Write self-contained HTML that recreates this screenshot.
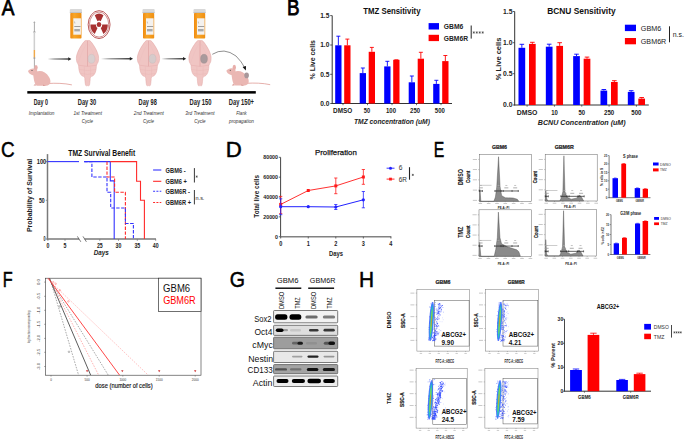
<!DOCTYPE html><html><head><meta charset="utf-8"><title>Figure</title>
<style>html,body{margin:0;padding:0;background:#fff;width:685px;height:439px;overflow:hidden}svg{display:block;font-family:"Liberation Sans",sans-serif}</style></head><body>
<svg width="685" height="439" viewBox="0 0 685 439">
<defs><linearGradient id="agrad" x1="0" x2="1" y1="0" y2="0"><stop offset="0" stop-color="#000" stop-opacity="0"/><stop offset="0.35" stop-color="#333" stop-opacity="0.6"/><stop offset="1" stop-color="#111"/></linearGradient><linearGradient id="bgrad" x1="0" x2="1" y1="0" y2="0"><stop offset="0" stop-color="#f08a10"/><stop offset="0.35" stop-color="#f7a629"/><stop offset="1" stop-color="#ef8f12"/></linearGradient><filter id="blur2" x="-50%" y="-10%" width="200%" height="120%"><feGaussianBlur stdDeviation="0.4"/></filter><filter id="blur1" x="-30%" y="-60%" width="160%" height="220%"><feGaussianBlur stdDeviation="0.55"/></filter><clipPath id="fclip"><rect x="45.5" y="278.2" width="155.5" height="97"/></clipPath></defs>
<rect width="685" height="439" fill="#fff"/>
<text x="1.80" y="15.30" font-size="22.46" textLength="12.64" lengthAdjust="spacingAndGlyphs" stroke="#000" stroke-width="0.8">A</text>
<line x1="34.40" y1="21.50" x2="34.40" y2="70.00" stroke="#555" stroke-width="0.5"/>
<rect x="33.60" y="22.00" width="1.60" height="1.00" fill="#aaa"/>
<rect x="33.30" y="31.50" width="2.20" height="1.00" fill="#999"/>
<rect x="33.70" y="32.00" width="1.40" height="18.00" fill="#cfcfcf"/>
<rect x="33.70" y="50.00" width="1.40" height="7.50" fill="#f0a848"/>
<rect x="33.50" y="57.50" width="1.80" height="1.20" fill="#999"/>
<rect x="27.30" y="91.10" width="228.50" height="2.50" fill="#000"/>
<rect x="47.70" y="58.40" width="20.90" height="1.20" fill="url(#agrad)"/>
<path d="M71.4,59.0 L68.2,57.3 L68.2,60.7 Z" fill="#222" stroke="none" stroke-width="1"/>
<rect x="101.00" y="58.20" width="29.20" height="1.20" fill="url(#agrad)"/>
<path d="M133.0,58.8 L129.8,57.1 L129.8,60.5 Z" fill="#222" stroke="none" stroke-width="1"/>
<rect x="161.40" y="58.20" width="22.00" height="1.20" fill="url(#agrad)"/>
<path d="M186.2,58.8 L183.0,57.1 L183.0,60.5 Z" fill="#222" stroke="none" stroke-width="1"/>
<path d="M212.3,54.3 Q224,47 236,56 Q242,62 244.6,67.6" fill="none" stroke="#333" stroke-width="0.55"/>
<path d="M245.8,70.6 L242.6,67.0 L246.0,66.0 Z" fill="#111" stroke="none" stroke-width="1"/>
<rect x="69.80" y="9.0" width="12.2" height="4.2" rx="1" fill="#d8d8d8"/>
<rect x="69.80" y="12.30" width="12.20" height="0.90" fill="#bbb"/>
<rect x="70.30" y="13.1" width="11.2" height="25.4" rx="0.8" fill="url(#bgrad)"/>
<rect x="73.30" y="18.30" width="7.60" height="16.40" fill="#f4f1ee"/>
<line x1="74.50" y1="21.50" x2="74.90" y2="23.50" stroke="#777" stroke-width="0.4"/>
<rect x="74.30" y="26.00" width="6.20" height="0.60" fill="#666"/>
<rect x="74.30" y="29.00" width="5.60" height="2.40" fill="#aaa"/>
<rect x="142.50" y="9.0" width="12.2" height="4.2" rx="1" fill="#d8d8d8"/>
<rect x="142.50" y="12.30" width="12.20" height="0.90" fill="#bbb"/>
<rect x="143.00" y="13.1" width="11.2" height="25.4" rx="0.8" fill="url(#bgrad)"/>
<rect x="146.00" y="18.30" width="7.60" height="16.40" fill="#f4f1ee"/>
<line x1="147.20" y1="21.50" x2="147.60" y2="23.50" stroke="#777" stroke-width="0.4"/>
<rect x="147.00" y="26.00" width="6.20" height="0.60" fill="#666"/>
<rect x="147.00" y="29.00" width="5.60" height="2.40" fill="#aaa"/>
<rect x="193.50" y="9.0" width="12.2" height="4.2" rx="1" fill="#d8d8d8"/>
<rect x="193.50" y="12.30" width="12.20" height="0.90" fill="#bbb"/>
<rect x="194.00" y="13.1" width="11.2" height="25.4" rx="0.8" fill="url(#bgrad)"/>
<rect x="197.00" y="18.30" width="7.60" height="16.40" fill="#f4f1ee"/>
<line x1="198.20" y1="21.50" x2="198.60" y2="23.50" stroke="#777" stroke-width="0.4"/>
<rect x="198.00" y="26.00" width="6.20" height="0.60" fill="#666"/>
<rect x="198.00" y="29.00" width="5.60" height="2.40" fill="#aaa"/>
<ellipse cx="99.1" cy="24.6" rx="10.95" ry="13.95" fill="none" stroke="#a83131" stroke-width="0.8"/>
<ellipse cx="99.1" cy="24.6" rx="9.6" ry="12.55" fill="none" stroke="#a83131" stroke-width="0.55"/>
<path d="M97.50,21.14 L94.74,15.16 A8.72,10.90 0 0 1 103.46,15.16 L100.70,21.14 A3.20,4.00 0 0 0 97.50,21.14 Z M102.30,24.60 L107.82,24.60 A8.72,10.90 0 0 1 103.46,34.04 L100.70,28.06 A3.20,4.00 0 0 0 102.30,24.60 Z M97.50,28.06 L94.74,34.04 A8.72,10.90 0 0 1 90.38,24.60 L95.90,24.60 A3.20,4.00 0 0 0 97.50,28.06 Z" fill="#a83131" stroke="none" stroke-width="1"/>
<ellipse cx="99.0" cy="24.5" rx="2.3" ry="2.5" fill="#a83131"/>
<path d="M87.50,40.60 C87.80,40.58 88.73,40.33 89.30,40.50 C89.87,40.67 90.27,40.92 90.90,41.60 C91.53,42.28 92.23,43.27 93.10,44.60 C93.97,45.93 95.25,47.87 96.10,49.60 C96.95,51.33 97.78,53.50 98.20,55.00 C98.62,56.50 98.62,57.43 98.60,58.60 C98.58,59.77 98.45,60.90 98.10,62.00 C97.75,63.10 96.82,64.12 96.50,65.20 C96.18,66.28 96.40,67.28 96.20,68.50 C96.00,69.72 95.78,71.32 95.30,72.50 C94.82,73.68 94.10,74.82 93.30,75.60 C92.50,76.38 91.03,76.38 90.50,77.20 C89.97,78.02 90.30,79.13 90.10,80.50 C89.90,81.87 89.73,84.55 89.30,85.40 C88.87,86.25 87.80,85.57 87.50,85.60 C87.20,85.57 86.13,86.25 85.70,85.40 C85.27,84.55 85.10,81.87 84.90,80.50 C84.70,79.13 85.03,78.02 84.50,77.20 C83.97,76.38 82.50,76.38 81.70,75.60 C80.90,74.82 80.18,73.68 79.70,72.50 C79.22,71.32 79.00,69.72 78.80,68.50 C78.60,67.28 78.82,66.28 78.50,65.20 C78.18,64.12 77.25,63.10 76.90,62.00 C76.55,60.90 76.42,59.77 76.40,58.60 C76.38,57.43 76.38,56.50 76.80,55.00 C77.22,53.50 78.05,51.33 78.90,49.60 C79.75,47.87 81.03,45.93 81.90,44.60 C82.77,43.27 83.47,42.28 84.10,41.60 C84.73,40.92 85.13,40.67 85.70,40.50 C86.27,40.33 87.20,40.58 87.50,40.60 Z" fill="#f0c5c3" stroke="#e0a4a3" stroke-width="0.5"/>
<path d="M78.50,65.2 Q87.50,67.6 96.50,65.2" fill="none" stroke="#e4abaa" stroke-width="0.45"/>
<path d="M79.30,69.5 Q87.50,71.5 95.70,69.5 M81.00,73.5 Q87.50,75.3 94.00,73.5" fill="none" stroke="#e8b5b4" stroke-width="0.4"/>
<path d="M84.30,66.5 L84.50,76.5 M90.70,66.5 L90.50,76.5" fill="none" stroke="#e8b5b4" stroke-width="0.35"/>
<path d="M88.70,44 Q93.50,52 97.00,63 M86.30,44 Q81.50,52 78.00,63" fill="none" stroke="#ecbcbb" stroke-width="0.35"/>
<line x1="87.50" y1="40.80" x2="87.50" y2="66.20" stroke="#dc9c9c" stroke-width="0.55"/>
<ellipse cx="91.50" cy="58.8" rx="3.4" ry="4.5" fill="#d9cfcf" stroke="#c9bcbd" stroke-width="0.4"/>
<path d="M148.50,40.60 C148.80,40.58 149.73,40.33 150.30,40.50 C150.87,40.67 151.27,40.92 151.90,41.60 C152.53,42.28 153.23,43.27 154.10,44.60 C154.97,45.93 156.25,47.87 157.10,49.60 C157.95,51.33 158.78,53.50 159.20,55.00 C159.62,56.50 159.62,57.43 159.60,58.60 C159.58,59.77 159.45,60.90 159.10,62.00 C158.75,63.10 157.82,64.12 157.50,65.20 C157.18,66.28 157.40,67.28 157.20,68.50 C157.00,69.72 156.78,71.32 156.30,72.50 C155.82,73.68 155.10,74.82 154.30,75.60 C153.50,76.38 152.03,76.38 151.50,77.20 C150.97,78.02 151.30,79.13 151.10,80.50 C150.90,81.87 150.73,84.55 150.30,85.40 C149.87,86.25 148.80,85.57 148.50,85.60 C148.20,85.57 147.13,86.25 146.70,85.40 C146.27,84.55 146.10,81.87 145.90,80.50 C145.70,79.13 146.03,78.02 145.50,77.20 C144.97,76.38 143.50,76.38 142.70,75.60 C141.90,74.82 141.18,73.68 140.70,72.50 C140.22,71.32 140.00,69.72 139.80,68.50 C139.60,67.28 139.82,66.28 139.50,65.20 C139.18,64.12 138.25,63.10 137.90,62.00 C137.55,60.90 137.42,59.77 137.40,58.60 C137.38,57.43 137.38,56.50 137.80,55.00 C138.22,53.50 139.05,51.33 139.90,49.60 C140.75,47.87 142.03,45.93 142.90,44.60 C143.77,43.27 144.47,42.28 145.10,41.60 C145.73,40.92 146.13,40.67 146.70,40.50 C147.27,40.33 148.20,40.58 148.50,40.60 Z" fill="#f0c5c3" stroke="#e0a4a3" stroke-width="0.5"/>
<path d="M139.50,65.2 Q148.50,67.6 157.50,65.2" fill="none" stroke="#e4abaa" stroke-width="0.45"/>
<path d="M140.30,69.5 Q148.50,71.5 156.70,69.5 M142.00,73.5 Q148.50,75.3 155.00,73.5" fill="none" stroke="#e8b5b4" stroke-width="0.4"/>
<path d="M145.30,66.5 L145.50,76.5 M151.70,66.5 L151.50,76.5" fill="none" stroke="#e8b5b4" stroke-width="0.35"/>
<path d="M149.70,44 Q154.50,52 158.00,63 M147.30,44 Q142.50,52 139.00,63" fill="none" stroke="#ecbcbb" stroke-width="0.35"/>
<line x1="148.50" y1="40.80" x2="148.50" y2="66.20" stroke="#dc9c9c" stroke-width="0.55"/>
<ellipse cx="152.50" cy="58.8" rx="3.4" ry="4.5" fill="#d6cbcb" stroke="#c4b8b9" stroke-width="0.4"/>
<path d="M200.00,40.60 C200.30,40.58 201.23,40.33 201.80,40.50 C202.37,40.67 202.77,40.92 203.40,41.60 C204.03,42.28 204.73,43.27 205.60,44.60 C206.47,45.93 207.75,47.87 208.60,49.60 C209.45,51.33 210.28,53.50 210.70,55.00 C211.12,56.50 211.12,57.43 211.10,58.60 C211.08,59.77 210.95,60.90 210.60,62.00 C210.25,63.10 209.32,64.12 209.00,65.20 C208.68,66.28 208.90,67.28 208.70,68.50 C208.50,69.72 208.28,71.32 207.80,72.50 C207.32,73.68 206.60,74.82 205.80,75.60 C205.00,76.38 203.53,76.38 203.00,77.20 C202.47,78.02 202.80,79.13 202.60,80.50 C202.40,81.87 202.23,84.55 201.80,85.40 C201.37,86.25 200.30,85.57 200.00,85.60 C199.70,85.57 198.63,86.25 198.20,85.40 C197.77,84.55 197.60,81.87 197.40,80.50 C197.20,79.13 197.53,78.02 197.00,77.20 C196.47,76.38 195.00,76.38 194.20,75.60 C193.40,74.82 192.68,73.68 192.20,72.50 C191.72,71.32 191.50,69.72 191.30,68.50 C191.10,67.28 191.32,66.28 191.00,65.20 C190.68,64.12 189.75,63.10 189.40,62.00 C189.05,60.90 188.92,59.77 188.90,58.60 C188.88,57.43 188.88,56.50 189.30,55.00 C189.72,53.50 190.55,51.33 191.40,49.60 C192.25,47.87 193.53,45.93 194.40,44.60 C195.27,43.27 195.97,42.28 196.60,41.60 C197.23,40.92 197.63,40.67 198.20,40.50 C198.77,40.33 199.70,40.58 200.00,40.60 Z" fill="#f0c5c3" stroke="#e0a4a3" stroke-width="0.5"/>
<path d="M191.00,65.2 Q200.00,67.6 209.00,65.2" fill="none" stroke="#e4abaa" stroke-width="0.45"/>
<path d="M191.80,69.5 Q200.00,71.5 208.20,69.5 M193.50,73.5 Q200.00,75.3 206.50,73.5" fill="none" stroke="#e8b5b4" stroke-width="0.4"/>
<path d="M196.80,66.5 L197.00,76.5 M203.20,66.5 L203.00,76.5" fill="none" stroke="#e8b5b4" stroke-width="0.35"/>
<path d="M201.20,44 Q206.00,52 209.50,63 M198.80,44 Q194.00,52 190.50,63" fill="none" stroke="#ecbcbb" stroke-width="0.35"/>
<line x1="200.00" y1="40.80" x2="200.00" y2="66.20" stroke="#dc9c9c" stroke-width="0.55"/>
<ellipse cx="204.00" cy="58.8" rx="3.4" ry="4.5" fill="#a99a9c" stroke="#978789" stroke-width="0.4"/>
<path d="M48.00,83.50 C56.00,83.00 64.00,83.20 71.50,84.80" fill="none" stroke="#e6b0ac" stroke-width="1.0" stroke-linecap="round"/>
<path d="M33.00,74.00 C37.00,69.50 45.00,70.00 49.00,77.00 C51.50,81.00 51.00,85.50 46.00,85.80 L37.00,85.80 C34.00,84.00 34.00,79.00 33.00,74.00 Z" fill="#eab7b3" stroke="none" stroke-width="1"/>
<path d="M28.00,71.00 C30.00,68.50 34.00,67.50 37.00,70.00 C38.00,73.00 36.00,76.00 32.00,75.00 C30.00,74.00 28.50,73.00 28.00,71.00 Z" fill="#eab7b3" stroke="none" stroke-width="1"/>
<ellipse cx="36.00" cy="67.60" rx="1.7" ry="2.6" fill="#e8aeaa"/>
<circle cx="32.00" cy="70.50" r="0.55" fill="#444"/>
<path d="M35.00,84.00 l-1.5,1.6 l3,0 Z M43.00,84.50 l0,1.5 l3,0 Z" fill="#d99c98" stroke="none" stroke-width="1"/>
<path d="M246.30,83.30 C254.30,82.80 262.30,83.00 269.80,84.60" fill="none" stroke="#e6b0ac" stroke-width="1.0" stroke-linecap="round"/>
<path d="M231.30,73.80 C235.30,69.30 243.30,69.80 247.30,76.80 C249.80,80.80 249.30,85.30 244.30,85.60 L235.30,85.60 C232.30,83.80 232.30,78.80 231.30,73.80 Z" fill="#eab7b3" stroke="none" stroke-width="1"/>
<path d="M226.30,70.80 C228.30,68.30 232.30,67.30 235.30,69.80 C236.30,72.80 234.30,75.80 230.30,74.80 C228.30,73.80 226.80,72.80 226.30,70.80 Z" fill="#eab7b3" stroke="none" stroke-width="1"/>
<ellipse cx="234.30" cy="67.40" rx="1.7" ry="2.6" fill="#e8aeaa"/>
<circle cx="230.30" cy="70.30" r="0.55" fill="#444"/>
<path d="M233.30,83.80 l-1.5,1.6 l3,0 Z M241.30,84.30 l0,1.5 l3,0 Z" fill="#d99c98" stroke="none" stroke-width="1"/>
<ellipse cx="246.60" cy="75.40" rx="2.3" ry="2.8" fill="#a8979a"/>
<text x="33.70" y="105.20" font-size="8.6" font-weight="bold" textLength="14.30" lengthAdjust="spacingAndGlyphs" fill="#222">Day 0</text>
<text x="77.80" y="105.20" font-size="8.6" font-weight="bold" textLength="18.40" lengthAdjust="spacingAndGlyphs" fill="#222">Day 30</text>
<text x="138.60" y="105.20" font-size="8.6" font-weight="bold" textLength="18.20" lengthAdjust="spacingAndGlyphs" fill="#222">Day 98</text>
<text x="189.60" y="105.20" font-size="8.6" font-weight="bold" textLength="21.90" lengthAdjust="spacingAndGlyphs" fill="#222">Day 150</text>
<text x="228.80" y="105.20" font-size="8.6" font-weight="bold" textLength="25.20" lengthAdjust="spacingAndGlyphs" fill="#222">Day 150+</text>
<text x="28.80" y="115.40" font-size="5.8" textLength="25.70" lengthAdjust="spacingAndGlyphs" font-style="italic" fill="#333">Implantation</text>
<text x="73.40" y="115.40" font-size="5.8" textLength="28.60" lengthAdjust="spacingAndGlyphs" font-style="italic" fill="#333">1st Treatment</text>
<text x="133.80" y="115.40" font-size="5.8" textLength="30.00" lengthAdjust="spacingAndGlyphs" font-style="italic" fill="#333">2nd Treatment</text>
<text x="185.30" y="115.40" font-size="5.8" textLength="29.30" lengthAdjust="spacingAndGlyphs" font-style="italic" fill="#333">3rd Treatment</text>
<text x="241.50" y="115.40" font-size="5.8" text-anchor="middle" textLength="10.50" lengthAdjust="spacingAndGlyphs" font-style="italic" fill="#333">Flank</text>
<text x="87.40" y="123.00" font-size="5.8" text-anchor="middle" textLength="11.20" lengthAdjust="spacingAndGlyphs" font-style="italic" fill="#333">Cycle</text>
<text x="148.50" y="123.00" font-size="5.8" text-anchor="middle" textLength="11.20" lengthAdjust="spacingAndGlyphs" font-style="italic" fill="#333">Cycle</text>
<text x="199.90" y="123.00" font-size="5.8" text-anchor="middle" textLength="11.20" lengthAdjust="spacingAndGlyphs" font-style="italic" fill="#333">Cycle</text>
<text x="229.00" y="123.00" font-size="5.8" textLength="25.00" lengthAdjust="spacingAndGlyphs" font-style="italic" fill="#333">propagation</text>
<text x="286.89" y="15.30" font-size="21.88" textLength="12.59" lengthAdjust="spacingAndGlyphs" stroke="#000" stroke-width="0.8">B</text>
<line x1="332.20" y1="15.60" x2="332.20" y2="103.90" stroke="#333" stroke-width="1.0"/>
<line x1="331.70" y1="103.50" x2="452.00" y2="103.50" stroke="#333" stroke-width="1.0"/>
<line x1="330.20" y1="15.60" x2="332.20" y2="15.60" stroke="#333" stroke-width="0.8"/>
<text x="329.40" y="17.80" font-size="6.3" font-weight="bold" text-anchor="end" textLength="9.20" lengthAdjust="spacingAndGlyphs" fill="#222">1.5</text>
<line x1="330.20" y1="45.00" x2="332.20" y2="45.00" stroke="#333" stroke-width="0.8"/>
<text x="329.40" y="47.20" font-size="6.3" font-weight="bold" text-anchor="end" textLength="9.20" lengthAdjust="spacingAndGlyphs" fill="#222">1.0</text>
<line x1="330.20" y1="74.30" x2="332.20" y2="74.30" stroke="#333" stroke-width="0.8"/>
<text x="329.40" y="76.50" font-size="6.3" font-weight="bold" text-anchor="end" textLength="9.20" lengthAdjust="spacingAndGlyphs" fill="#222">0.5</text>
<line x1="330.20" y1="103.50" x2="332.20" y2="103.50" stroke="#333" stroke-width="0.8"/>
<text x="329.40" y="105.70" font-size="6.3" font-weight="bold" text-anchor="end" textLength="9.20" lengthAdjust="spacingAndGlyphs" fill="#222">0.0</text>
<text x="363.22" y="14.00" font-size="8.5" font-weight="bold" textLength="57.28" lengthAdjust="spacingAndGlyphs" fill="#111">TMZ Sensitivity</text>
<text x="315.20" y="79.44" font-size="7.6" font-weight="bold" textLength="39.38" lengthAdjust="spacingAndGlyphs" fill="#222" transform="rotate(-90 315.20 79.44)">% Live cells</text>
<rect x="335.20" y="45.30" width="6.30" height="58.20" fill="#0000ff"/>
<rect x="344.20" y="45.30" width="6.30" height="58.20" fill="#ff0000"/>
<line x1="338.35" y1="45.30" x2="338.35" y2="36.20" stroke="#0000ff" stroke-width="0.9"/>
<line x1="336.35" y1="36.20" x2="340.35" y2="36.20" stroke="#0000ff" stroke-width="0.9"/>
<line x1="347.35" y1="45.30" x2="347.35" y2="39.10" stroke="#ff0000" stroke-width="0.9"/>
<line x1="345.35" y1="39.10" x2="349.35" y2="39.10" stroke="#ff0000" stroke-width="0.9"/>
<line x1="343.00" y1="103.50" x2="343.00" y2="105.20" stroke="#333" stroke-width="0.7"/>
<text x="342.70" y="113.00" font-size="6.6" font-weight="bold" text-anchor="middle" textLength="19.20" lengthAdjust="spacingAndGlyphs" fill="#222">DMSO</text>
<rect x="359.70" y="73.10" width="6.30" height="30.40" fill="#0000ff"/>
<rect x="368.70" y="51.80" width="6.30" height="51.70" fill="#ff0000"/>
<line x1="362.85" y1="73.10" x2="362.85" y2="68.00" stroke="#0000ff" stroke-width="0.9"/>
<line x1="360.85" y1="68.00" x2="364.85" y2="68.00" stroke="#0000ff" stroke-width="0.9"/>
<line x1="371.85" y1="51.80" x2="371.85" y2="47.40" stroke="#ff0000" stroke-width="0.9"/>
<line x1="369.85" y1="47.40" x2="373.85" y2="47.40" stroke="#ff0000" stroke-width="0.9"/>
<line x1="367.50" y1="103.50" x2="367.50" y2="105.20" stroke="#333" stroke-width="0.7"/>
<text x="367.00" y="113.00" font-size="6.6" font-weight="bold" text-anchor="middle" textLength="6.40" lengthAdjust="spacingAndGlyphs" fill="#222">50</text>
<rect x="384.20" y="66.40" width="6.30" height="37.10" fill="#0000ff"/>
<rect x="393.20" y="59.80" width="6.30" height="43.70" fill="#ff0000"/>
<line x1="387.35" y1="66.40" x2="387.35" y2="61.30" stroke="#0000ff" stroke-width="0.9"/>
<line x1="385.35" y1="61.30" x2="389.35" y2="61.30" stroke="#0000ff" stroke-width="0.9"/>
<line x1="394.35" y1="59.80" x2="398.35" y2="59.80" stroke="#ff0000" stroke-width="0.9"/>
<line x1="392.00" y1="103.50" x2="392.00" y2="105.20" stroke="#333" stroke-width="0.7"/>
<text x="391.00" y="113.00" font-size="6.6" font-weight="bold" text-anchor="middle" textLength="10.00" lengthAdjust="spacingAndGlyphs" fill="#222">100</text>
<rect x="408.70" y="82.30" width="6.30" height="21.20" fill="#0000ff"/>
<rect x="417.70" y="58.70" width="6.30" height="44.80" fill="#ff0000"/>
<line x1="411.85" y1="82.30" x2="411.85" y2="76.00" stroke="#0000ff" stroke-width="0.9"/>
<line x1="409.85" y1="76.00" x2="413.85" y2="76.00" stroke="#0000ff" stroke-width="0.9"/>
<line x1="420.85" y1="58.70" x2="420.85" y2="52.30" stroke="#ff0000" stroke-width="0.9"/>
<line x1="418.85" y1="52.30" x2="422.85" y2="52.30" stroke="#ff0000" stroke-width="0.9"/>
<line x1="416.50" y1="103.50" x2="416.50" y2="105.20" stroke="#333" stroke-width="0.7"/>
<text x="415.10" y="113.00" font-size="6.6" font-weight="bold" text-anchor="middle" textLength="10.00" lengthAdjust="spacingAndGlyphs" fill="#222">250</text>
<rect x="433.20" y="83.90" width="6.30" height="19.60" fill="#0000ff"/>
<rect x="442.20" y="61.10" width="6.30" height="42.40" fill="#ff0000"/>
<line x1="436.35" y1="83.90" x2="436.35" y2="80.30" stroke="#0000ff" stroke-width="0.9"/>
<line x1="434.35" y1="80.30" x2="438.35" y2="80.30" stroke="#0000ff" stroke-width="0.9"/>
<line x1="445.35" y1="61.10" x2="445.35" y2="55.50" stroke="#ff0000" stroke-width="0.9"/>
<line x1="443.35" y1="55.50" x2="447.35" y2="55.50" stroke="#ff0000" stroke-width="0.9"/>
<line x1="441.00" y1="103.50" x2="441.00" y2="105.20" stroke="#333" stroke-width="0.7"/>
<text x="439.80" y="113.00" font-size="6.6" font-weight="bold" text-anchor="middle" textLength="10.00" lengthAdjust="spacingAndGlyphs" fill="#222">500</text>
<text x="354.00" y="124.00" font-size="7.4" font-weight="bold" textLength="75.90" lengthAdjust="spacingAndGlyphs" font-style="italic" fill="#222">TMZ concentration (uM)</text>
<rect x="428.60" y="23.10" width="10.40" height="6.40" fill="#0000ff"/>
<rect x="428.60" y="34.80" width="10.40" height="6.30" fill="#ff0000"/>
<text x="443.80" y="28.90" font-size="7.0" font-weight="bold" textLength="19.50" lengthAdjust="spacingAndGlyphs" fill="#222">GBM6</text>
<text x="443.80" y="40.90" font-size="7.0" font-weight="bold" textLength="24.20" lengthAdjust="spacingAndGlyphs" fill="#222">GBM6R</text>
<line x1="471.20" y1="25.50" x2="471.20" y2="38.60" stroke="#222" stroke-width="1.0"/>
<path d="M473.80,31.30 L473.80,33.70 M472.76,31.90 L474.84,33.10 M472.76,33.10 L474.84,31.90 " fill="none" stroke="#333" stroke-width="0.55"/>
<path d="M476.77,31.30 L476.77,33.70 M475.73,31.90 L477.81,33.10 M475.73,33.10 L477.81,31.90 " fill="none" stroke="#333" stroke-width="0.55"/>
<path d="M479.73,31.30 L479.73,33.70 M478.69,31.90 L480.77,33.10 M478.69,33.10 L480.77,31.90 " fill="none" stroke="#333" stroke-width="0.55"/>
<path d="M482.70,31.30 L482.70,33.70 M481.66,31.90 L483.74,33.10 M481.66,33.10 L483.74,31.90 " fill="none" stroke="#333" stroke-width="0.55"/>
<line x1="514.70" y1="11.50" x2="514.70" y2="105.40" stroke="#333" stroke-width="1.0"/>
<line x1="514.20" y1="105.00" x2="648.80" y2="105.00" stroke="#333" stroke-width="1.0"/>
<line x1="512.70" y1="11.50" x2="514.70" y2="11.50" stroke="#333" stroke-width="0.8"/>
<text x="512.40" y="13.70" font-size="6.3" font-weight="bold" text-anchor="end" textLength="9.40" lengthAdjust="spacingAndGlyphs" fill="#222">1.5</text>
<line x1="512.70" y1="42.70" x2="514.70" y2="42.70" stroke="#333" stroke-width="0.8"/>
<text x="512.40" y="44.90" font-size="6.3" font-weight="bold" text-anchor="end" textLength="9.40" lengthAdjust="spacingAndGlyphs" fill="#222">1.0</text>
<line x1="512.70" y1="73.70" x2="514.70" y2="73.70" stroke="#333" stroke-width="0.8"/>
<text x="512.40" y="75.90" font-size="6.3" font-weight="bold" text-anchor="end" textLength="9.40" lengthAdjust="spacingAndGlyphs" fill="#222">0.5</text>
<line x1="512.70" y1="105.00" x2="514.70" y2="105.00" stroke="#333" stroke-width="0.8"/>
<text x="512.40" y="107.20" font-size="6.3" font-weight="bold" text-anchor="end" textLength="9.40" lengthAdjust="spacingAndGlyphs" fill="#222">0.0</text>
<text x="547.16" y="14.00" font-size="8.5" font-weight="bold" textLength="68.43" lengthAdjust="spacingAndGlyphs" fill="#111">BCNU Sensitivity</text>
<text x="501.00" y="80.15" font-size="7.8" font-weight="bold" textLength="42.51" lengthAdjust="spacingAndGlyphs" fill="#222" transform="rotate(-90 501.00 80.15)">% Live cells</text>
<rect x="518.50" y="47.80" width="6.70" height="57.20" fill="#0000ff"/>
<rect x="529.00" y="43.90" width="6.70" height="61.10" fill="#ff0000"/>
<line x1="521.85" y1="47.80" x2="521.85" y2="44.30" stroke="#0000ff" stroke-width="0.9"/>
<line x1="519.55" y1="44.30" x2="524.15" y2="44.30" stroke="#0000ff" stroke-width="0.9"/>
<line x1="532.35" y1="43.90" x2="532.35" y2="42.30" stroke="#ff0000" stroke-width="0.9"/>
<line x1="530.05" y1="42.30" x2="534.65" y2="42.30" stroke="#ff0000" stroke-width="0.9"/>
<line x1="527.10" y1="105.00" x2="527.10" y2="106.70" stroke="#333" stroke-width="0.7"/>
<text x="527.10" y="114.60" font-size="6.8" font-weight="bold" text-anchor="middle" textLength="20.70" lengthAdjust="spacingAndGlyphs" fill="#222">DMSO</text>
<rect x="545.83" y="46.70" width="6.70" height="58.30" fill="#0000ff"/>
<rect x="556.33" y="45.90" width="6.70" height="59.10" fill="#ff0000"/>
<line x1="549.18" y1="46.70" x2="549.18" y2="44.20" stroke="#0000ff" stroke-width="0.9"/>
<line x1="546.88" y1="44.20" x2="551.48" y2="44.20" stroke="#0000ff" stroke-width="0.9"/>
<line x1="559.68" y1="45.90" x2="559.68" y2="42.70" stroke="#ff0000" stroke-width="0.9"/>
<line x1="557.38" y1="42.70" x2="561.98" y2="42.70" stroke="#ff0000" stroke-width="0.9"/>
<line x1="554.43" y1="105.00" x2="554.43" y2="106.70" stroke="#333" stroke-width="0.7"/>
<text x="554.43" y="114.60" font-size="6.8" font-weight="bold" text-anchor="middle" textLength="6.60" lengthAdjust="spacingAndGlyphs" fill="#222">10</text>
<rect x="573.16" y="56.10" width="6.70" height="48.90" fill="#0000ff"/>
<rect x="583.66" y="58.70" width="6.70" height="46.30" fill="#ff0000"/>
<line x1="576.51" y1="56.10" x2="576.51" y2="54.20" stroke="#0000ff" stroke-width="0.9"/>
<line x1="574.21" y1="54.20" x2="578.81" y2="54.20" stroke="#0000ff" stroke-width="0.9"/>
<line x1="587.01" y1="58.70" x2="587.01" y2="57.10" stroke="#ff0000" stroke-width="0.9"/>
<line x1="584.71" y1="57.10" x2="589.31" y2="57.10" stroke="#ff0000" stroke-width="0.9"/>
<line x1="581.76" y1="105.00" x2="581.76" y2="106.70" stroke="#333" stroke-width="0.7"/>
<text x="581.76" y="114.60" font-size="6.8" font-weight="bold" text-anchor="middle" textLength="6.60" lengthAdjust="spacingAndGlyphs" fill="#222">50</text>
<rect x="600.49" y="90.60" width="6.70" height="14.40" fill="#0000ff"/>
<rect x="610.99" y="82.00" width="6.70" height="23.00" fill="#ff0000"/>
<line x1="603.84" y1="90.60" x2="603.84" y2="89.50" stroke="#0000ff" stroke-width="0.9"/>
<line x1="601.54" y1="89.50" x2="606.14" y2="89.50" stroke="#0000ff" stroke-width="0.9"/>
<line x1="614.34" y1="82.00" x2="614.34" y2="80.70" stroke="#ff0000" stroke-width="0.9"/>
<line x1="612.04" y1="80.70" x2="616.64" y2="80.70" stroke="#ff0000" stroke-width="0.9"/>
<line x1="609.09" y1="105.00" x2="609.09" y2="106.70" stroke="#333" stroke-width="0.7"/>
<text x="609.09" y="114.60" font-size="6.8" font-weight="bold" text-anchor="middle" textLength="10.20" lengthAdjust="spacingAndGlyphs" fill="#222">250</text>
<rect x="627.82" y="91.90" width="6.70" height="13.10" fill="#0000ff"/>
<rect x="638.32" y="98.60" width="6.70" height="6.40" fill="#ff0000"/>
<line x1="631.17" y1="91.90" x2="631.17" y2="90.70" stroke="#0000ff" stroke-width="0.9"/>
<line x1="628.87" y1="90.70" x2="633.47" y2="90.70" stroke="#0000ff" stroke-width="0.9"/>
<line x1="641.67" y1="98.60" x2="641.67" y2="97.50" stroke="#ff0000" stroke-width="0.9"/>
<line x1="639.37" y1="97.50" x2="643.97" y2="97.50" stroke="#ff0000" stroke-width="0.9"/>
<line x1="636.42" y1="105.00" x2="636.42" y2="106.70" stroke="#333" stroke-width="0.7"/>
<text x="636.42" y="114.60" font-size="6.8" font-weight="bold" text-anchor="middle" textLength="10.20" lengthAdjust="spacingAndGlyphs" fill="#222">500</text>
<text x="537.80" y="124.80" font-size="7.4" font-weight="bold" textLength="87.90" lengthAdjust="spacingAndGlyphs" font-style="italic" fill="#222">BCNU Concentration (uM)</text>
<rect x="624.90" y="24.70" width="11.10" height="6.40" fill="#0000ff"/>
<rect x="624.90" y="38.00" width="11.10" height="6.30" fill="#ff0000"/>
<text x="640.80" y="31.00" font-size="7.2" textLength="20.40" lengthAdjust="spacingAndGlyphs" fill="#222">GBM6</text>
<text x="640.80" y="43.70" font-size="7.2" textLength="25.50" lengthAdjust="spacingAndGlyphs" fill="#222">GBM6R</text>
<line x1="669.50" y1="26.30" x2="669.50" y2="42.30" stroke="#222" stroke-width="1.0"/>
<text x="672.70" y="37.20" font-size="7.0" textLength="11.20" lengthAdjust="spacingAndGlyphs" fill="#222">n.s.</text>
<text x="0.91" y="157.05" font-size="21.54" textLength="13.65" lengthAdjust="spacingAndGlyphs" stroke="#000" stroke-width="0.5">C</text>
<text x="68.33" y="155.50" font-size="8.7" font-weight="bold" textLength="66.91" lengthAdjust="spacingAndGlyphs" fill="#111">TMZ Survival Benefit</text>
<line x1="47.50" y1="154.10" x2="47.50" y2="239.70" stroke="#7a7a7a" stroke-width="1.5"/>
<line x1="46.80" y1="239.00" x2="79.00" y2="239.00" stroke="#7a7a7a" stroke-width="1.5"/>
<line x1="84.60" y1="239.00" x2="156.00" y2="239.00" stroke="#7a7a7a" stroke-width="1.5"/>
<line x1="77.40" y1="236.40" x2="80.80" y2="241.80" stroke="#444" stroke-width="0.7"/>
<line x1="83.00" y1="236.40" x2="86.40" y2="241.80" stroke="#444" stroke-width="0.7"/>
<line x1="45.80" y1="161.60" x2="47.50" y2="161.60" stroke="#7a7a7a" stroke-width="0.8"/>
<text x="36.70" y="163.80" font-size="6.4" font-weight="bold" textLength="9.60" lengthAdjust="spacingAndGlyphs" fill="#222">100</text>
<line x1="45.80" y1="200.30" x2="47.50" y2="200.30" stroke="#7a7a7a" stroke-width="0.8"/>
<text x="39.00" y="202.50" font-size="6.4" font-weight="bold" textLength="5.70" lengthAdjust="spacingAndGlyphs" fill="#222">50</text>
<line x1="45.80" y1="239.00" x2="47.50" y2="239.00" stroke="#7a7a7a" stroke-width="0.8"/>
<text x="43.40" y="241.20" font-size="6.4" font-weight="bold" textLength="2.10" lengthAdjust="spacingAndGlyphs" fill="#222">0</text>
<line x1="47.90" y1="239.00" x2="47.90" y2="240.80" stroke="#7a7a7a" stroke-width="0.8"/>
<text x="47.90" y="248.00" font-size="6.4" font-weight="bold" text-anchor="middle" textLength="2.90" lengthAdjust="spacingAndGlyphs" fill="#222">0</text>
<line x1="65.00" y1="239.00" x2="65.00" y2="240.80" stroke="#7a7a7a" stroke-width="0.8"/>
<text x="65.00" y="248.00" font-size="6.4" font-weight="bold" text-anchor="middle" textLength="2.90" lengthAdjust="spacingAndGlyphs" fill="#222">5</text>
<line x1="99.80" y1="239.00" x2="99.80" y2="240.80" stroke="#7a7a7a" stroke-width="0.8"/>
<text x="99.80" y="248.00" font-size="6.4" font-weight="bold" text-anchor="middle" textLength="5.80" lengthAdjust="spacingAndGlyphs" fill="#222">25</text>
<line x1="118.50" y1="239.00" x2="118.50" y2="240.80" stroke="#7a7a7a" stroke-width="0.8"/>
<text x="118.50" y="248.00" font-size="6.4" font-weight="bold" text-anchor="middle" textLength="5.80" lengthAdjust="spacingAndGlyphs" fill="#222">30</text>
<line x1="137.30" y1="239.00" x2="137.30" y2="240.80" stroke="#7a7a7a" stroke-width="0.8"/>
<text x="137.30" y="248.00" font-size="6.4" font-weight="bold" text-anchor="middle" textLength="5.80" lengthAdjust="spacingAndGlyphs" fill="#222">35</text>
<line x1="155.70" y1="239.00" x2="155.70" y2="240.80" stroke="#7a7a7a" stroke-width="0.8"/>
<text x="155.70" y="248.00" font-size="6.4" font-weight="bold" text-anchor="middle" textLength="5.80" lengthAdjust="spacingAndGlyphs" fill="#222">40</text>
<text x="101.30" y="254.60" font-size="7.2" font-weight="bold" text-anchor="middle" textLength="15.00" lengthAdjust="spacingAndGlyphs" font-style="italic" fill="#222">Days</text>
<text x="32.20" y="232.05" font-size="7.0" font-weight="bold" textLength="73.33" lengthAdjust="spacingAndGlyphs" fill="#222" transform="rotate(-90 32.20 232.05)">Probability of Survival</text>
<path d="M47.5,161.6 H79" fill="none" stroke="#3333ff" stroke-width="1.1"/>
<path d="M84.2,161.6 H110.3 V180.9 H114.2 V239" fill="none" stroke="#3333ff" stroke-width="1.1"/>
<path d="M110.3,161.6 H136.6 V181.2 H140.5 V200.2 H144.4 V239" fill="none" stroke="#ff2b2b" stroke-width="1.1"/>
<path d="M107,161.6 V177 H114.6 V192.3 H125.4 V239" fill="none" stroke="#ff2b2b" stroke-width="1.1" stroke-dasharray="3.4,1.5"/>
<path d="M84.2,161.6 H91.9 V177 H107 V192.3 H110.7 V208 H125.4 V223.5 H133.4 V239" fill="none" stroke="#3333ff" stroke-width="1.1" stroke-dasharray="3.4,1.5"/>
<line x1="153.10" y1="170.00" x2="161.30" y2="170.00" stroke="#3333ff" stroke-width="1.1"/>
<text x="165.60" y="172.60" font-size="7.2" font-weight="bold" textLength="20.00" lengthAdjust="spacingAndGlyphs" fill="#222">GBM6 -</text>
<line x1="153.10" y1="181.30" x2="161.30" y2="181.30" stroke="#ff2b2b" stroke-width="1.1"/>
<text x="165.60" y="183.90" font-size="7.2" font-weight="bold" textLength="21.30" lengthAdjust="spacingAndGlyphs" fill="#222">GBM6 +</text>
<line x1="153.10" y1="191.30" x2="161.30" y2="191.30" stroke="#3333ff" stroke-width="1.1" stroke-dasharray="2,1.3"/>
<text x="165.60" y="193.90" font-size="7.2" font-weight="bold" textLength="24.40" lengthAdjust="spacingAndGlyphs" fill="#222">GBM6R -</text>
<line x1="153.10" y1="202.50" x2="161.30" y2="202.50" stroke="#ff2b2b" stroke-width="1.1" stroke-dasharray="2,1.3"/>
<text x="165.60" y="205.10" font-size="7.2" font-weight="bold" textLength="25.40" lengthAdjust="spacingAndGlyphs" fill="#222">GBM6R +</text>
<line x1="194.40" y1="168.10" x2="194.40" y2="182.50" stroke="#222" stroke-width="0.9"/>
<line x1="194.40" y1="190.00" x2="194.40" y2="204.40" stroke="#222" stroke-width="0.9"/>
<path d="M196.70,175.50 L196.70,177.70 M195.75,176.05 L197.65,177.15 M195.75,177.15 L197.65,176.05 " fill="none" stroke="#333" stroke-width="0.55"/>
<text x="195.60" y="199.50" font-size="6.2" textLength="8.80" lengthAdjust="spacingAndGlyphs" fill="#222">n.s.</text>
<text x="225.78" y="156.65" font-size="21.16" textLength="16.02" lengthAdjust="spacingAndGlyphs" stroke="#000" stroke-width="0.5">D</text>
<text x="314.97" y="155.20" font-size="8.1" textLength="41.81" lengthAdjust="spacingAndGlyphs" fill="#111" stroke="#111" stroke-width="0.25">Proliferation</text>
<line x1="280.60" y1="157.30" x2="280.60" y2="237.10" stroke="#444" stroke-width="1.0"/>
<line x1="280.10" y1="236.70" x2="391.30" y2="236.70" stroke="#828282" stroke-width="1.5"/>
<line x1="278.80" y1="236.70" x2="280.60" y2="236.70" stroke="#444" stroke-width="0.8"/>
<text x="278.00" y="238.80" font-size="6.2" font-weight="bold" text-anchor="end" textLength="2.95" lengthAdjust="spacingAndGlyphs" fill="#222">0</text>
<line x1="278.80" y1="216.85" x2="280.60" y2="216.85" stroke="#444" stroke-width="0.8"/>
<text x="278.00" y="218.95" font-size="6.2" font-weight="bold" text-anchor="end" textLength="14.75" lengthAdjust="spacingAndGlyphs" fill="#222">20000</text>
<line x1="278.80" y1="197.00" x2="280.60" y2="197.00" stroke="#444" stroke-width="0.8"/>
<text x="278.00" y="199.10" font-size="6.2" font-weight="bold" text-anchor="end" textLength="14.75" lengthAdjust="spacingAndGlyphs" fill="#222">40000</text>
<line x1="278.80" y1="177.15" x2="280.60" y2="177.15" stroke="#444" stroke-width="0.8"/>
<text x="278.00" y="179.25" font-size="6.2" font-weight="bold" text-anchor="end" textLength="14.75" lengthAdjust="spacingAndGlyphs" fill="#222">60000</text>
<line x1="278.80" y1="157.30" x2="280.60" y2="157.30" stroke="#444" stroke-width="0.8"/>
<text x="278.00" y="159.40" font-size="6.2" font-weight="bold" text-anchor="end" textLength="14.75" lengthAdjust="spacingAndGlyphs" fill="#222">80000</text>
<line x1="280.70" y1="236.70" x2="280.70" y2="238.50" stroke="#444" stroke-width="0.8"/>
<text x="280.70" y="245.60" font-size="6.4" font-weight="bold" text-anchor="middle" textLength="3.10" lengthAdjust="spacingAndGlyphs" fill="#222">0</text>
<line x1="308.25" y1="236.70" x2="308.25" y2="238.50" stroke="#444" stroke-width="0.8"/>
<text x="308.25" y="245.60" font-size="6.4" font-weight="bold" text-anchor="middle" textLength="3.10" lengthAdjust="spacingAndGlyphs" fill="#222">1</text>
<line x1="335.80" y1="236.70" x2="335.80" y2="238.50" stroke="#444" stroke-width="0.8"/>
<text x="335.80" y="245.60" font-size="6.4" font-weight="bold" text-anchor="middle" textLength="3.10" lengthAdjust="spacingAndGlyphs" fill="#222">2</text>
<line x1="363.35" y1="236.70" x2="363.35" y2="238.50" stroke="#444" stroke-width="0.8"/>
<text x="363.35" y="245.60" font-size="6.4" font-weight="bold" text-anchor="middle" textLength="3.10" lengthAdjust="spacingAndGlyphs" fill="#222">3</text>
<line x1="390.90" y1="236.70" x2="390.90" y2="238.50" stroke="#444" stroke-width="0.8"/>
<text x="390.90" y="245.60" font-size="6.4" font-weight="bold" text-anchor="middle" textLength="3.10" lengthAdjust="spacingAndGlyphs" fill="#222">4</text>
<text x="336.00" y="255.60" font-size="7.2" font-weight="bold" text-anchor="middle" textLength="14.00" lengthAdjust="spacingAndGlyphs" fill="#222">Days</text>
<text x="259.00" y="217.76" font-size="7.2" font-weight="bold" textLength="42.70" lengthAdjust="spacingAndGlyphs" fill="#222" transform="rotate(-90 259.00 217.76)">Total live cells</text>
<path d="M280.70,204.40 L308.25,190.50 L335.80,185.90 L363.35,177.00" fill="none" stroke="#ff1a1a" stroke-width="0.9"/>
<path d="M280.70,206.70 L308.25,206.70 L335.80,207.00 L363.35,199.80" fill="none" stroke="#2222ff" stroke-width="1.0"/>
<line x1="280.70" y1="196.40" x2="280.70" y2="213.60" stroke="#ff1a1a" stroke-width="0.8"/>
<line x1="279.10" y1="196.40" x2="282.30" y2="196.40" stroke="#ff1a1a" stroke-width="0.8"/>
<line x1="279.10" y1="213.60" x2="282.30" y2="213.60" stroke="#ff1a1a" stroke-width="0.8"/>
<rect x="279.20" y="202.90" width="3.00" height="3.00" fill="#ff1a1a"/>
<rect x="306.75" y="189.00" width="3.00" height="3.00" fill="#ff1a1a"/>
<line x1="335.80" y1="178.00" x2="335.80" y2="193.70" stroke="#ff1a1a" stroke-width="0.8"/>
<line x1="334.20" y1="178.00" x2="337.40" y2="178.00" stroke="#ff1a1a" stroke-width="0.8"/>
<line x1="334.20" y1="193.70" x2="337.40" y2="193.70" stroke="#ff1a1a" stroke-width="0.8"/>
<rect x="334.30" y="184.40" width="3.00" height="3.00" fill="#ff1a1a"/>
<line x1="363.35" y1="169.50" x2="363.35" y2="184.30" stroke="#ff1a1a" stroke-width="0.8"/>
<line x1="361.75" y1="169.50" x2="364.95" y2="169.50" stroke="#ff1a1a" stroke-width="0.8"/>
<line x1="361.75" y1="184.30" x2="364.95" y2="184.30" stroke="#ff1a1a" stroke-width="0.8"/>
<rect x="361.85" y="175.50" width="3.00" height="3.00" fill="#ff1a1a"/>
<line x1="280.70" y1="198.80" x2="280.70" y2="214.70" stroke="#2222ff" stroke-width="0.8"/>
<line x1="279.10" y1="198.80" x2="282.30" y2="198.80" stroke="#2222ff" stroke-width="0.8"/>
<line x1="279.10" y1="214.70" x2="282.30" y2="214.70" stroke="#2222ff" stroke-width="0.8"/>
<circle cx="280.70" cy="206.70" r="1.6" fill="#2222ff"/>
<circle cx="308.25" cy="206.70" r="1.6" fill="#2222ff"/>
<line x1="335.80" y1="204.50" x2="335.80" y2="209.50" stroke="#2222ff" stroke-width="0.8"/>
<line x1="334.20" y1="204.50" x2="337.40" y2="204.50" stroke="#2222ff" stroke-width="0.8"/>
<line x1="334.20" y1="209.50" x2="337.40" y2="209.50" stroke="#2222ff" stroke-width="0.8"/>
<circle cx="335.80" cy="207.00" r="1.6" fill="#2222ff"/>
<line x1="363.35" y1="191.50" x2="363.35" y2="207.80" stroke="#2222ff" stroke-width="0.8"/>
<line x1="361.75" y1="191.50" x2="364.95" y2="191.50" stroke="#2222ff" stroke-width="0.8"/>
<line x1="361.75" y1="207.80" x2="364.95" y2="207.80" stroke="#2222ff" stroke-width="0.8"/>
<circle cx="363.35" cy="199.80" r="1.6" fill="#2222ff"/>
<line x1="386.60" y1="168.20" x2="394.50" y2="168.20" stroke="#2222ff" stroke-width="0.9"/>
<circle cx="390.5" cy="168.2" r="1.5" fill="#2222ff"/>
<line x1="386.60" y1="179.10" x2="394.50" y2="179.10" stroke="#ff1a1a" stroke-width="0.9"/>
<rect x="389.10" y="177.70" width="2.80" height="2.80" fill="#ff1a1a"/>
<text x="398.67" y="169.90" font-size="6.7" textLength="3.71" lengthAdjust="spacingAndGlyphs" fill="#333">6</text>
<text x="398.68" y="181.60" font-size="6.7" textLength="8.20" lengthAdjust="spacingAndGlyphs" fill="#333">6R</text>
<line x1="409.50" y1="167.20" x2="409.50" y2="179.70" stroke="#222" stroke-width="1.1"/>
<path d="M412.80,173.80 L412.80,176.00 M411.85,174.35 L413.75,175.45 M411.85,175.45 L413.75,174.35 " fill="none" stroke="#333" stroke-width="0.55"/>
<text x="433.79" y="156.75" font-size="21.59" textLength="10.53" lengthAdjust="spacingAndGlyphs" stroke="#000" stroke-width="0.5">E</text>
<text x="499.40" y="148.90" font-size="5.4" font-weight="bold" text-anchor="middle" textLength="15.00" lengthAdjust="spacingAndGlyphs" fill="#222" stroke="#222" stroke-width="0.22">GBM6</text>
<text x="564.20" y="149.20" font-size="5.4" font-weight="bold" text-anchor="middle" textLength="19.10" lengthAdjust="spacingAndGlyphs" fill="#222" stroke="#222" stroke-width="0.22">GBM6R</text>
<text x="463.20" y="185.05" font-size="6.6" font-weight="bold" textLength="16.06" lengthAdjust="spacingAndGlyphs" fill="#111" transform="rotate(-90 463.20 185.05)">DMSO</text>
<text x="463.20" y="237.85" font-size="6.6" font-weight="bold" textLength="11.09" lengthAdjust="spacingAndGlyphs" fill="#111" transform="rotate(-90 463.20 237.85)">TMZ</text>
<text x="470.20" y="182.87" font-size="4.8" font-weight="bold" textLength="12.10" lengthAdjust="spacingAndGlyphs" fill="#222" transform="rotate(-90 470.20 182.87)" stroke="#222" stroke-width="0.22">Count</text>
<text x="537.40" y="183.17" font-size="4.8" font-weight="bold" textLength="12.20" lengthAdjust="spacingAndGlyphs" fill="#222" transform="rotate(-90 537.40 183.17)" stroke="#222" stroke-width="0.22">Count</text>
<text x="470.30" y="237.97" font-size="4.8" font-weight="bold" textLength="12.51" lengthAdjust="spacingAndGlyphs" fill="#222" transform="rotate(-90 470.30 237.97)" stroke="#222" stroke-width="0.22">Count</text>
<text x="537.60" y="237.96" font-size="4.8" font-weight="bold" textLength="11.80" lengthAdjust="spacingAndGlyphs" fill="#222" transform="rotate(-90 537.60 237.96)" stroke="#222" stroke-width="0.22">Count</text>
<rect x="479.30" y="154.40" width="52.00" height="46.90" fill="#fff" stroke="#666" stroke-width="0.5"/>
<line x1="478.10" y1="200.30" x2="479.30" y2="200.30" stroke="#777" stroke-width="0.4"/>
<rect x="472.80" y="199.90" width="4.20" height="0.80" fill="#bbb"/>
<line x1="478.10" y1="190.08" x2="479.30" y2="190.08" stroke="#777" stroke-width="0.4"/>
<rect x="472.80" y="189.68" width="4.20" height="0.80" fill="#bbb"/>
<line x1="478.10" y1="179.85" x2="479.30" y2="179.85" stroke="#777" stroke-width="0.4"/>
<rect x="472.80" y="179.45" width="4.20" height="0.80" fill="#bbb"/>
<line x1="478.10" y1="169.62" x2="479.30" y2="169.62" stroke="#777" stroke-width="0.4"/>
<rect x="472.80" y="169.22" width="4.20" height="0.80" fill="#bbb"/>
<line x1="478.10" y1="159.40" x2="479.30" y2="159.40" stroke="#777" stroke-width="0.4"/>
<rect x="472.80" y="159.00" width="4.20" height="0.80" fill="#bbb"/>
<line x1="480.30" y1="201.30" x2="480.30" y2="202.30" stroke="#777" stroke-width="0.4"/>
<rect x="478.50" y="203.10" width="3.60" height="0.80" fill="#bbb"/>
<line x1="488.63" y1="201.30" x2="488.63" y2="202.30" stroke="#777" stroke-width="0.4"/>
<rect x="486.83" y="203.10" width="3.60" height="0.80" fill="#bbb"/>
<line x1="496.97" y1="201.30" x2="496.97" y2="202.30" stroke="#777" stroke-width="0.4"/>
<rect x="495.17" y="203.10" width="3.60" height="0.80" fill="#bbb"/>
<line x1="505.30" y1="201.30" x2="505.30" y2="202.30" stroke="#777" stroke-width="0.4"/>
<rect x="503.50" y="203.10" width="3.60" height="0.80" fill="#bbb"/>
<line x1="513.63" y1="201.30" x2="513.63" y2="202.30" stroke="#777" stroke-width="0.4"/>
<rect x="511.83" y="203.10" width="3.60" height="0.80" fill="#bbb"/>
<line x1="521.97" y1="201.30" x2="521.97" y2="202.30" stroke="#777" stroke-width="0.4"/>
<rect x="520.17" y="203.10" width="3.60" height="0.80" fill="#bbb"/>
<line x1="530.30" y1="201.30" x2="530.30" y2="202.30" stroke="#777" stroke-width="0.4"/>
<rect x="528.50" y="203.10" width="3.60" height="0.80" fill="#bbb"/>
<path d="M479.56,201.30 L479.92,189.58 L480.86,201.30 L493.86,201.30 L495.42,197.08 L496.72,187.23 L498.54,156.75 L500.10,187.23 L501.66,195.67 L505.30,197.78 L513.10,198.02 L517.26,199.19 L518.82,201.30 Z" fill="#8a8a8a" stroke="#444" stroke-width="0.4"/>
<line x1="479.30" y1="190.98" x2="482.42" y2="190.98" stroke="#222" stroke-width="0.7"/>
<line x1="494.90" y1="190.98" x2="518.30" y2="190.98" stroke="#222" stroke-width="0.7"/>
<line x1="479.30" y1="189.98" x2="479.30" y2="191.98" stroke="#222" stroke-width="0.6"/>
<line x1="482.42" y1="189.98" x2="482.42" y2="191.98" stroke="#222" stroke-width="0.6"/>
<line x1="494.90" y1="189.98" x2="494.90" y2="191.98" stroke="#222" stroke-width="0.6"/>
<line x1="501.14" y1="189.98" x2="501.14" y2="191.98" stroke="#222" stroke-width="0.6"/>
<line x1="503.22" y1="189.98" x2="503.22" y2="191.98" stroke="#222" stroke-width="0.6"/>
<line x1="512.06" y1="189.98" x2="512.06" y2="191.98" stroke="#222" stroke-width="0.6"/>
<line x1="518.30" y1="189.98" x2="518.30" y2="191.98" stroke="#222" stroke-width="0.6"/>
<rect x="478.86" y="187.48" width="4.00" height="0.80" fill="#999"/>
<rect x="479.86" y="184.98" width="2.00" height="0.70" fill="#aaa"/>
<rect x="496.54" y="187.48" width="4.00" height="0.80" fill="#999"/>
<rect x="497.54" y="184.98" width="2.00" height="0.70" fill="#aaa"/>
<rect x="504.34" y="187.48" width="4.00" height="0.80" fill="#999"/>
<rect x="505.34" y="184.98" width="2.00" height="0.70" fill="#aaa"/>
<rect x="513.18" y="187.48" width="4.00" height="0.80" fill="#999"/>
<rect x="514.18" y="184.98" width="2.00" height="0.70" fill="#aaa"/>
<rect x="479.56" y="184.88" width="12.00" height="0.60" fill="#aaa"/>
<rect x="545.20" y="154.40" width="52.00" height="46.60" fill="#fff" stroke="#666" stroke-width="0.5"/>
<line x1="544.00" y1="200.00" x2="545.20" y2="200.00" stroke="#777" stroke-width="0.4"/>
<rect x="538.70" y="199.60" width="4.20" height="0.80" fill="#bbb"/>
<line x1="544.00" y1="189.85" x2="545.20" y2="189.85" stroke="#777" stroke-width="0.4"/>
<rect x="538.70" y="189.45" width="4.20" height="0.80" fill="#bbb"/>
<line x1="544.00" y1="179.70" x2="545.20" y2="179.70" stroke="#777" stroke-width="0.4"/>
<rect x="538.70" y="179.30" width="4.20" height="0.80" fill="#bbb"/>
<line x1="544.00" y1="169.55" x2="545.20" y2="169.55" stroke="#777" stroke-width="0.4"/>
<rect x="538.70" y="169.15" width="4.20" height="0.80" fill="#bbb"/>
<line x1="544.00" y1="159.40" x2="545.20" y2="159.40" stroke="#777" stroke-width="0.4"/>
<rect x="538.70" y="159.00" width="4.20" height="0.80" fill="#bbb"/>
<line x1="546.20" y1="201.00" x2="546.20" y2="202.00" stroke="#777" stroke-width="0.4"/>
<rect x="544.40" y="202.80" width="3.60" height="0.80" fill="#bbb"/>
<line x1="554.53" y1="201.00" x2="554.53" y2="202.00" stroke="#777" stroke-width="0.4"/>
<rect x="552.73" y="202.80" width="3.60" height="0.80" fill="#bbb"/>
<line x1="562.87" y1="201.00" x2="562.87" y2="202.00" stroke="#777" stroke-width="0.4"/>
<rect x="561.07" y="202.80" width="3.60" height="0.80" fill="#bbb"/>
<line x1="571.20" y1="201.00" x2="571.20" y2="202.00" stroke="#777" stroke-width="0.4"/>
<rect x="569.40" y="202.80" width="3.60" height="0.80" fill="#bbb"/>
<line x1="579.53" y1="201.00" x2="579.53" y2="202.00" stroke="#777" stroke-width="0.4"/>
<rect x="577.73" y="202.80" width="3.60" height="0.80" fill="#bbb"/>
<line x1="587.87" y1="201.00" x2="587.87" y2="202.00" stroke="#777" stroke-width="0.4"/>
<rect x="586.07" y="202.80" width="3.60" height="0.80" fill="#bbb"/>
<line x1="596.20" y1="201.00" x2="596.20" y2="202.00" stroke="#777" stroke-width="0.4"/>
<rect x="594.40" y="202.80" width="3.60" height="0.80" fill="#bbb"/>
<path d="M545.46,201.00 L545.82,190.75 L546.76,198.67 L547.80,201.00 L559.76,201.00 L561.32,197.74 L562.88,191.68 L563.92,155.80 L564.96,191.68 L567.04,197.27 L571.20,199.14 L576.40,198.20 L579.52,194.94 L581.60,197.27 L583.68,201.00 Z" fill="#8a8a8a" stroke="#444" stroke-width="0.4"/>
<line x1="545.20" y1="196.34" x2="548.32" y2="196.34" stroke="#222" stroke-width="0.7"/>
<line x1="560.80" y1="196.34" x2="584.20" y2="196.34" stroke="#222" stroke-width="0.7"/>
<line x1="545.20" y1="195.34" x2="545.20" y2="197.34" stroke="#222" stroke-width="0.6"/>
<line x1="548.32" y1="195.34" x2="548.32" y2="197.34" stroke="#222" stroke-width="0.6"/>
<line x1="560.80" y1="195.34" x2="560.80" y2="197.34" stroke="#222" stroke-width="0.6"/>
<line x1="567.04" y1="195.34" x2="567.04" y2="197.34" stroke="#222" stroke-width="0.6"/>
<line x1="569.12" y1="195.34" x2="569.12" y2="197.34" stroke="#222" stroke-width="0.6"/>
<line x1="577.96" y1="195.34" x2="577.96" y2="197.34" stroke="#222" stroke-width="0.6"/>
<line x1="584.20" y1="195.34" x2="584.20" y2="197.34" stroke="#222" stroke-width="0.6"/>
<rect x="544.76" y="192.84" width="4.00" height="0.80" fill="#999"/>
<rect x="545.76" y="190.34" width="2.00" height="0.70" fill="#aaa"/>
<rect x="562.44" y="192.84" width="4.00" height="0.80" fill="#999"/>
<rect x="563.44" y="190.34" width="2.00" height="0.70" fill="#aaa"/>
<rect x="570.24" y="192.84" width="4.00" height="0.80" fill="#999"/>
<rect x="571.24" y="190.34" width="2.00" height="0.70" fill="#aaa"/>
<rect x="579.08" y="192.84" width="4.00" height="0.80" fill="#999"/>
<rect x="580.08" y="190.34" width="2.00" height="0.70" fill="#aaa"/>
<rect x="545.46" y="190.24" width="12.00" height="0.60" fill="#aaa"/>
<rect x="479.00" y="209.80" width="52.40" height="46.50" fill="#fff" stroke="#666" stroke-width="0.5"/>
<line x1="477.80" y1="255.30" x2="479.00" y2="255.30" stroke="#777" stroke-width="0.4"/>
<rect x="472.50" y="254.90" width="4.20" height="0.80" fill="#bbb"/>
<line x1="477.80" y1="245.18" x2="479.00" y2="245.18" stroke="#777" stroke-width="0.4"/>
<rect x="472.50" y="244.78" width="4.20" height="0.80" fill="#bbb"/>
<line x1="477.80" y1="235.05" x2="479.00" y2="235.05" stroke="#777" stroke-width="0.4"/>
<rect x="472.50" y="234.65" width="4.20" height="0.80" fill="#bbb"/>
<line x1="477.80" y1="224.93" x2="479.00" y2="224.93" stroke="#777" stroke-width="0.4"/>
<rect x="472.50" y="224.53" width="4.20" height="0.80" fill="#bbb"/>
<line x1="477.80" y1="214.80" x2="479.00" y2="214.80" stroke="#777" stroke-width="0.4"/>
<rect x="472.50" y="214.40" width="4.20" height="0.80" fill="#bbb"/>
<line x1="480.00" y1="256.30" x2="480.00" y2="257.30" stroke="#777" stroke-width="0.4"/>
<rect x="478.20" y="258.10" width="3.60" height="0.80" fill="#bbb"/>
<line x1="488.40" y1="256.30" x2="488.40" y2="257.30" stroke="#777" stroke-width="0.4"/>
<rect x="486.60" y="258.10" width="3.60" height="0.80" fill="#bbb"/>
<line x1="496.80" y1="256.30" x2="496.80" y2="257.30" stroke="#777" stroke-width="0.4"/>
<rect x="495.00" y="258.10" width="3.60" height="0.80" fill="#bbb"/>
<line x1="505.20" y1="256.30" x2="505.20" y2="257.30" stroke="#777" stroke-width="0.4"/>
<rect x="503.40" y="258.10" width="3.60" height="0.80" fill="#bbb"/>
<line x1="513.60" y1="256.30" x2="513.60" y2="257.30" stroke="#777" stroke-width="0.4"/>
<rect x="511.80" y="258.10" width="3.60" height="0.80" fill="#bbb"/>
<line x1="522.00" y1="256.30" x2="522.00" y2="257.30" stroke="#777" stroke-width="0.4"/>
<rect x="520.20" y="258.10" width="3.60" height="0.80" fill="#bbb"/>
<line x1="530.40" y1="256.30" x2="530.40" y2="257.30" stroke="#777" stroke-width="0.4"/>
<rect x="528.60" y="258.10" width="3.60" height="0.80" fill="#bbb"/>
<path d="M479.26,256.30 L479.63,242.35 L480.83,256.30 L494.20,256.30 L495.77,249.33 L497.34,237.70 L498.39,212.12 L499.96,237.70 L501.53,243.75 L507.82,247.00 L516.73,249.79 L518.82,251.65 L520.40,256.30 Z" fill="#8a8a8a" stroke="#444" stroke-width="0.4"/>
<line x1="479.00" y1="246.07" x2="482.14" y2="246.07" stroke="#222" stroke-width="0.7"/>
<line x1="494.72" y1="246.07" x2="518.30" y2="246.07" stroke="#222" stroke-width="0.7"/>
<line x1="479.00" y1="245.07" x2="479.00" y2="247.07" stroke="#222" stroke-width="0.6"/>
<line x1="482.14" y1="245.07" x2="482.14" y2="247.07" stroke="#222" stroke-width="0.6"/>
<line x1="494.72" y1="245.07" x2="494.72" y2="247.07" stroke="#222" stroke-width="0.6"/>
<line x1="501.01" y1="245.07" x2="501.01" y2="247.07" stroke="#222" stroke-width="0.6"/>
<line x1="503.10" y1="245.07" x2="503.10" y2="247.07" stroke="#222" stroke-width="0.6"/>
<line x1="512.01" y1="245.07" x2="512.01" y2="247.07" stroke="#222" stroke-width="0.6"/>
<line x1="518.30" y1="245.07" x2="518.30" y2="247.07" stroke="#222" stroke-width="0.6"/>
<rect x="478.57" y="242.57" width="4.00" height="0.80" fill="#999"/>
<rect x="479.57" y="240.07" width="2.00" height="0.70" fill="#aaa"/>
<rect x="496.39" y="242.57" width="4.00" height="0.80" fill="#999"/>
<rect x="497.39" y="240.07" width="2.00" height="0.70" fill="#aaa"/>
<rect x="504.25" y="242.57" width="4.00" height="0.80" fill="#999"/>
<rect x="505.25" y="240.07" width="2.00" height="0.70" fill="#aaa"/>
<rect x="513.16" y="242.57" width="4.00" height="0.80" fill="#999"/>
<rect x="514.16" y="240.07" width="2.00" height="0.70" fill="#aaa"/>
<rect x="479.26" y="239.97" width="12.00" height="0.60" fill="#aaa"/>
<rect x="545.10" y="209.30" width="51.30" height="46.70" fill="#fff" stroke="#666" stroke-width="0.5"/>
<line x1="543.90" y1="255.00" x2="545.10" y2="255.00" stroke="#777" stroke-width="0.4"/>
<rect x="538.60" y="254.60" width="4.20" height="0.80" fill="#bbb"/>
<line x1="543.90" y1="244.82" x2="545.10" y2="244.82" stroke="#777" stroke-width="0.4"/>
<rect x="538.60" y="244.42" width="4.20" height="0.80" fill="#bbb"/>
<line x1="543.90" y1="234.65" x2="545.10" y2="234.65" stroke="#777" stroke-width="0.4"/>
<rect x="538.60" y="234.25" width="4.20" height="0.80" fill="#bbb"/>
<line x1="543.90" y1="224.48" x2="545.10" y2="224.48" stroke="#777" stroke-width="0.4"/>
<rect x="538.60" y="224.08" width="4.20" height="0.80" fill="#bbb"/>
<line x1="543.90" y1="214.30" x2="545.10" y2="214.30" stroke="#777" stroke-width="0.4"/>
<rect x="538.60" y="213.90" width="4.20" height="0.80" fill="#bbb"/>
<line x1="546.10" y1="256.00" x2="546.10" y2="257.00" stroke="#777" stroke-width="0.4"/>
<rect x="544.30" y="257.80" width="3.60" height="0.80" fill="#bbb"/>
<line x1="554.32" y1="256.00" x2="554.32" y2="257.00" stroke="#777" stroke-width="0.4"/>
<rect x="552.52" y="257.80" width="3.60" height="0.80" fill="#bbb"/>
<line x1="562.53" y1="256.00" x2="562.53" y2="257.00" stroke="#777" stroke-width="0.4"/>
<rect x="560.73" y="257.80" width="3.60" height="0.80" fill="#bbb"/>
<line x1="570.75" y1="256.00" x2="570.75" y2="257.00" stroke="#777" stroke-width="0.4"/>
<rect x="568.95" y="257.80" width="3.60" height="0.80" fill="#bbb"/>
<line x1="578.97" y1="256.00" x2="578.97" y2="257.00" stroke="#777" stroke-width="0.4"/>
<rect x="577.17" y="257.80" width="3.60" height="0.80" fill="#bbb"/>
<line x1="587.18" y1="256.00" x2="587.18" y2="257.00" stroke="#777" stroke-width="0.4"/>
<rect x="585.38" y="257.80" width="3.60" height="0.80" fill="#bbb"/>
<line x1="595.40" y1="256.00" x2="595.40" y2="257.00" stroke="#777" stroke-width="0.4"/>
<rect x="593.60" y="257.80" width="3.60" height="0.80" fill="#bbb"/>
<path d="M545.36,256.00 L545.72,239.66 L546.64,253.66 L547.66,256.00 L559.46,256.00 L561.00,252.73 L562.54,246.66 L563.57,210.70 L564.59,246.66 L566.65,252.26 L570.75,254.13 L575.88,253.20 L578.96,249.93 L581.01,252.26 L583.06,256.00 Z" fill="#8a8a8a" stroke="#444" stroke-width="0.4"/>
<line x1="545.10" y1="251.33" x2="548.18" y2="251.33" stroke="#222" stroke-width="0.7"/>
<line x1="560.49" y1="251.33" x2="583.58" y2="251.33" stroke="#222" stroke-width="0.7"/>
<line x1="545.10" y1="250.33" x2="545.10" y2="252.33" stroke="#222" stroke-width="0.6"/>
<line x1="548.18" y1="250.33" x2="548.18" y2="252.33" stroke="#222" stroke-width="0.6"/>
<line x1="560.49" y1="250.33" x2="560.49" y2="252.33" stroke="#222" stroke-width="0.6"/>
<line x1="566.65" y1="250.33" x2="566.65" y2="252.33" stroke="#222" stroke-width="0.6"/>
<line x1="568.70" y1="250.33" x2="568.70" y2="252.33" stroke="#222" stroke-width="0.6"/>
<line x1="577.42" y1="250.33" x2="577.42" y2="252.33" stroke="#222" stroke-width="0.6"/>
<line x1="583.58" y1="250.33" x2="583.58" y2="252.33" stroke="#222" stroke-width="0.6"/>
<rect x="544.64" y="247.83" width="4.00" height="0.80" fill="#999"/>
<rect x="545.64" y="245.33" width="2.00" height="0.70" fill="#aaa"/>
<rect x="562.08" y="247.83" width="4.00" height="0.80" fill="#999"/>
<rect x="563.08" y="245.33" width="2.00" height="0.70" fill="#aaa"/>
<rect x="569.78" y="247.83" width="4.00" height="0.80" fill="#999"/>
<rect x="570.78" y="245.33" width="2.00" height="0.70" fill="#aaa"/>
<rect x="578.50" y="247.83" width="4.00" height="0.80" fill="#999"/>
<rect x="579.50" y="245.33" width="2.00" height="0.70" fill="#aaa"/>
<rect x="545.36" y="245.23" width="12.00" height="0.60" fill="#aaa"/>
<text x="503.50" y="209.00" font-size="4.2" font-weight="bold" text-anchor="middle" textLength="11.50" lengthAdjust="spacingAndGlyphs" fill="#222">PE-A::PI</text>
<text x="569.80" y="208.20" font-size="4.2" font-weight="bold" text-anchor="middle" textLength="11.50" lengthAdjust="spacingAndGlyphs" fill="#222">PE-A::PI</text>
<text x="503.40" y="265.00" font-size="4.2" font-weight="bold" text-anchor="middle" textLength="11.50" lengthAdjust="spacingAndGlyphs" fill="#222">PE-A::PI</text>
<text x="571.00" y="264.80" font-size="4.2" font-weight="bold" text-anchor="middle" textLength="11.50" lengthAdjust="spacingAndGlyphs" fill="#222">PE-A::PI</text>
<line x1="609.10" y1="155.50" x2="609.10" y2="198.00" stroke="#444" stroke-width="0.7"/>
<line x1="608.80" y1="197.70" x2="650.50" y2="197.70" stroke="#444" stroke-width="0.7"/>
<line x1="607.80" y1="155.50" x2="609.10" y2="155.50" stroke="#444" stroke-width="0.5"/>
<text x="607.30" y="156.80" font-size="3.6" font-weight="bold" text-anchor="end" textLength="3.20" lengthAdjust="spacingAndGlyphs" fill="#333">25</text>
<line x1="607.80" y1="163.90" x2="609.10" y2="163.90" stroke="#444" stroke-width="0.5"/>
<text x="607.30" y="165.20" font-size="3.6" font-weight="bold" text-anchor="end" textLength="3.20" lengthAdjust="spacingAndGlyphs" fill="#333">20</text>
<line x1="607.80" y1="172.40" x2="609.10" y2="172.40" stroke="#444" stroke-width="0.5"/>
<text x="607.30" y="173.70" font-size="3.6" font-weight="bold" text-anchor="end" textLength="3.20" lengthAdjust="spacingAndGlyphs" fill="#333">15</text>
<line x1="607.80" y1="180.80" x2="609.10" y2="180.80" stroke="#444" stroke-width="0.5"/>
<text x="607.30" y="182.10" font-size="3.6" font-weight="bold" text-anchor="end" textLength="3.20" lengthAdjust="spacingAndGlyphs" fill="#333">10</text>
<line x1="607.80" y1="189.20" x2="609.10" y2="189.20" stroke="#444" stroke-width="0.5"/>
<text x="607.30" y="190.50" font-size="3.6" font-weight="bold" text-anchor="end" textLength="1.60" lengthAdjust="spacingAndGlyphs" fill="#333">5</text>
<line x1="607.80" y1="197.70" x2="609.10" y2="197.70" stroke="#444" stroke-width="0.5"/>
<text x="607.30" y="199.00" font-size="3.6" font-weight="bold" text-anchor="end" textLength="1.60" lengthAdjust="spacingAndGlyphs" fill="#333">0</text>
<rect x="612.50" y="178.20" width="5.50" height="19.50" fill="#0000ff"/>
<line x1="613.95" y1="178.00" x2="616.55" y2="178.00" stroke="#0000ff" stroke-width="0.6"/>
<rect x="621.30" y="163.70" width="4.80" height="34.00" fill="#ff0000"/>
<line x1="622.40" y1="163.50" x2="625.00" y2="163.50" stroke="#ff0000" stroke-width="0.6"/>
<rect x="634.70" y="188.10" width="5.40" height="9.60" fill="#0000ff"/>
<line x1="636.10" y1="187.90" x2="638.70" y2="187.90" stroke="#0000ff" stroke-width="0.6"/>
<rect x="642.70" y="188.80" width="5.30" height="8.90" fill="#ff0000"/>
<line x1="644.05" y1="188.60" x2="646.65" y2="188.60" stroke="#ff0000" stroke-width="0.6"/>
<text x="630.50" y="158.30" font-size="4.6" font-weight="bold" text-anchor="middle" textLength="14.80" lengthAdjust="spacingAndGlyphs" fill="#222">S phase</text>
<text x="619.40" y="202.30" font-size="3.6" font-weight="bold" text-anchor="middle" textLength="7.00" lengthAdjust="spacingAndGlyphs" fill="#333">GBM6</text>
<text x="639.70" y="202.30" font-size="3.6" font-weight="bold" text-anchor="middle" textLength="8.50" lengthAdjust="spacingAndGlyphs" fill="#333">GBM6R</text>
<text x="603.40" y="185.97" font-size="4.0" font-weight="bold" textLength="18.09" lengthAdjust="spacingAndGlyphs" fill="#222" transform="rotate(-90 603.40 185.97)">% cells in S</text>
<rect x="653.00" y="162.50" width="5.60" height="3.00" fill="#0000ff"/>
<rect x="653.00" y="168.40" width="5.60" height="3.00" fill="#ff0000"/>
<text x="660.10" y="165.50" font-size="4.0" textLength="10.70" lengthAdjust="spacingAndGlyphs" fill="#333">DMSO</text>
<text x="660.10" y="171.40" font-size="4.0" textLength="6.70" lengthAdjust="spacingAndGlyphs" fill="#333">TMZ</text>
<line x1="611.00" y1="214.60" x2="611.00" y2="254.80" stroke="#444" stroke-width="0.7"/>
<line x1="610.70" y1="254.50" x2="650.40" y2="254.50" stroke="#444" stroke-width="0.7"/>
<line x1="609.70" y1="214.60" x2="611.00" y2="214.60" stroke="#444" stroke-width="0.5"/>
<text x="609.20" y="215.90" font-size="3.6" font-weight="bold" text-anchor="end" textLength="3.20" lengthAdjust="spacingAndGlyphs" fill="#333">20</text>
<line x1="609.70" y1="224.60" x2="611.00" y2="224.60" stroke="#444" stroke-width="0.5"/>
<text x="609.20" y="225.90" font-size="3.6" font-weight="bold" text-anchor="end" textLength="3.20" lengthAdjust="spacingAndGlyphs" fill="#333">15</text>
<line x1="609.70" y1="234.50" x2="611.00" y2="234.50" stroke="#444" stroke-width="0.5"/>
<text x="609.20" y="235.80" font-size="3.6" font-weight="bold" text-anchor="end" textLength="3.20" lengthAdjust="spacingAndGlyphs" fill="#333">10</text>
<line x1="609.70" y1="244.50" x2="611.00" y2="244.50" stroke="#444" stroke-width="0.5"/>
<text x="609.20" y="245.80" font-size="3.6" font-weight="bold" text-anchor="end" textLength="1.60" lengthAdjust="spacingAndGlyphs" fill="#333">5</text>
<line x1="609.70" y1="254.50" x2="611.00" y2="254.50" stroke="#444" stroke-width="0.5"/>
<text x="609.20" y="255.80" font-size="3.6" font-weight="bold" text-anchor="end" textLength="1.60" lengthAdjust="spacingAndGlyphs" fill="#333">0</text>
<rect x="613.70" y="243.30" width="5.30" height="11.20" fill="#0000ff"/>
<line x1="615.05" y1="243.10" x2="617.65" y2="243.10" stroke="#0000ff" stroke-width="0.6"/>
<rect x="622.00" y="237.80" width="4.90" height="16.70" fill="#ff0000"/>
<line x1="623.15" y1="237.60" x2="625.75" y2="237.60" stroke="#ff0000" stroke-width="0.6"/>
<rect x="635.00" y="223.50" width="5.10" height="31.00" fill="#0000ff"/>
<line x1="636.25" y1="223.30" x2="638.85" y2="223.30" stroke="#0000ff" stroke-width="0.6"/>
<rect x="642.60" y="221.00" width="5.50" height="33.50" fill="#ff0000"/>
<line x1="644.05" y1="220.80" x2="646.65" y2="220.80" stroke="#ff0000" stroke-width="0.6"/>
<text x="630.75" y="214.80" font-size="4.6" font-weight="bold" text-anchor="middle" textLength="20.90" lengthAdjust="spacingAndGlyphs" fill="#222">G2/M phase</text>
<text x="620.30" y="259.40" font-size="3.6" font-weight="bold" text-anchor="middle" textLength="7.00" lengthAdjust="spacingAndGlyphs" fill="#333">GBM6</text>
<text x="641.50" y="259.40" font-size="3.6" font-weight="bold" text-anchor="middle" textLength="8.50" lengthAdjust="spacingAndGlyphs" fill="#333">GBM6R</text>
<text x="603.80" y="244.46" font-size="4.0" font-weight="bold" textLength="17.35" lengthAdjust="spacingAndGlyphs" fill="#222" transform="rotate(-90 603.80 244.46)">% cells in G2</text>
<rect x="654.10" y="217.00" width="4.90" height="2.80" fill="#0000ff"/>
<rect x="654.10" y="222.40" width="4.90" height="2.70" fill="#ff0000"/>
<text x="660.70" y="219.90" font-size="4.0" textLength="10.20" lengthAdjust="spacingAndGlyphs" fill="#333">DMSO</text>
<text x="660.70" y="225.20" font-size="4.0" textLength="6.80" lengthAdjust="spacingAndGlyphs" fill="#333">TMZ</text>
<text x="2.70" y="286.65" font-size="22.17" textLength="9.93" lengthAdjust="spacingAndGlyphs" stroke="#000" stroke-width="0.5">F</text>
<rect x="45.5" y="278.2" width="155.50" height="97.00" fill="none" stroke="#333" stroke-width="0.6"/>
<line x1="44.00" y1="282.10" x2="45.50" y2="282.10" stroke="#444" stroke-width="0.4"/>
<text x="40.30" y="282.10" font-size="3.6" text-anchor="middle" textLength="6.00" lengthAdjust="spacingAndGlyphs" fill="#333" transform="rotate(-90 40.30 282.10)">0.0</text>
<line x1="44.00" y1="296.30" x2="45.50" y2="296.30" stroke="#444" stroke-width="0.4"/>
<text x="40.30" y="296.30" font-size="3.6" text-anchor="middle" textLength="7.00" lengthAdjust="spacingAndGlyphs" fill="#333" transform="rotate(-90 40.30 296.30)">-0.5</text>
<line x1="44.00" y1="310.30" x2="45.50" y2="310.30" stroke="#444" stroke-width="0.4"/>
<text x="40.30" y="310.30" font-size="3.6" text-anchor="middle" textLength="7.00" lengthAdjust="spacingAndGlyphs" fill="#333" transform="rotate(-90 40.30 310.30)">-1.0</text>
<line x1="44.00" y1="324.30" x2="45.50" y2="324.30" stroke="#444" stroke-width="0.4"/>
<text x="40.30" y="324.30" font-size="3.6" text-anchor="middle" textLength="7.00" lengthAdjust="spacingAndGlyphs" fill="#333" transform="rotate(-90 40.30 324.30)">-1.5</text>
<line x1="44.00" y1="338.40" x2="45.50" y2="338.40" stroke="#444" stroke-width="0.4"/>
<text x="40.30" y="338.40" font-size="3.6" text-anchor="middle" textLength="7.00" lengthAdjust="spacingAndGlyphs" fill="#333" transform="rotate(-90 40.30 338.40)">-2.0</text>
<line x1="44.00" y1="352.30" x2="45.50" y2="352.30" stroke="#444" stroke-width="0.4"/>
<text x="40.30" y="352.30" font-size="3.6" text-anchor="middle" textLength="7.00" lengthAdjust="spacingAndGlyphs" fill="#333" transform="rotate(-90 40.30 352.30)">-2.5</text>
<line x1="44.00" y1="366.50" x2="45.50" y2="366.50" stroke="#444" stroke-width="0.4"/>
<text x="40.30" y="366.50" font-size="3.6" text-anchor="middle" textLength="7.00" lengthAdjust="spacingAndGlyphs" fill="#333" transform="rotate(-90 40.30 366.50)">-3.0</text>
<text x="30.40" y="326.80" font-size="3.8" text-anchor="middle" textLength="32.50" lengthAdjust="spacingAndGlyphs" fill="#333" transform="rotate(-90 30.40 326.80)">log fraction nonresponding</text>
<line x1="51.00" y1="375.20" x2="51.00" y2="376.70" stroke="#444" stroke-width="0.4"/>
<text x="51.00" y="381.20" font-size="3.6" text-anchor="middle" textLength="1.70" lengthAdjust="spacingAndGlyphs" fill="#333">0</text>
<line x1="87.10" y1="375.20" x2="87.10" y2="376.70" stroke="#444" stroke-width="0.4"/>
<text x="87.10" y="381.20" font-size="3.6" text-anchor="middle" textLength="5.10" lengthAdjust="spacingAndGlyphs" fill="#333">500</text>
<line x1="122.80" y1="375.20" x2="122.80" y2="376.70" stroke="#444" stroke-width="0.4"/>
<text x="122.80" y="381.20" font-size="3.6" text-anchor="middle" textLength="6.80" lengthAdjust="spacingAndGlyphs" fill="#333">1000</text>
<line x1="159.20" y1="375.20" x2="159.20" y2="376.70" stroke="#444" stroke-width="0.4"/>
<text x="159.20" y="381.20" font-size="3.6" text-anchor="middle" textLength="6.80" lengthAdjust="spacingAndGlyphs" fill="#333">1500</text>
<line x1="195.20" y1="375.20" x2="195.20" y2="376.70" stroke="#444" stroke-width="0.4"/>
<text x="195.20" y="381.20" font-size="3.6" text-anchor="middle" textLength="6.80" lengthAdjust="spacingAndGlyphs" fill="#333">2000</text>
<text x="95.37" y="388.00" font-size="6.5" textLength="57.27" lengthAdjust="spacingAndGlyphs" fill="#111" stroke="#111" stroke-width="0.15">dose (number of cells)</text>
<g clip-path="url(#fclip)">
<line x1="49.84" y1="278.20" x2="78.60" y2="375.20" stroke="#444" stroke-width="0.45" stroke-dasharray="1.6,1.2"/>
<line x1="49.34" y1="278.20" x2="90.70" y2="375.20" stroke="#333" stroke-width="0.8"/>
<line x1="49.00" y1="278.20" x2="98.70" y2="375.20" stroke="#ff5a5a" stroke-width="0.45" stroke-dasharray="1.6,1.2"/>
<line x1="48.60" y1="278.20" x2="108.30" y2="375.20" stroke="#444" stroke-width="0.45" stroke-dasharray="1.6,1.2"/>
<line x1="48.13" y1="278.20" x2="119.60" y2="375.20" stroke="#ff3333" stroke-width="0.9"/>
<line x1="46.92" y1="278.20" x2="148.30" y2="375.20" stroke="#ff7a7a" stroke-width="0.45" stroke-dasharray="1.6,1.2"/>
</g>
<circle cx="69.0" cy="351.8" r="0.8" fill="none" stroke="#555" stroke-width="0.4"/>
<circle cx="59.8" cy="306.5" r="0.8" fill="none" stroke="#555" stroke-width="0.4"/>
<circle cx="68.4" cy="301.4" r="0.8" fill="none" stroke="#f55" stroke-width="0.4"/>
<circle cx="59.8" cy="290.3" r="0.8" fill="none" stroke="#f55" stroke-width="0.4"/>
<circle cx="55.6" cy="283.8" r="0.8" fill="none" stroke="#f55" stroke-width="0.4"/>
<circle cx="53.2" cy="282.3" r="0.8" fill="none" stroke="#f55" stroke-width="0.4"/>
<path d="M85.90,370.3 L88.30,370.3 L87.10,372.2 Z" fill="#c33" stroke="none" stroke-width="1"/>
<path d="M121.10,370.3 L123.50,370.3 L122.30,372.2 Z" fill="#c33" stroke="none" stroke-width="1"/>
<path d="M158.00,370.3 L160.40,370.3 L159.20,372.2 Z" fill="#c33" stroke="none" stroke-width="1"/>
<path d="M194.00,370.3 L196.40,370.3 L195.20,372.2 Z" fill="#c33" stroke="none" stroke-width="1"/>
<rect x="158.6" y="278.2" width="42.4" height="33.3" fill="#fff" stroke="#333" stroke-width="0.7"/>
<text x="163.12" y="291.70" font-size="10.0" textLength="27.05" lengthAdjust="spacingAndGlyphs" fill="#111">GBM6</text>
<text x="163.14" y="303.50" font-size="10.0" textLength="32.53" lengthAdjust="spacingAndGlyphs" fill="#f00">GBM6R</text>
<text x="229.77" y="286.75" font-size="21.26" textLength="15.20" lengthAdjust="spacingAndGlyphs" stroke="#000" stroke-width="0.5">G</text>
<text x="276.72" y="283.00" font-size="7.0" textLength="21.78" lengthAdjust="spacingAndGlyphs" fill="#111">GBM6</text>
<text x="309.84" y="283.00" font-size="7.0" textLength="25.56" lengthAdjust="spacingAndGlyphs" fill="#111">GBM6R</text>
<line x1="275.40" y1="288.20" x2="301.30" y2="288.20" stroke="#000" stroke-width="1.4"/>
<line x1="308.20" y1="288.20" x2="334.10" y2="288.20" stroke="#000" stroke-width="1.4"/>
<text x="284.40" y="309.06" font-size="7.6" textLength="17.35" lengthAdjust="spacingAndGlyphs" fill="#111" transform="rotate(-90 284.40 309.06)">DMSO</text>
<text x="300.20" y="308.71" font-size="7.6" textLength="11.48" lengthAdjust="spacingAndGlyphs" fill="#111" transform="rotate(-90 300.20 308.71)">TMZ</text>
<text x="315.80" y="309.06" font-size="7.6" textLength="17.35" lengthAdjust="spacingAndGlyphs" fill="#111" transform="rotate(-90 315.80 309.06)">DMSO</text>
<text x="331.60" y="308.71" font-size="7.6" textLength="11.48" lengthAdjust="spacingAndGlyphs" fill="#111" transform="rotate(-90 331.60 308.71)">TMZ</text>
<rect x="273.6" y="310.50" width="64.1" height="12.30" rx="0.8" fill="#f2f2f2" stroke="#5a5a5a" stroke-width="0.8"/>
<rect x="275.10" y="314.20" width="12.30" height="5.60" rx="2.50" fill="#000" opacity="1.00" filter="url(#blur1)"/>
<rect x="289.50" y="314.30" width="11.80" height="5.40" rx="2.50" fill="#000" opacity="1.00" filter="url(#blur1)"/>
<rect x="305.40" y="315.50" width="12.30" height="3.00" rx="1.50" fill="#000" opacity="0.55" filter="url(#blur1)"/>
<rect x="322.80" y="315.50" width="12.30" height="3.00" rx="1.50" fill="#000" opacity="0.48" filter="url(#blur1)"/>
<text x="254.26" y="321.90" font-size="8.9" textLength="17.17" lengthAdjust="spacingAndGlyphs" fill="#111">Sox2</text>
<rect x="273.6" y="325.30" width="64.1" height="10.10" rx="0.8" fill="#dedede" stroke="#5a5a5a" stroke-width="0.8"/>
<rect x="275.80" y="328.40" width="7.70" height="3.60" rx="1.80" fill="#000" opacity="1.00" filter="url(#blur1)"/>
<rect x="279.50" y="329.10" width="8.50" height="2.20" rx="1.10" fill="#000" opacity="0.30" filter="url(#blur1)"/>
<rect x="290.00" y="328.95" width="11.00" height="2.50" rx="1.25" fill="#000" opacity="0.10" filter="url(#blur1)"/>
<rect x="309.00" y="328.90" width="9.50" height="2.60" rx="1.30" fill="#000" opacity="0.75" filter="url(#blur1)"/>
<rect x="323.50" y="328.80" width="11.30" height="2.80" rx="1.40" fill="#000" opacity="0.75" filter="url(#blur1)"/>
<text x="254.52" y="334.50" font-size="8.9" textLength="17.81" lengthAdjust="spacingAndGlyphs" fill="#111">Oct4</text>
<rect x="273.6" y="337.20" width="64.1" height="11.60" rx="0.8" fill="#9d9d9d" stroke="#5a5a5a" stroke-width="0.8"/>
<rect x="292.00" y="341.80" width="11.00" height="2.80" rx="1.40" fill="#000" opacity="0.35" filter="url(#blur1)"/>
<rect x="297.50" y="341.70" width="5.30" height="3.00" rx="1.50" fill="#000" opacity="0.75" filter="url(#blur1)"/>
<rect x="306.00" y="341.95" width="11.00" height="2.50" rx="1.25" fill="#000" opacity="0.08" filter="url(#blur1)"/>
<rect x="323.80" y="341.70" width="11.20" height="3.00" rx="1.50" fill="#000" opacity="0.45" filter="url(#blur1)"/>
<rect x="328.50" y="341.50" width="6.50" height="3.40" rx="1.70" fill="#000" opacity="0.80" filter="url(#blur1)"/>
<text x="252.35" y="347.90" font-size="8.9" textLength="20.45" lengthAdjust="spacingAndGlyphs" fill="#111">cMyc</text>
<rect x="273.6" y="351.30" width="64.1" height="11.20" rx="0.8" fill="#e8e8e8" stroke="#5a5a5a" stroke-width="0.8"/>
<rect x="292.00" y="355.80" width="10.50" height="1.60" rx="0.80" fill="#000" opacity="0.30" filter="url(#blur1)"/>
<rect x="307.50" y="355.40" width="11.00" height="2.40" rx="1.20" fill="#000" opacity="0.85" filter="url(#blur1)"/>
<rect x="323.50" y="355.80" width="11.00" height="1.60" rx="0.80" fill="#000" opacity="0.35" filter="url(#blur1)"/>
<text x="248.30" y="361.60" font-size="8.9" textLength="24.82" lengthAdjust="spacingAndGlyphs" fill="#111">Nestin</text>
<rect x="273.6" y="364.60" width="64.1" height="9.10" rx="0.8" fill="#a4a4a4" stroke="#5a5a5a" stroke-width="0.8"/>
<rect x="275.00" y="368.20" width="12.00" height="2.40" rx="1.20" fill="#000" opacity="0.50" filter="url(#blur1)"/>
<rect x="290.00" y="368.30" width="11.50" height="2.20" rx="1.10" fill="#000" opacity="0.30" filter="url(#blur1)"/>
<rect x="306.80" y="367.90" width="11.60" height="3.00" rx="1.50" fill="#000" opacity="0.90" filter="url(#blur1)"/>
<rect x="322.80" y="367.90" width="12.20" height="3.00" rx="1.50" fill="#000" opacity="0.85" filter="url(#blur1)"/>
<text x="247.60" y="372.80" font-size="8.9" textLength="25.15" lengthAdjust="spacingAndGlyphs" fill="#111">CD133</text>
<rect x="273.6" y="376.00" width="64.1" height="10.50" rx="0.8" fill="#ececec" stroke="#5a5a5a" stroke-width="0.8"/>
<rect x="276.50" y="379.10" width="12.00" height="3.80" rx="1.90" fill="#000" opacity="1.00" filter="url(#blur1)"/>
<rect x="291.80" y="378.90" width="13.20" height="4.20" rx="2.10" fill="#000" opacity="1.00" filter="url(#blur1)"/>
<rect x="307.40" y="378.70" width="13.60" height="4.60" rx="2.30" fill="#000" opacity="1.00" filter="url(#blur1)"/>
<rect x="323.20" y="379.00" width="11.70" height="4.00" rx="2.00" fill="#000" opacity="1.00" filter="url(#blur1)"/>
<text x="252.80" y="385.60" font-size="8.9" textLength="19.56" lengthAdjust="spacingAndGlyphs" fill="#111">Actin</text>
<text x="359.08" y="286.65" font-size="21.74" textLength="15.08" lengthAdjust="spacingAndGlyphs" stroke="#000" stroke-width="0.5">H</text>
<text x="435.39" y="283.70" font-size="5.2" font-weight="bold" textLength="14.98" lengthAdjust="spacingAndGlyphs" fill="#222" stroke="#222" stroke-width="0.22">GBM6</text>
<text x="507.81" y="283.70" font-size="5.2" font-weight="bold" textLength="16.86" lengthAdjust="spacingAndGlyphs" fill="#222" stroke="#222" stroke-width="0.22">GBM6R</text>
<text x="390.80" y="328.16" font-size="5.8" font-weight="bold" textLength="16.68" lengthAdjust="spacingAndGlyphs" fill="#111" transform="rotate(-90 390.80 328.16)">DMSO</text>
<text x="391.30" y="403.95" font-size="5.8" font-weight="bold" textLength="11.29" lengthAdjust="spacingAndGlyphs" fill="#111" transform="rotate(-90 391.30 403.95)">TMZ</text>
<text x="404.80" y="327.92" font-size="5.2" font-weight="bold" textLength="14.52" lengthAdjust="spacingAndGlyphs" fill="#222" transform="rotate(-90 404.80 327.92)" stroke="#222" stroke-width="0.22">SSC-A</text>
<text x="477.60" y="327.21" font-size="5.2" font-weight="bold" textLength="13.81" lengthAdjust="spacingAndGlyphs" fill="#222" transform="rotate(-90 477.60 327.21)" stroke="#222" stroke-width="0.22">SSC-A</text>
<text x="404.00" y="407.02" font-size="5.2" font-weight="bold" textLength="14.82" lengthAdjust="spacingAndGlyphs" fill="#222" transform="rotate(-90 404.00 407.02)" stroke="#222" stroke-width="0.22">SSC-A</text>
<text x="476.00" y="404.82" font-size="5.2" font-weight="bold" textLength="14.42" lengthAdjust="spacingAndGlyphs" fill="#222" transform="rotate(-90 476.00 404.82)" stroke="#222" stroke-width="0.22">SSC-A</text>
<rect x="416.90" y="289.50" width="52.70" height="61.60" fill="#fff" stroke="#777" stroke-width="0.5"/>
<line x1="415.70" y1="340.30" x2="416.90" y2="340.30" stroke="#777" stroke-width="0.4"/>
<rect x="410.40" y="339.90" width="4.00" height="0.80" fill="#bbb"/>
<line x1="415.70" y1="328.50" x2="416.90" y2="328.50" stroke="#777" stroke-width="0.4"/>
<rect x="410.40" y="328.10" width="4.00" height="0.80" fill="#bbb"/>
<line x1="415.70" y1="316.70" x2="416.90" y2="316.70" stroke="#777" stroke-width="0.4"/>
<rect x="410.40" y="316.30" width="4.00" height="0.80" fill="#bbb"/>
<line x1="415.70" y1="304.90" x2="416.90" y2="304.90" stroke="#777" stroke-width="0.4"/>
<rect x="410.40" y="304.50" width="4.00" height="0.80" fill="#bbb"/>
<line x1="415.70" y1="293.10" x2="416.90" y2="293.10" stroke="#777" stroke-width="0.4"/>
<rect x="410.40" y="292.70" width="4.00" height="0.80" fill="#bbb"/>
<line x1="420.90" y1="351.10" x2="420.90" y2="352.10" stroke="#777" stroke-width="0.4"/>
<rect x="419.70" y="353.30" width="2.40" height="0.70" fill="#bbb"/>
<line x1="429.84" y1="351.10" x2="429.84" y2="352.10" stroke="#777" stroke-width="0.4"/>
<rect x="428.64" y="353.30" width="2.40" height="0.70" fill="#bbb"/>
<line x1="438.78" y1="351.10" x2="438.78" y2="352.10" stroke="#777" stroke-width="0.4"/>
<rect x="437.58" y="353.30" width="2.40" height="0.70" fill="#bbb"/>
<line x1="447.72" y1="351.10" x2="447.72" y2="352.10" stroke="#777" stroke-width="0.4"/>
<rect x="446.52" y="353.30" width="2.40" height="0.70" fill="#bbb"/>
<line x1="456.66" y1="351.10" x2="456.66" y2="352.10" stroke="#777" stroke-width="0.4"/>
<rect x="455.46" y="353.30" width="2.40" height="0.70" fill="#bbb"/>
<line x1="465.60" y1="351.10" x2="465.60" y2="352.10" stroke="#777" stroke-width="0.4"/>
<rect x="464.40" y="353.30" width="2.40" height="0.70" fill="#bbb"/>
<rect x="434.70" y="300.30" width="34.40" height="45.80" fill="none" stroke="#555" stroke-width="0.5"/>
<rect x="435.47" y="338.08" width="0.80" height="0.80" fill="#3048ff" opacity="0.66"/>
<rect x="434.32" y="325.95" width="0.80" height="0.80" fill="#3048ff" opacity="0.75"/>
<rect x="437.30" y="319.40" width="0.80" height="0.80" fill="#3048ff" opacity="0.56"/>
<rect x="437.95" y="310.93" width="0.80" height="0.80" fill="#3048ff" opacity="0.74"/>
<rect x="439.37" y="314.40" width="0.80" height="0.80" fill="#3048ff" opacity="0.87"/>
<rect x="434.64" y="335.44" width="0.80" height="0.80" fill="#3048ff" opacity="0.98"/>
<rect x="439.31" y="307.74" width="0.80" height="0.80" fill="#3048ff" opacity="0.79"/>
<rect x="439.37" y="305.87" width="0.80" height="0.80" fill="#3048ff" opacity="0.72"/>
<rect x="434.28" y="335.81" width="0.80" height="0.80" fill="#3048ff" opacity="0.65"/>
<rect x="435.92" y="328.20" width="0.80" height="0.80" fill="#3048ff" opacity="0.77"/>
<rect x="434.75" y="335.31" width="0.80" height="0.80" fill="#3048ff" opacity="0.76"/>
<rect x="435.83" y="333.50" width="0.80" height="0.80" fill="#3048ff" opacity="0.56"/>
<rect x="436.78" y="310.84" width="0.80" height="0.80" fill="#3048ff" opacity="0.63"/>
<rect x="439.09" y="303.18" width="0.80" height="0.80" fill="#3048ff" opacity="0.94"/>
<rect x="433.11" y="338.42" width="0.80" height="0.80" fill="#3048ff" opacity="0.87"/>
<rect x="441.10" y="306.01" width="0.80" height="0.80" fill="#3048ff" opacity="0.74"/>
<rect x="437.94" y="311.21" width="0.80" height="0.80" fill="#3048ff" opacity="0.81"/>
<rect x="437.90" y="308.67" width="0.80" height="0.80" fill="#3048ff" opacity="0.93"/>
<rect x="435.90" y="325.56" width="0.80" height="0.80" fill="#3048ff" opacity="0.66"/>
<rect x="438.04" y="312.75" width="0.80" height="0.80" fill="#3048ff" opacity="0.74"/>
<rect x="432.43" y="337.06" width="0.80" height="0.80" fill="#3048ff" opacity="0.85"/>
<rect x="434.78" y="330.55" width="0.80" height="0.80" fill="#3048ff" opacity="0.75"/>
<rect x="436.49" y="325.43" width="0.80" height="0.80" fill="#3048ff" opacity="0.73"/>
<rect x="434.54" y="326.18" width="0.80" height="0.80" fill="#3048ff" opacity="0.56"/>
<rect x="432.81" y="340.05" width="0.80" height="0.80" fill="#3048ff" opacity="0.82"/>
<rect x="431.95" y="329.86" width="0.80" height="0.80" fill="#3048ff" opacity="0.63"/>
<rect x="438.38" y="325.68" width="0.80" height="0.80" fill="#3048ff" opacity="0.79"/>
<rect x="438.45" y="309.75" width="0.80" height="0.80" fill="#3048ff" opacity="0.65"/>
<rect x="437.87" y="325.22" width="0.80" height="0.80" fill="#3048ff" opacity="0.76"/>
<rect x="434.32" y="334.17" width="0.80" height="0.80" fill="#3048ff" opacity="0.80"/>
<rect x="441.73" y="304.97" width="0.80" height="0.80" fill="#3048ff" opacity="0.92"/>
<rect x="438.98" y="308.49" width="0.80" height="0.80" fill="#3048ff" opacity="0.88"/>
<rect x="436.65" y="312.20" width="0.80" height="0.80" fill="#3048ff" opacity="0.74"/>
<rect x="433.73" y="339.83" width="0.80" height="0.80" fill="#3048ff" opacity="0.94"/>
<rect x="437.09" y="322.90" width="0.80" height="0.80" fill="#3048ff" opacity="0.77"/>
<rect x="436.76" y="331.20" width="0.80" height="0.80" fill="#3048ff" opacity="0.71"/>
<rect x="435.12" y="324.21" width="0.80" height="0.80" fill="#3048ff" opacity="0.76"/>
<rect x="432.59" y="340.30" width="0.80" height="0.80" fill="#3048ff" opacity="0.65"/>
<rect x="432.15" y="336.94" width="0.80" height="0.80" fill="#3048ff" opacity="0.91"/>
<rect x="436.91" y="312.77" width="0.80" height="0.80" fill="#3048ff" opacity="0.92"/>
<rect x="435.81" y="334.62" width="0.80" height="0.80" fill="#3048ff" opacity="0.59"/>
<rect x="432.19" y="340.45" width="0.80" height="0.80" fill="#3048ff" opacity="0.56"/>
<rect x="437.91" y="314.71" width="0.80" height="0.80" fill="#3048ff" opacity="0.83"/>
<rect x="435.85" y="331.63" width="0.80" height="0.80" fill="#3048ff" opacity="0.58"/>
<rect x="433.53" y="337.43" width="0.80" height="0.80" fill="#3048ff" opacity="0.67"/>
<rect x="437.46" y="316.72" width="0.80" height="0.80" fill="#3048ff" opacity="0.75"/>
<rect x="434.82" y="332.41" width="0.80" height="0.80" fill="#3048ff" opacity="0.72"/>
<rect x="435.71" y="328.85" width="0.80" height="0.80" fill="#3048ff" opacity="0.63"/>
<rect x="435.36" y="338.71" width="0.80" height="0.80" fill="#3048ff" opacity="0.64"/>
<rect x="435.93" y="321.39" width="0.80" height="0.80" fill="#3048ff" opacity="0.92"/>
<rect x="434.56" y="340.40" width="0.80" height="0.80" fill="#3048ff" opacity="0.87"/>
<rect x="434.39" y="337.41" width="0.80" height="0.80" fill="#3048ff" opacity="0.87"/>
<rect x="436.47" y="318.22" width="0.80" height="0.80" fill="#3048ff" opacity="0.99"/>
<rect x="437.97" y="312.74" width="0.80" height="0.80" fill="#3048ff" opacity="0.78"/>
<rect x="433.82" y="335.61" width="0.80" height="0.80" fill="#3048ff" opacity="0.81"/>
<rect x="434.05" y="332.44" width="0.80" height="0.80" fill="#3048ff" opacity="0.83"/>
<rect x="432.91" y="339.78" width="0.80" height="0.80" fill="#3048ff" opacity="0.94"/>
<rect x="438.27" y="332.94" width="0.80" height="0.80" fill="#3048ff" opacity="0.94"/>
<rect x="437.03" y="332.81" width="0.80" height="0.80" fill="#3048ff" opacity="0.74"/>
<rect x="433.94" y="334.71" width="0.80" height="0.80" fill="#3048ff" opacity="0.55"/>
<rect x="441.18" y="308.85" width="0.80" height="0.80" fill="#3048ff" opacity="0.98"/>
<rect x="437.18" y="322.89" width="0.80" height="0.80" fill="#3048ff" opacity="0.63"/>
<rect x="440.76" y="309.39" width="0.80" height="0.80" fill="#3048ff" opacity="0.78"/>
<rect x="435.08" y="330.44" width="0.80" height="0.80" fill="#3048ff" opacity="0.71"/>
<rect x="433.87" y="336.13" width="0.80" height="0.80" fill="#3048ff" opacity="0.64"/>
<rect x="432.85" y="338.81" width="0.80" height="0.80" fill="#3048ff" opacity="0.85"/>
<rect x="433.81" y="333.29" width="0.80" height="0.80" fill="#3048ff" opacity="0.94"/>
<rect x="439.00" y="307.83" width="0.80" height="0.80" fill="#3048ff" opacity="0.56"/>
<rect x="432.69" y="336.27" width="0.80" height="0.80" fill="#3048ff" opacity="0.90"/>
<rect x="438.58" y="331.82" width="0.80" height="0.80" fill="#3048ff" opacity="0.65"/>
<rect x="438.90" y="318.39" width="0.80" height="0.80" fill="#3048ff" opacity="0.70"/>
<rect x="436.30" y="308.67" width="0.80" height="0.80" fill="#3048ff" opacity="0.86"/>
<rect x="437.00" y="326.39" width="0.80" height="0.80" fill="#3048ff" opacity="0.88"/>
<rect x="433.93" y="339.25" width="0.80" height="0.80" fill="#3048ff" opacity="0.63"/>
<rect x="439.60" y="307.27" width="0.80" height="0.80" fill="#3048ff" opacity="0.82"/>
<rect x="440.68" y="310.67" width="0.80" height="0.80" fill="#3048ff" opacity="0.72"/>
<rect x="434.53" y="331.78" width="0.80" height="0.80" fill="#3048ff" opacity="0.82"/>
<rect x="441.96" y="305.11" width="0.80" height="0.80" fill="#3048ff" opacity="0.95"/>
<rect x="433.62" y="338.06" width="0.80" height="0.80" fill="#3048ff" opacity="0.57"/>
<rect x="433.78" y="339.49" width="0.80" height="0.80" fill="#3048ff" opacity="0.94"/>
<rect x="438.71" y="313.19" width="0.80" height="0.80" fill="#3048ff" opacity="0.83"/>
<rect x="437.06" y="313.48" width="0.80" height="0.80" fill="#3048ff" opacity="0.72"/>
<rect x="436.70" y="322.87" width="0.80" height="0.80" fill="#3048ff" opacity="0.67"/>
<rect x="439.46" y="308.26" width="0.80" height="0.80" fill="#3048ff" opacity="0.80"/>
<rect x="438.19" y="306.57" width="0.80" height="0.80" fill="#3048ff" opacity="0.90"/>
<rect x="438.72" y="311.31" width="0.80" height="0.80" fill="#3048ff" opacity="0.56"/>
<rect x="437.84" y="318.57" width="0.80" height="0.80" fill="#3048ff" opacity="0.95"/>
<rect x="434.23" y="340.11" width="0.80" height="0.80" fill="#3048ff" opacity="0.66"/>
<rect x="439.14" y="303.40" width="0.80" height="0.80" fill="#3048ff" opacity="0.63"/>
<rect x="434.99" y="335.05" width="0.80" height="0.80" fill="#3048ff" opacity="0.88"/>
<rect x="435.15" y="338.85" width="0.80" height="0.80" fill="#3048ff" opacity="0.99"/>
<rect x="438.40" y="307.36" width="0.80" height="0.80" fill="#3048ff" opacity="0.68"/>
<rect x="434.15" y="334.68" width="0.80" height="0.80" fill="#3048ff" opacity="0.84"/>
<rect x="433.96" y="340.12" width="0.80" height="0.80" fill="#3048ff" opacity="0.55"/>
<rect x="439.16" y="303.69" width="0.80" height="0.80" fill="#3048ff" opacity="0.75"/>
<rect x="436.73" y="332.71" width="0.80" height="0.80" fill="#3048ff" opacity="0.58"/>
<rect x="442.49" y="307.15" width="0.80" height="0.80" fill="#3048ff" opacity="0.60"/>
<rect x="433.91" y="335.85" width="0.80" height="0.80" fill="#3048ff" opacity="0.83"/>
<rect x="437.73" y="303.82" width="0.80" height="0.80" fill="#3048ff" opacity="0.85"/>
<rect x="434.24" y="334.50" width="0.80" height="0.80" fill="#3048ff" opacity="0.79"/>
<rect x="435.03" y="332.91" width="0.80" height="0.80" fill="#3048ff" opacity="0.68"/>
<rect x="440.20" y="303.65" width="0.80" height="0.80" fill="#3048ff" opacity="0.75"/>
<rect x="435.25" y="319.38" width="0.80" height="0.80" fill="#3048ff" opacity="0.73"/>
<rect x="432.59" y="332.93" width="0.80" height="0.80" fill="#3048ff" opacity="0.70"/>
<rect x="436.65" y="332.59" width="0.80" height="0.80" fill="#3048ff" opacity="0.69"/>
<rect x="432.91" y="331.99" width="0.80" height="0.80" fill="#3048ff" opacity="0.79"/>
<rect x="435.87" y="322.52" width="0.80" height="0.80" fill="#3048ff" opacity="0.56"/>
<rect x="434.14" y="334.98" width="0.80" height="0.80" fill="#3048ff" opacity="0.58"/>
<rect x="436.95" y="323.69" width="0.80" height="0.80" fill="#3048ff" opacity="0.84"/>
<rect x="435.15" y="333.47" width="0.80" height="0.80" fill="#3048ff" opacity="0.91"/>
<rect x="436.60" y="326.04" width="0.80" height="0.80" fill="#3048ff" opacity="0.78"/>
<rect x="437.63" y="312.87" width="0.80" height="0.80" fill="#3048ff" opacity="0.58"/>
<rect x="440.44" y="305.37" width="0.80" height="0.80" fill="#3048ff" opacity="0.99"/>
<rect x="440.39" y="311.61" width="0.80" height="0.80" fill="#3048ff" opacity="0.69"/>
<rect x="431.19" y="338.75" width="0.80" height="0.80" fill="#3048ff" opacity="0.68"/>
<rect x="438.69" y="308.12" width="0.80" height="0.80" fill="#3048ff" opacity="0.61"/>
<rect x="440.20" y="307.30" width="0.80" height="0.80" fill="#3048ff" opacity="0.96"/>
<rect x="438.49" y="312.45" width="0.80" height="0.80" fill="#3048ff" opacity="0.96"/>
<rect x="438.50" y="310.69" width="0.80" height="0.80" fill="#3048ff" opacity="0.63"/>
<rect x="433.75" y="328.40" width="0.80" height="0.80" fill="#3048ff" opacity="0.62"/>
<rect x="437.12" y="316.58" width="0.80" height="0.80" fill="#3048ff" opacity="0.58"/>
<rect x="438.64" y="304.66" width="0.80" height="0.80" fill="#3048ff" opacity="0.91"/>
<rect x="434.02" y="323.77" width="0.80" height="0.80" fill="#3048ff" opacity="0.75"/>
<rect x="434.86" y="329.79" width="0.80" height="0.80" fill="#3048ff" opacity="0.70"/>
<rect x="436.62" y="334.53" width="0.80" height="0.80" fill="#3048ff" opacity="0.74"/>
<rect x="436.90" y="322.88" width="0.80" height="0.80" fill="#3048ff" opacity="0.58"/>
<rect x="435.72" y="331.26" width="0.80" height="0.80" fill="#3048ff" opacity="0.67"/>
<rect x="438.97" y="311.26" width="0.80" height="0.80" fill="#3048ff" opacity="0.73"/>
<rect x="434.83" y="329.59" width="0.80" height="0.80" fill="#3048ff" opacity="0.55"/>
<rect x="435.72" y="324.61" width="0.80" height="0.80" fill="#3048ff" opacity="0.78"/>
<rect x="435.31" y="319.52" width="0.80" height="0.80" fill="#3048ff" opacity="0.88"/>
<rect x="435.41" y="335.15" width="0.80" height="0.80" fill="#3048ff" opacity="0.77"/>
<rect x="436.23" y="326.61" width="0.80" height="0.80" fill="#3048ff" opacity="0.80"/>
<rect x="440.38" y="307.47" width="0.80" height="0.80" fill="#3048ff" opacity="0.96"/>
<rect x="434.60" y="333.98" width="0.80" height="0.80" fill="#3048ff" opacity="0.58"/>
<rect x="435.90" y="325.30" width="0.80" height="0.80" fill="#3048ff" opacity="0.94"/>
<rect x="434.57" y="337.43" width="0.80" height="0.80" fill="#3048ff" opacity="0.69"/>
<rect x="434.77" y="317.58" width="0.80" height="0.80" fill="#3048ff" opacity="0.93"/>
<rect x="434.74" y="330.67" width="0.80" height="0.80" fill="#3048ff" opacity="0.82"/>
<rect x="436.64" y="309.94" width="0.80" height="0.80" fill="#3048ff" opacity="0.95"/>
<rect x="438.75" y="304.82" width="0.80" height="0.80" fill="#3048ff" opacity="0.66"/>
<rect x="434.22" y="335.78" width="0.80" height="0.80" fill="#3048ff" opacity="0.81"/>
<rect x="439.79" y="314.61" width="0.80" height="0.80" fill="#3048ff" opacity="0.87"/>
<rect x="435.88" y="331.51" width="0.80" height="0.80" fill="#3048ff" opacity="0.78"/>
<rect x="434.28" y="337.29" width="0.80" height="0.80" fill="#3048ff" opacity="0.99"/>
<rect x="437.93" y="312.26" width="0.80" height="0.80" fill="#3048ff" opacity="0.83"/>
<rect x="437.62" y="334.23" width="0.80" height="0.80" fill="#3048ff" opacity="0.61"/>
<rect x="436.35" y="313.77" width="0.80" height="0.80" fill="#3048ff" opacity="0.93"/>
<rect x="436.79" y="319.04" width="0.80" height="0.80" fill="#3048ff" opacity="0.97"/>
<rect x="438.23" y="304.26" width="0.80" height="0.80" fill="#3048ff" opacity="0.72"/>
<rect x="437.53" y="310.06" width="0.60" height="0.60" fill="#7080ff" opacity="0.6"/>
<rect x="436.45" y="333.54" width="0.60" height="0.60" fill="#7080ff" opacity="0.6"/>
<rect x="442.29" y="334.95" width="0.60" height="0.60" fill="#7080ff" opacity="0.6"/>
<rect x="434.39" y="304.29" width="0.60" height="0.60" fill="#7080ff" opacity="0.6"/>
<rect x="437.28" y="317.50" width="0.60" height="0.60" fill="#7080ff" opacity="0.6"/>
<rect x="436.15" y="335.25" width="0.60" height="0.60" fill="#7080ff" opacity="0.6"/>
<rect x="440.70" y="330.47" width="0.60" height="0.60" fill="#7080ff" opacity="0.6"/>
<rect x="435.10" y="339.45" width="0.60" height="0.60" fill="#7080ff" opacity="0.6"/>
<rect x="433.41" y="323.45" width="0.60" height="0.60" fill="#7080ff" opacity="0.6"/>
<rect x="439.26" y="316.51" width="0.60" height="0.60" fill="#7080ff" opacity="0.6"/>
<rect x="435.27" y="308.86" width="0.60" height="0.60" fill="#7080ff" opacity="0.6"/>
<rect x="438.62" y="329.12" width="0.60" height="0.60" fill="#7080ff" opacity="0.6"/>
<rect x="439.06" y="329.55" width="0.60" height="0.60" fill="#7080ff" opacity="0.6"/>
<rect x="440.04" y="330.37" width="0.60" height="0.60" fill="#7080ff" opacity="0.6"/>
<rect x="441.29" y="310.49" width="0.60" height="0.60" fill="#7080ff" opacity="0.6"/>
<rect x="438.65" y="303.77" width="0.60" height="0.60" fill="#7080ff" opacity="0.6"/>
<rect x="441.76" y="321.54" width="0.60" height="0.60" fill="#7080ff" opacity="0.6"/>
<rect x="438.91" y="311.30" width="0.60" height="0.60" fill="#7080ff" opacity="0.6"/>
<rect x="436.04" y="325.50" width="0.60" height="0.60" fill="#7080ff" opacity="0.6"/>
<rect x="441.28" y="335.62" width="0.60" height="0.60" fill="#7080ff" opacity="0.6"/>
<rect x="440.67" y="335.25" width="0.60" height="0.60" fill="#7080ff" opacity="0.6"/>
<rect x="442.85" y="319.53" width="0.60" height="0.60" fill="#7080ff" opacity="0.6"/>
<rect x="442.94" y="311.59" width="0.60" height="0.60" fill="#7080ff" opacity="0.6"/>
<rect x="438.20" y="334.57" width="0.60" height="0.60" fill="#7080ff" opacity="0.6"/>
<rect x="436.31" y="318.53" width="0.60" height="0.60" fill="#7080ff" opacity="0.6"/>
<rect x="436.77" y="321.09" width="0.60" height="0.60" fill="#7080ff" opacity="0.6"/>
<rect x="433.21" y="320.16" width="0.60" height="0.60" fill="#7080ff" opacity="0.6"/>
<rect x="437.70" y="323.32" width="0.60" height="0.60" fill="#7080ff" opacity="0.6"/>
<rect x="437.19" y="328.38" width="0.60" height="0.60" fill="#7080ff" opacity="0.6"/>
<rect x="440.03" y="310.78" width="0.60" height="0.60" fill="#7080ff" opacity="0.6"/>
<rect x="439.68" y="321.48" width="0.60" height="0.60" fill="#7080ff" opacity="0.6"/>
<rect x="435.24" y="325.71" width="0.60" height="0.60" fill="#7080ff" opacity="0.6"/>
<rect x="435.98" y="339.46" width="0.60" height="0.60" fill="#7080ff" opacity="0.6"/>
<rect x="442.02" y="317.59" width="0.60" height="0.60" fill="#7080ff" opacity="0.6"/>
<rect x="438.31" y="309.08" width="0.60" height="0.60" fill="#7080ff" opacity="0.6"/>
<rect x="437.82" y="303.28" width="0.60" height="0.60" fill="#7080ff" opacity="0.6"/>
<rect x="437.29" y="308.89" width="0.60" height="0.60" fill="#7080ff" opacity="0.6"/>
<rect x="443.08" y="312.20" width="0.60" height="0.60" fill="#7080ff" opacity="0.6"/>
<rect x="434.90" y="328.36" width="0.60" height="0.60" fill="#7080ff" opacity="0.6"/>
<rect x="438.51" y="316.78" width="0.60" height="0.60" fill="#7080ff" opacity="0.6"/>
<g filter="url(#blur2)">
<path d="M429.53,341.07 L428.93,338.29 L428.75,335.50 L428.70,332.71 L428.72,329.93 L428.80,327.14 L428.91,324.35 L429.08,321.57 L429.28,318.78 L429.52,316.00 L429.81,313.21 L430.15,310.42 L430.57,307.64 L431.11,304.85 L432.07,302.06 L433.22,302.06 L433.83,304.85 L434.00,307.64 L434.05,310.42 L434.03,313.21 L433.96,316.00 L433.84,318.78 L433.68,321.57 L433.47,324.35 L433.23,327.14 L432.94,329.93 L432.60,332.71 L432.18,335.50 L431.64,338.29 L430.68,341.07 Z" fill="#4060ff" stroke="none" stroke-width="1" opacity="0.85"/>
<path d="M429.80,339.60 L429.42,337.05 L429.34,334.50 L429.34,331.95 L429.40,329.40 L429.49,326.85 L429.61,324.30 L429.76,321.75 L429.94,319.20 L430.15,316.65 L430.39,314.10 L430.67,311.55 L431.00,309.00 L431.42,306.45 L432.13,303.90 L432.93,303.90 L433.31,306.45 L433.39,309.00 L433.39,311.55 L433.33,314.10 L433.24,316.65 L433.12,319.20 L432.96,321.75 L432.78,324.30 L432.57,326.85 L432.33,329.40 L432.06,331.95 L431.73,334.50 L431.31,337.05 L430.60,339.60 Z" fill="#2a90f0" stroke="none" stroke-width="1" opacity="1.0"/>
<path d="M430.08,337.39 L429.87,335.18 L429.85,332.98 L429.89,330.77 L429.96,328.56 L430.05,326.35 L430.17,324.14 L430.30,321.94 L430.46,319.73 L430.63,317.52 L430.82,315.31 L431.04,313.10 L431.29,310.90 L431.60,308.69 L432.10,306.48 L432.62,306.48 L432.84,308.69 L432.86,310.90 L432.82,313.10 L432.75,315.31 L432.65,317.52 L432.54,319.73 L432.40,321.94 L432.25,324.14 L432.08,326.35 L431.88,328.56 L431.67,330.77 L431.42,332.98 L431.11,335.18 L430.61,337.39 Z" fill="#30c8b0" stroke="none" stroke-width="1" opacity="1.0"/>
<path d="M430.43,333.71 L430.33,331.98 L430.35,330.24 L430.40,328.51 L430.47,326.77 L430.55,325.04 L430.65,323.30 L430.76,321.57 L430.87,319.83 L431.00,318.10 L431.15,316.36 L431.30,314.63 L431.48,312.89 L431.69,311.16 L432.01,309.42 L432.32,309.42 L432.42,311.16 L432.40,312.89 L432.35,314.63 L432.28,316.36 L432.20,318.10 L432.10,319.83 L432.00,321.57 L431.88,323.30 L431.75,325.04 L431.61,326.77 L431.45,328.51 L431.27,330.24 L431.06,331.98 L430.74,333.71 Z" fill="#90d840" stroke="none" stroke-width="1" opacity="1.0"/>
<path d="M430.95,327.09 L430.90,326.30 L430.91,325.51 L430.93,324.72 L430.96,323.93 L431.00,323.15 L431.05,322.36 L431.10,321.57 L431.15,320.78 L431.21,319.99 L431.27,319.20 L431.34,318.41 L431.42,317.63 L431.52,316.84 L431.67,316.05 L431.81,316.05 L431.85,316.84 L431.84,317.63 L431.82,318.41 L431.79,319.20 L431.75,319.99 L431.70,320.78 L431.66,321.57 L431.60,322.36 L431.54,323.15 L431.48,323.93 L431.41,324.72 L431.33,325.51 L431.23,326.30 L431.09,327.09 Z" fill="#e08030" stroke="none" stroke-width="1" opacity="1.0"/>
</g>
<rect x="428.92" y="326.94" width="0.70" height="0.70" fill="#3d5cff" opacity="0.8"/>
<rect x="435.04" y="302.01" width="0.70" height="0.70" fill="#3d5cff" opacity="0.8"/>
<rect x="429.48" y="306.46" width="0.70" height="0.70" fill="#3d5cff" opacity="0.8"/>
<rect x="433.58" y="315.47" width="0.70" height="0.70" fill="#3d5cff" opacity="0.8"/>
<rect x="433.57" y="315.91" width="0.70" height="0.70" fill="#3d5cff" opacity="0.8"/>
<rect x="434.21" y="309.82" width="0.70" height="0.70" fill="#3d5cff" opacity="0.8"/>
<rect x="430.16" y="309.68" width="0.70" height="0.70" fill="#3d5cff" opacity="0.8"/>
<rect x="434.55" y="316.90" width="0.70" height="0.70" fill="#3d5cff" opacity="0.8"/>
<rect x="434.72" y="304.36" width="0.70" height="0.70" fill="#3d5cff" opacity="0.8"/>
<rect x="432.90" y="335.40" width="0.70" height="0.70" fill="#3d5cff" opacity="0.8"/>
<rect x="433.64" y="321.83" width="0.70" height="0.70" fill="#3d5cff" opacity="0.8"/>
<rect x="432.27" y="337.58" width="0.70" height="0.70" fill="#3d5cff" opacity="0.8"/>
<rect x="428.50" y="338.75" width="0.70" height="0.70" fill="#3d5cff" opacity="0.8"/>
<rect x="429.52" y="320.91" width="0.70" height="0.70" fill="#3d5cff" opacity="0.8"/>
<rect x="433.97" y="313.43" width="0.70" height="0.70" fill="#3d5cff" opacity="0.8"/>
<rect x="428.77" y="329.18" width="0.70" height="0.70" fill="#3d5cff" opacity="0.8"/>
<rect x="432.60" y="331.92" width="0.70" height="0.70" fill="#3d5cff" opacity="0.8"/>
<rect x="434.23" y="307.71" width="0.70" height="0.70" fill="#3d5cff" opacity="0.8"/>
<rect x="429.10" y="322.51" width="0.70" height="0.70" fill="#3d5cff" opacity="0.8"/>
<rect x="434.47" y="312.49" width="0.70" height="0.70" fill="#3d5cff" opacity="0.8"/>
<rect x="428.78" y="327.08" width="0.70" height="0.70" fill="#3d5cff" opacity="0.8"/>
<rect x="433.54" y="321.87" width="0.70" height="0.70" fill="#3d5cff" opacity="0.8"/>
<rect x="434.18" y="306.24" width="0.70" height="0.70" fill="#3d5cff" opacity="0.8"/>
<rect x="429.41" y="316.71" width="0.70" height="0.70" fill="#3d5cff" opacity="0.8"/>
<rect x="429.70" y="307.17" width="0.70" height="0.70" fill="#3d5cff" opacity="0.8"/>
<rect x="433.94" y="325.17" width="0.70" height="0.70" fill="#3d5cff" opacity="0.8"/>
<rect x="430.55" y="303.53" width="0.70" height="0.70" fill="#3d5cff" opacity="0.8"/>
<rect x="429.52" y="316.06" width="0.70" height="0.70" fill="#3d5cff" opacity="0.8"/>
<rect x="435.31" y="306.06" width="0.70" height="0.70" fill="#3d5cff" opacity="0.8"/>
<rect x="433.04" y="335.55" width="0.70" height="0.70" fill="#3d5cff" opacity="0.8"/>
<rect x="429.29" y="322.86" width="0.70" height="0.70" fill="#3d5cff" opacity="0.8"/>
<rect x="433.97" y="312.40" width="0.70" height="0.70" fill="#3d5cff" opacity="0.8"/>
<rect x="432.80" y="328.96" width="0.70" height="0.70" fill="#3d5cff" opacity="0.8"/>
<rect x="434.68" y="312.29" width="0.70" height="0.70" fill="#3d5cff" opacity="0.8"/>
<rect x="428.01" y="338.82" width="0.70" height="0.70" fill="#3d5cff" opacity="0.8"/>
<rect x="428.22" y="337.52" width="0.70" height="0.70" fill="#3d5cff" opacity="0.8"/>
<rect x="428.19" y="339.76" width="0.70" height="0.70" fill="#3d5cff" opacity="0.8"/>
<rect x="432.35" y="340.18" width="0.70" height="0.70" fill="#3d5cff" opacity="0.8"/>
<rect x="433.50" y="327.63" width="0.70" height="0.70" fill="#3d5cff" opacity="0.8"/>
<rect x="432.85" y="337.71" width="0.70" height="0.70" fill="#3d5cff" opacity="0.8"/>
<text x="441.50" y="337.30" font-size="6.8" font-weight="bold" textLength="24.40" lengthAdjust="spacingAndGlyphs" fill="#111">ABCG2+</text>
<text x="441.50" y="345.00" font-size="6.8" font-weight="bold" textLength="12.50" lengthAdjust="spacingAndGlyphs" fill="#111">9.90</text>
<rect x="485.50" y="289.50" width="52.80" height="61.60" fill="#fff" stroke="#777" stroke-width="0.5"/>
<line x1="484.30" y1="340.30" x2="485.50" y2="340.30" stroke="#777" stroke-width="0.4"/>
<rect x="479.00" y="339.90" width="4.00" height="0.80" fill="#bbb"/>
<line x1="484.30" y1="328.50" x2="485.50" y2="328.50" stroke="#777" stroke-width="0.4"/>
<rect x="479.00" y="328.10" width="4.00" height="0.80" fill="#bbb"/>
<line x1="484.30" y1="316.70" x2="485.50" y2="316.70" stroke="#777" stroke-width="0.4"/>
<rect x="479.00" y="316.30" width="4.00" height="0.80" fill="#bbb"/>
<line x1="484.30" y1="304.90" x2="485.50" y2="304.90" stroke="#777" stroke-width="0.4"/>
<rect x="479.00" y="304.50" width="4.00" height="0.80" fill="#bbb"/>
<line x1="484.30" y1="293.10" x2="485.50" y2="293.10" stroke="#777" stroke-width="0.4"/>
<rect x="479.00" y="292.70" width="4.00" height="0.80" fill="#bbb"/>
<line x1="489.50" y1="351.10" x2="489.50" y2="352.10" stroke="#777" stroke-width="0.4"/>
<rect x="488.30" y="353.30" width="2.40" height="0.70" fill="#bbb"/>
<line x1="498.46" y1="351.10" x2="498.46" y2="352.10" stroke="#777" stroke-width="0.4"/>
<rect x="497.26" y="353.30" width="2.40" height="0.70" fill="#bbb"/>
<line x1="507.42" y1="351.10" x2="507.42" y2="352.10" stroke="#777" stroke-width="0.4"/>
<rect x="506.22" y="353.30" width="2.40" height="0.70" fill="#bbb"/>
<line x1="516.38" y1="351.10" x2="516.38" y2="352.10" stroke="#777" stroke-width="0.4"/>
<rect x="515.18" y="353.30" width="2.40" height="0.70" fill="#bbb"/>
<line x1="525.34" y1="351.10" x2="525.34" y2="352.10" stroke="#777" stroke-width="0.4"/>
<rect x="524.14" y="353.30" width="2.40" height="0.70" fill="#bbb"/>
<line x1="534.30" y1="351.10" x2="534.30" y2="352.10" stroke="#777" stroke-width="0.4"/>
<rect x="533.10" y="353.30" width="2.40" height="0.70" fill="#bbb"/>
<rect x="503.00" y="300.30" width="34.80" height="45.80" fill="none" stroke="#555" stroke-width="0.5"/>
<rect x="505.24" y="305.03" width="0.80" height="0.80" fill="#3048ff" opacity="0.59"/>
<rect x="504.21" y="310.94" width="0.80" height="0.80" fill="#3048ff" opacity="0.88"/>
<rect x="503.11" y="318.60" width="0.80" height="0.80" fill="#3048ff" opacity="0.82"/>
<rect x="505.10" y="322.43" width="0.80" height="0.80" fill="#3048ff" opacity="0.62"/>
<rect x="501.33" y="328.48" width="0.80" height="0.80" fill="#3048ff" opacity="1.00"/>
<rect x="506.09" y="305.36" width="0.80" height="0.80" fill="#3048ff" opacity="0.79"/>
<rect x="502.96" y="327.94" width="0.80" height="0.80" fill="#3048ff" opacity="0.56"/>
<rect x="503.42" y="327.16" width="0.80" height="0.80" fill="#3048ff" opacity="0.69"/>
<rect x="504.05" y="330.36" width="0.80" height="0.80" fill="#3048ff" opacity="0.80"/>
<rect x="501.43" y="335.21" width="0.80" height="0.80" fill="#3048ff" opacity="0.56"/>
<rect x="503.67" y="332.31" width="0.80" height="0.80" fill="#3048ff" opacity="1.00"/>
<rect x="504.94" y="318.39" width="0.80" height="0.80" fill="#3048ff" opacity="0.63"/>
<rect x="505.19" y="308.13" width="0.80" height="0.80" fill="#3048ff" opacity="0.96"/>
<rect x="502.06" y="314.37" width="0.80" height="0.80" fill="#3048ff" opacity="0.91"/>
<rect x="506.04" y="331.30" width="0.80" height="0.80" fill="#3048ff" opacity="0.62"/>
<rect x="503.65" y="314.78" width="0.80" height="0.80" fill="#3048ff" opacity="0.87"/>
<rect x="501.57" y="327.30" width="0.80" height="0.80" fill="#3048ff" opacity="0.97"/>
<rect x="502.89" y="325.74" width="0.80" height="0.80" fill="#3048ff" opacity="0.92"/>
<rect x="504.80" y="331.30" width="0.80" height="0.80" fill="#3048ff" opacity="0.76"/>
<rect x="501.53" y="323.00" width="0.80" height="0.80" fill="#3048ff" opacity="0.96"/>
<rect x="503.02" y="316.17" width="0.80" height="0.80" fill="#3048ff" opacity="0.70"/>
<rect x="503.93" y="317.26" width="0.80" height="0.80" fill="#3048ff" opacity="0.62"/>
<rect x="504.31" y="307.42" width="0.80" height="0.80" fill="#3048ff" opacity="0.69"/>
<rect x="507.67" y="304.96" width="0.80" height="0.80" fill="#3048ff" opacity="0.87"/>
<rect x="501.31" y="325.60" width="0.80" height="0.80" fill="#3048ff" opacity="0.81"/>
<rect x="502.41" y="332.76" width="0.80" height="0.80" fill="#3048ff" opacity="0.64"/>
<rect x="504.88" y="325.29" width="0.80" height="0.80" fill="#3048ff" opacity="0.58"/>
<rect x="503.57" y="311.66" width="0.80" height="0.80" fill="#3048ff" opacity="0.88"/>
<rect x="505.41" y="307.43" width="0.80" height="0.80" fill="#3048ff" opacity="0.58"/>
<rect x="505.69" y="319.34" width="0.80" height="0.80" fill="#3048ff" opacity="0.67"/>
<rect x="502.84" y="335.51" width="0.80" height="0.80" fill="#3048ff" opacity="0.79"/>
<rect x="503.99" y="310.06" width="0.80" height="0.80" fill="#3048ff" opacity="0.66"/>
<rect x="503.36" y="335.99" width="0.80" height="0.80" fill="#3048ff" opacity="0.87"/>
<rect x="501.10" y="340.24" width="0.80" height="0.80" fill="#3048ff" opacity="0.71"/>
<rect x="502.03" y="337.09" width="0.80" height="0.80" fill="#3048ff" opacity="0.98"/>
<rect x="501.54" y="340.34" width="0.80" height="0.80" fill="#3048ff" opacity="0.88"/>
<rect x="501.93" y="340.39" width="0.80" height="0.80" fill="#3048ff" opacity="0.62"/>
<rect x="504.69" y="336.76" width="0.80" height="0.80" fill="#3048ff" opacity="0.86"/>
<rect x="506.63" y="330.16" width="0.80" height="0.80" fill="#3048ff" opacity="0.62"/>
<rect x="503.09" y="340.17" width="0.80" height="0.80" fill="#3048ff" opacity="0.70"/>
<rect x="503.53" y="320.98" width="0.80" height="0.80" fill="#3048ff" opacity="0.70"/>
<rect x="501.39" y="340.26" width="0.80" height="0.80" fill="#3048ff" opacity="0.75"/>
<rect x="503.92" y="314.23" width="0.80" height="0.80" fill="#3048ff" opacity="0.89"/>
<rect x="501.66" y="309.65" width="0.80" height="0.80" fill="#3048ff" opacity="0.87"/>
<rect x="503.38" y="326.85" width="0.80" height="0.80" fill="#3048ff" opacity="0.69"/>
<rect x="504.03" y="338.86" width="0.80" height="0.80" fill="#3048ff" opacity="0.75"/>
<rect x="505.70" y="309.05" width="0.80" height="0.80" fill="#3048ff" opacity="0.73"/>
<rect x="504.46" y="325.18" width="0.80" height="0.80" fill="#3048ff" opacity="0.61"/>
<rect x="504.74" y="304.84" width="0.80" height="0.80" fill="#3048ff" opacity="0.74"/>
<rect x="503.78" y="340.43" width="0.80" height="0.80" fill="#3048ff" opacity="0.80"/>
<rect x="502.53" y="337.93" width="0.80" height="0.80" fill="#3048ff" opacity="0.62"/>
<rect x="502.25" y="339.00" width="0.80" height="0.80" fill="#3048ff" opacity="0.84"/>
<rect x="506.22" y="325.44" width="0.80" height="0.80" fill="#3048ff" opacity="1.00"/>
<rect x="502.10" y="335.33" width="0.80" height="0.80" fill="#3048ff" opacity="0.75"/>
<rect x="500.94" y="334.76" width="0.80" height="0.80" fill="#3048ff" opacity="0.91"/>
<rect x="502.90" y="316.82" width="0.80" height="0.80" fill="#3048ff" opacity="0.67"/>
<rect x="502.81" y="328.77" width="0.80" height="0.80" fill="#3048ff" opacity="0.57"/>
<rect x="502.88" y="329.30" width="0.80" height="0.80" fill="#3048ff" opacity="0.60"/>
<rect x="503.97" y="316.17" width="0.80" height="0.80" fill="#3048ff" opacity="0.63"/>
<rect x="503.01" y="335.36" width="0.80" height="0.80" fill="#3048ff" opacity="0.65"/>
<rect x="502.15" y="324.94" width="0.80" height="0.80" fill="#3048ff" opacity="0.84"/>
<rect x="502.62" y="335.93" width="0.80" height="0.80" fill="#3048ff" opacity="0.96"/>
<rect x="504.67" y="304.67" width="0.80" height="0.80" fill="#3048ff" opacity="0.78"/>
<rect x="502.07" y="322.44" width="0.80" height="0.80" fill="#3048ff" opacity="0.57"/>
<rect x="502.11" y="328.96" width="0.80" height="0.80" fill="#3048ff" opacity="0.59"/>
<rect x="504.10" y="312.51" width="0.80" height="0.80" fill="#3048ff" opacity="0.71"/>
<rect x="504.81" y="325.00" width="0.80" height="0.80" fill="#3048ff" opacity="0.68"/>
<rect x="504.09" y="303.64" width="0.80" height="0.80" fill="#3048ff" opacity="0.72"/>
<rect x="501.78" y="340.42" width="0.80" height="0.80" fill="#3048ff" opacity="0.69"/>
<rect x="503.82" y="310.70" width="0.80" height="0.80" fill="#3048ff" opacity="0.85"/>
<rect x="500.74" y="340.46" width="0.80" height="0.80" fill="#3048ff" opacity="0.77"/>
<rect x="502.76" y="336.05" width="0.80" height="0.80" fill="#3048ff" opacity="0.81"/>
<rect x="501.82" y="339.48" width="0.80" height="0.80" fill="#3048ff" opacity="0.97"/>
<rect x="503.32" y="339.42" width="0.80" height="0.80" fill="#3048ff" opacity="0.89"/>
<rect x="501.16" y="336.52" width="0.80" height="0.80" fill="#3048ff" opacity="0.76"/>
<rect x="503.48" y="314.80" width="0.80" height="0.80" fill="#3048ff" opacity="0.73"/>
<rect x="502.56" y="338.40" width="0.80" height="0.80" fill="#3048ff" opacity="0.93"/>
<rect x="504.01" y="319.86" width="0.80" height="0.80" fill="#3048ff" opacity="0.98"/>
<rect x="505.71" y="317.58" width="0.80" height="0.80" fill="#3048ff" opacity="0.90"/>
<rect x="504.23" y="316.18" width="0.80" height="0.80" fill="#3048ff" opacity="0.77"/>
<rect x="504.60" y="326.44" width="0.60" height="0.60" fill="#7080ff" opacity="0.6"/>
<rect x="503.28" y="310.21" width="0.60" height="0.60" fill="#7080ff" opacity="0.6"/>
<rect x="504.74" y="320.23" width="0.60" height="0.60" fill="#7080ff" opacity="0.6"/>
<rect x="507.03" y="304.47" width="0.60" height="0.60" fill="#7080ff" opacity="0.6"/>
<rect x="507.25" y="305.30" width="0.60" height="0.60" fill="#7080ff" opacity="0.6"/>
<rect x="503.02" y="328.68" width="0.60" height="0.60" fill="#7080ff" opacity="0.6"/>
<rect x="503.22" y="321.61" width="0.60" height="0.60" fill="#7080ff" opacity="0.6"/>
<rect x="506.15" y="323.86" width="0.60" height="0.60" fill="#7080ff" opacity="0.6"/>
<rect x="505.50" y="305.80" width="0.60" height="0.60" fill="#7080ff" opacity="0.6"/>
<rect x="502.07" y="309.50" width="0.60" height="0.60" fill="#7080ff" opacity="0.6"/>
<rect x="508.38" y="326.50" width="0.60" height="0.60" fill="#7080ff" opacity="0.6"/>
<rect x="504.32" y="334.21" width="0.60" height="0.60" fill="#7080ff" opacity="0.6"/>
<rect x="502.00" y="337.14" width="0.60" height="0.60" fill="#7080ff" opacity="0.6"/>
<rect x="508.32" y="306.65" width="0.60" height="0.60" fill="#7080ff" opacity="0.6"/>
<rect x="502.30" y="315.75" width="0.60" height="0.60" fill="#7080ff" opacity="0.6"/>
<rect x="503.02" y="328.69" width="0.60" height="0.60" fill="#7080ff" opacity="0.6"/>
<rect x="506.17" y="314.92" width="0.60" height="0.60" fill="#7080ff" opacity="0.6"/>
<rect x="505.07" y="323.45" width="0.60" height="0.60" fill="#7080ff" opacity="0.6"/>
<rect x="505.19" y="335.48" width="0.60" height="0.60" fill="#7080ff" opacity="0.6"/>
<rect x="506.69" y="304.64" width="0.60" height="0.60" fill="#7080ff" opacity="0.6"/>
<rect x="505.02" y="336.06" width="0.60" height="0.60" fill="#7080ff" opacity="0.6"/>
<rect x="503.20" y="313.27" width="0.60" height="0.60" fill="#7080ff" opacity="0.6"/>
<rect x="504.63" y="306.67" width="0.60" height="0.60" fill="#7080ff" opacity="0.6"/>
<rect x="504.23" y="313.72" width="0.60" height="0.60" fill="#7080ff" opacity="0.6"/>
<rect x="506.88" y="302.98" width="0.60" height="0.60" fill="#7080ff" opacity="0.6"/>
<rect x="502.41" y="318.50" width="0.60" height="0.60" fill="#7080ff" opacity="0.6"/>
<rect x="501.61" y="323.36" width="0.60" height="0.60" fill="#7080ff" opacity="0.6"/>
<rect x="507.57" y="317.70" width="0.60" height="0.60" fill="#7080ff" opacity="0.6"/>
<rect x="504.97" y="332.96" width="0.60" height="0.60" fill="#7080ff" opacity="0.6"/>
<rect x="504.23" y="321.85" width="0.60" height="0.60" fill="#7080ff" opacity="0.6"/>
<rect x="507.96" y="313.46" width="0.60" height="0.60" fill="#7080ff" opacity="0.6"/>
<rect x="504.71" y="313.64" width="0.60" height="0.60" fill="#7080ff" opacity="0.6"/>
<rect x="503.72" y="304.20" width="0.60" height="0.60" fill="#7080ff" opacity="0.6"/>
<rect x="506.01" y="312.16" width="0.60" height="0.60" fill="#7080ff" opacity="0.6"/>
<rect x="507.36" y="311.57" width="0.60" height="0.60" fill="#7080ff" opacity="0.6"/>
<rect x="505.75" y="331.32" width="0.60" height="0.60" fill="#7080ff" opacity="0.6"/>
<rect x="506.07" y="324.78" width="0.60" height="0.60" fill="#7080ff" opacity="0.6"/>
<rect x="505.84" y="303.64" width="0.60" height="0.60" fill="#7080ff" opacity="0.6"/>
<rect x="504.65" y="339.17" width="0.60" height="0.60" fill="#7080ff" opacity="0.6"/>
<rect x="507.58" y="313.41" width="0.60" height="0.60" fill="#7080ff" opacity="0.6"/>
<g filter="url(#blur2)">
<path d="M497.73,341.07 L497.13,338.29 L496.95,335.50 L496.90,332.71 L496.92,329.93 L497.00,327.14 L497.11,324.35 L497.28,321.57 L497.48,318.78 L497.72,316.00 L498.01,313.21 L498.35,310.42 L498.77,307.64 L499.31,304.85 L500.27,302.06 L501.42,302.06 L502.03,304.85 L502.20,307.64 L502.25,310.42 L502.23,313.21 L502.16,316.00 L502.04,318.78 L501.88,321.57 L501.67,324.35 L501.43,327.14 L501.14,329.93 L500.80,332.71 L500.38,335.50 L499.84,338.29 L498.88,341.07 Z" fill="#4060ff" stroke="none" stroke-width="1" opacity="0.85"/>
<path d="M498.00,339.60 L497.62,337.05 L497.54,334.50 L497.54,331.95 L497.60,329.40 L497.69,326.85 L497.81,324.30 L497.96,321.75 L498.14,319.20 L498.35,316.65 L498.59,314.10 L498.87,311.55 L499.20,309.00 L499.62,306.45 L500.33,303.90 L501.13,303.90 L501.51,306.45 L501.59,309.00 L501.59,311.55 L501.53,314.10 L501.44,316.65 L501.32,319.20 L501.16,321.75 L500.98,324.30 L500.77,326.85 L500.53,329.40 L500.26,331.95 L499.93,334.50 L499.51,337.05 L498.80,339.60 Z" fill="#2a90f0" stroke="none" stroke-width="1" opacity="1.0"/>
<path d="M498.28,337.39 L498.07,335.18 L498.05,332.98 L498.09,330.77 L498.16,328.56 L498.25,326.35 L498.37,324.14 L498.50,321.94 L498.66,319.73 L498.83,317.52 L499.02,315.31 L499.24,313.10 L499.49,310.90 L499.80,308.69 L500.30,306.48 L500.82,306.48 L501.04,308.69 L501.06,310.90 L501.02,313.10 L500.95,315.31 L500.85,317.52 L500.74,319.73 L500.60,321.94 L500.45,324.14 L500.28,326.35 L500.08,328.56 L499.87,330.77 L499.62,332.98 L499.31,335.18 L498.81,337.39 Z" fill="#30c8b0" stroke="none" stroke-width="1" opacity="1.0"/>
<path d="M498.63,333.71 L498.53,331.98 L498.55,330.24 L498.60,328.51 L498.67,326.77 L498.75,325.04 L498.85,323.30 L498.96,321.57 L499.07,319.83 L499.20,318.10 L499.35,316.36 L499.50,314.63 L499.68,312.89 L499.89,311.16 L500.21,309.42 L500.52,309.42 L500.62,311.16 L500.60,312.89 L500.55,314.63 L500.48,316.36 L500.40,318.10 L500.30,319.83 L500.20,321.57 L500.08,323.30 L499.95,325.04 L499.81,326.77 L499.65,328.51 L499.47,330.24 L499.26,331.98 L498.94,333.71 Z" fill="#90d840" stroke="none" stroke-width="1" opacity="1.0"/>
<path d="M499.15,327.09 L499.10,326.30 L499.11,325.51 L499.13,324.72 L499.16,323.93 L499.20,323.15 L499.25,322.36 L499.30,321.57 L499.35,320.78 L499.41,319.99 L499.47,319.20 L499.54,318.41 L499.62,317.63 L499.72,316.84 L499.87,316.05 L500.01,316.05 L500.05,316.84 L500.04,317.63 L500.02,318.41 L499.99,319.20 L499.95,319.99 L499.90,320.78 L499.86,321.57 L499.80,322.36 L499.74,323.15 L499.68,323.93 L499.61,324.72 L499.53,325.51 L499.43,326.30 L499.29,327.09 Z" fill="#e08030" stroke="none" stroke-width="1" opacity="1.0"/>
</g>
<rect x="496.73" y="315.08" width="0.70" height="0.70" fill="#3d5cff" opacity="0.8"/>
<rect x="502.11" y="311.84" width="0.70" height="0.70" fill="#3d5cff" opacity="0.8"/>
<rect x="498.18" y="304.66" width="0.70" height="0.70" fill="#3d5cff" opacity="0.8"/>
<rect x="502.61" y="308.90" width="0.70" height="0.70" fill="#3d5cff" opacity="0.8"/>
<rect x="497.56" y="311.23" width="0.70" height="0.70" fill="#3d5cff" opacity="0.8"/>
<rect x="500.27" y="341.25" width="0.70" height="0.70" fill="#3d5cff" opacity="0.8"/>
<rect x="497.36" y="321.93" width="0.70" height="0.70" fill="#3d5cff" opacity="0.8"/>
<rect x="498.84" y="302.16" width="0.70" height="0.70" fill="#3d5cff" opacity="0.8"/>
<rect x="501.91" y="327.31" width="0.70" height="0.70" fill="#3d5cff" opacity="0.8"/>
<rect x="500.54" y="338.93" width="0.70" height="0.70" fill="#3d5cff" opacity="0.8"/>
<rect x="503.61" y="303.86" width="0.70" height="0.70" fill="#3d5cff" opacity="0.8"/>
<rect x="497.39" y="322.82" width="0.70" height="0.70" fill="#3d5cff" opacity="0.8"/>
<rect x="502.13" y="316.57" width="0.70" height="0.70" fill="#3d5cff" opacity="0.8"/>
<rect x="502.97" y="309.60" width="0.70" height="0.70" fill="#3d5cff" opacity="0.8"/>
<rect x="496.55" y="331.18" width="0.70" height="0.70" fill="#3d5cff" opacity="0.8"/>
<rect x="502.82" y="301.11" width="0.70" height="0.70" fill="#3d5cff" opacity="0.8"/>
<rect x="502.04" y="335.24" width="0.70" height="0.70" fill="#3d5cff" opacity="0.8"/>
<rect x="501.63" y="326.65" width="0.70" height="0.70" fill="#3d5cff" opacity="0.8"/>
<rect x="497.60" y="318.58" width="0.70" height="0.70" fill="#3d5cff" opacity="0.8"/>
<rect x="502.13" y="315.12" width="0.70" height="0.70" fill="#3d5cff" opacity="0.8"/>
<rect x="502.85" y="313.46" width="0.70" height="0.70" fill="#3d5cff" opacity="0.8"/>
<rect x="501.45" y="329.19" width="0.70" height="0.70" fill="#3d5cff" opacity="0.8"/>
<rect x="503.11" y="314.94" width="0.70" height="0.70" fill="#3d5cff" opacity="0.8"/>
<rect x="497.67" y="320.85" width="0.70" height="0.70" fill="#3d5cff" opacity="0.8"/>
<rect x="497.29" y="325.64" width="0.70" height="0.70" fill="#3d5cff" opacity="0.8"/>
<rect x="496.53" y="329.03" width="0.70" height="0.70" fill="#3d5cff" opacity="0.8"/>
<rect x="498.67" y="302.86" width="0.70" height="0.70" fill="#3d5cff" opacity="0.8"/>
<rect x="500.50" y="337.03" width="0.70" height="0.70" fill="#3d5cff" opacity="0.8"/>
<rect x="498.56" y="306.65" width="0.70" height="0.70" fill="#3d5cff" opacity="0.8"/>
<rect x="497.48" y="322.94" width="0.70" height="0.70" fill="#3d5cff" opacity="0.8"/>
<rect x="501.71" y="321.30" width="0.70" height="0.70" fill="#3d5cff" opacity="0.8"/>
<rect x="498.25" y="312.29" width="0.70" height="0.70" fill="#3d5cff" opacity="0.8"/>
<rect x="503.11" y="303.67" width="0.70" height="0.70" fill="#3d5cff" opacity="0.8"/>
<rect x="502.38" y="322.47" width="0.70" height="0.70" fill="#3d5cff" opacity="0.8"/>
<rect x="496.92" y="334.04" width="0.70" height="0.70" fill="#3d5cff" opacity="0.8"/>
<rect x="502.56" y="308.61" width="0.70" height="0.70" fill="#3d5cff" opacity="0.8"/>
<rect x="501.34" y="325.27" width="0.70" height="0.70" fill="#3d5cff" opacity="0.8"/>
<rect x="502.57" y="317.32" width="0.70" height="0.70" fill="#3d5cff" opacity="0.8"/>
<rect x="502.82" y="311.30" width="0.70" height="0.70" fill="#3d5cff" opacity="0.8"/>
<rect x="500.54" y="338.64" width="0.70" height="0.70" fill="#3d5cff" opacity="0.8"/>
<text x="508.80" y="337.00" font-size="6.8" font-weight="bold" textLength="25.30" lengthAdjust="spacingAndGlyphs" fill="#111">ABCG2+</text>
<text x="508.80" y="344.70" font-size="6.8" font-weight="bold" textLength="12.50" lengthAdjust="spacingAndGlyphs" fill="#111">4.21</text>
<rect x="416.10" y="368.50" width="51.10" height="59.60" fill="#fff" stroke="#777" stroke-width="0.5"/>
<line x1="414.90" y1="417.30" x2="416.10" y2="417.30" stroke="#777" stroke-width="0.4"/>
<rect x="409.60" y="416.90" width="4.00" height="0.80" fill="#bbb"/>
<line x1="414.90" y1="405.50" x2="416.10" y2="405.50" stroke="#777" stroke-width="0.4"/>
<rect x="409.60" y="405.10" width="4.00" height="0.80" fill="#bbb"/>
<line x1="414.90" y1="393.70" x2="416.10" y2="393.70" stroke="#777" stroke-width="0.4"/>
<rect x="409.60" y="393.30" width="4.00" height="0.80" fill="#bbb"/>
<line x1="414.90" y1="381.90" x2="416.10" y2="381.90" stroke="#777" stroke-width="0.4"/>
<rect x="409.60" y="381.50" width="4.00" height="0.80" fill="#bbb"/>
<line x1="414.90" y1="370.10" x2="416.10" y2="370.10" stroke="#777" stroke-width="0.4"/>
<rect x="409.60" y="369.70" width="4.00" height="0.80" fill="#bbb"/>
<line x1="420.10" y1="428.10" x2="420.10" y2="429.10" stroke="#777" stroke-width="0.4"/>
<rect x="418.90" y="430.30" width="2.40" height="0.70" fill="#bbb"/>
<line x1="428.72" y1="428.10" x2="428.72" y2="429.10" stroke="#777" stroke-width="0.4"/>
<rect x="427.52" y="430.30" width="2.40" height="0.70" fill="#bbb"/>
<line x1="437.34" y1="428.10" x2="437.34" y2="429.10" stroke="#777" stroke-width="0.4"/>
<rect x="436.14" y="430.30" width="2.40" height="0.70" fill="#bbb"/>
<line x1="445.96" y1="428.10" x2="445.96" y2="429.10" stroke="#777" stroke-width="0.4"/>
<rect x="444.76" y="430.30" width="2.40" height="0.70" fill="#bbb"/>
<line x1="454.58" y1="428.10" x2="454.58" y2="429.10" stroke="#777" stroke-width="0.4"/>
<rect x="453.38" y="430.30" width="2.40" height="0.70" fill="#bbb"/>
<line x1="463.20" y1="428.10" x2="463.20" y2="429.10" stroke="#777" stroke-width="0.4"/>
<rect x="462.00" y="430.30" width="2.40" height="0.70" fill="#bbb"/>
<rect x="432.80" y="378.40" width="33.90" height="46.00" fill="none" stroke="#555" stroke-width="0.5"/>
<rect x="432.97" y="413.43" width="0.80" height="0.80" fill="#3048ff" opacity="0.82"/>
<rect x="437.50" y="398.72" width="0.80" height="0.80" fill="#3048ff" opacity="0.58"/>
<rect x="433.35" y="418.79" width="0.80" height="0.80" fill="#3048ff" opacity="0.66"/>
<rect x="441.39" y="381.12" width="0.80" height="0.80" fill="#3048ff" opacity="0.76"/>
<rect x="438.43" y="389.04" width="0.80" height="0.80" fill="#3048ff" opacity="0.62"/>
<rect x="438.22" y="398.32" width="0.80" height="0.80" fill="#3048ff" opacity="0.94"/>
<rect x="436.66" y="403.05" width="0.80" height="0.80" fill="#3048ff" opacity="0.58"/>
<rect x="437.40" y="392.75" width="0.80" height="0.80" fill="#3048ff" opacity="0.82"/>
<rect x="437.24" y="411.38" width="0.80" height="0.80" fill="#3048ff" opacity="0.76"/>
<rect x="439.39" y="394.57" width="0.80" height="0.80" fill="#3048ff" opacity="0.95"/>
<rect x="439.98" y="394.78" width="0.80" height="0.80" fill="#3048ff" opacity="0.91"/>
<rect x="435.36" y="406.18" width="0.80" height="0.80" fill="#3048ff" opacity="0.97"/>
<rect x="441.36" y="386.98" width="0.80" height="0.80" fill="#3048ff" opacity="0.65"/>
<rect x="442.26" y="382.66" width="0.80" height="0.80" fill="#3048ff" opacity="0.75"/>
<rect x="437.37" y="398.68" width="0.80" height="0.80" fill="#3048ff" opacity="0.72"/>
<rect x="436.58" y="409.66" width="0.80" height="0.80" fill="#3048ff" opacity="0.81"/>
<rect x="439.02" y="400.51" width="0.80" height="0.80" fill="#3048ff" opacity="0.97"/>
<rect x="439.39" y="388.08" width="0.80" height="0.80" fill="#3048ff" opacity="1.00"/>
<rect x="439.69" y="396.71" width="0.80" height="0.80" fill="#3048ff" opacity="0.98"/>
<rect x="443.30" y="385.71" width="0.80" height="0.80" fill="#3048ff" opacity="0.81"/>
<rect x="439.42" y="394.79" width="0.80" height="0.80" fill="#3048ff" opacity="0.81"/>
<rect x="436.93" y="411.92" width="0.80" height="0.80" fill="#3048ff" opacity="0.58"/>
<rect x="441.03" y="388.19" width="0.80" height="0.80" fill="#3048ff" opacity="0.91"/>
<rect x="435.62" y="407.48" width="0.80" height="0.80" fill="#3048ff" opacity="0.62"/>
<rect x="434.93" y="411.62" width="0.80" height="0.80" fill="#3048ff" opacity="0.57"/>
<rect x="435.10" y="399.21" width="0.80" height="0.80" fill="#3048ff" opacity="0.57"/>
<rect x="437.57" y="394.58" width="0.80" height="0.80" fill="#3048ff" opacity="0.99"/>
<rect x="438.92" y="403.77" width="0.80" height="0.80" fill="#3048ff" opacity="1.00"/>
<rect x="436.31" y="411.09" width="0.80" height="0.80" fill="#3048ff" opacity="0.56"/>
<rect x="434.68" y="414.65" width="0.80" height="0.80" fill="#3048ff" opacity="0.73"/>
<rect x="437.89" y="399.38" width="0.80" height="0.80" fill="#3048ff" opacity="0.94"/>
<rect x="435.11" y="410.95" width="0.80" height="0.80" fill="#3048ff" opacity="0.98"/>
<rect x="439.96" y="386.10" width="0.80" height="0.80" fill="#3048ff" opacity="0.78"/>
<rect x="439.05" y="397.93" width="0.80" height="0.80" fill="#3048ff" opacity="0.82"/>
<rect x="434.88" y="401.56" width="0.80" height="0.80" fill="#3048ff" opacity="0.78"/>
<rect x="433.73" y="406.69" width="0.80" height="0.80" fill="#3048ff" opacity="0.87"/>
<rect x="433.03" y="413.44" width="0.80" height="0.80" fill="#3048ff" opacity="0.78"/>
<rect x="440.43" y="402.01" width="0.80" height="0.80" fill="#3048ff" opacity="0.56"/>
<rect x="435.47" y="407.30" width="0.80" height="0.80" fill="#3048ff" opacity="0.83"/>
<rect x="437.79" y="398.44" width="0.80" height="0.80" fill="#3048ff" opacity="0.58"/>
<rect x="435.95" y="398.65" width="0.80" height="0.80" fill="#3048ff" opacity="0.71"/>
<rect x="439.16" y="395.11" width="0.80" height="0.80" fill="#3048ff" opacity="0.88"/>
<rect x="434.67" y="418.68" width="0.80" height="0.80" fill="#3048ff" opacity="0.98"/>
<rect x="435.00" y="413.02" width="0.80" height="0.80" fill="#3048ff" opacity="0.76"/>
<rect x="436.96" y="400.15" width="0.80" height="0.80" fill="#3048ff" opacity="0.69"/>
<rect x="436.39" y="409.00" width="0.80" height="0.80" fill="#3048ff" opacity="0.82"/>
<rect x="433.07" y="411.41" width="0.80" height="0.80" fill="#3048ff" opacity="0.56"/>
<rect x="438.80" y="401.14" width="0.80" height="0.80" fill="#3048ff" opacity="0.88"/>
<rect x="435.16" y="411.08" width="0.80" height="0.80" fill="#3048ff" opacity="0.66"/>
<rect x="436.10" y="414.94" width="0.80" height="0.80" fill="#3048ff" opacity="0.75"/>
<rect x="439.57" y="395.51" width="0.80" height="0.80" fill="#3048ff" opacity="0.70"/>
<rect x="440.91" y="389.18" width="0.80" height="0.80" fill="#3048ff" opacity="0.75"/>
<rect x="441.07" y="388.12" width="0.80" height="0.80" fill="#3048ff" opacity="0.84"/>
<rect x="441.88" y="386.68" width="0.80" height="0.80" fill="#3048ff" opacity="0.75"/>
<rect x="435.23" y="413.83" width="0.80" height="0.80" fill="#3048ff" opacity="0.64"/>
<rect x="441.01" y="390.46" width="0.80" height="0.80" fill="#3048ff" opacity="0.93"/>
<rect x="433.34" y="415.05" width="0.80" height="0.80" fill="#3048ff" opacity="0.84"/>
<rect x="442.22" y="390.49" width="0.80" height="0.80" fill="#3048ff" opacity="0.71"/>
<rect x="432.80" y="416.49" width="0.80" height="0.80" fill="#3048ff" opacity="0.67"/>
<rect x="437.30" y="409.82" width="0.80" height="0.80" fill="#3048ff" opacity="0.74"/>
<rect x="433.28" y="407.13" width="0.80" height="0.80" fill="#3048ff" opacity="0.62"/>
<rect x="434.38" y="418.87" width="0.80" height="0.80" fill="#3048ff" opacity="0.97"/>
<rect x="442.18" y="386.92" width="0.80" height="0.80" fill="#3048ff" opacity="0.98"/>
<rect x="441.27" y="384.58" width="0.80" height="0.80" fill="#3048ff" opacity="0.65"/>
<rect x="440.18" y="393.34" width="0.80" height="0.80" fill="#3048ff" opacity="0.78"/>
<rect x="432.94" y="411.79" width="0.80" height="0.80" fill="#3048ff" opacity="0.70"/>
<rect x="435.66" y="413.75" width="0.80" height="0.80" fill="#3048ff" opacity="0.68"/>
<rect x="440.67" y="390.30" width="0.80" height="0.80" fill="#3048ff" opacity="0.57"/>
<rect x="440.06" y="385.76" width="0.80" height="0.80" fill="#3048ff" opacity="0.95"/>
<rect x="438.27" y="385.95" width="0.80" height="0.80" fill="#3048ff" opacity="0.81"/>
<rect x="432.80" y="418.79" width="0.80" height="0.80" fill="#3048ff" opacity="0.68"/>
<rect x="437.46" y="397.09" width="0.80" height="0.80" fill="#3048ff" opacity="0.79"/>
<rect x="437.35" y="407.36" width="0.80" height="0.80" fill="#3048ff" opacity="0.70"/>
<rect x="433.61" y="412.97" width="0.80" height="0.80" fill="#3048ff" opacity="0.94"/>
<rect x="436.54" y="404.90" width="0.80" height="0.80" fill="#3048ff" opacity="0.64"/>
<rect x="435.69" y="402.58" width="0.80" height="0.80" fill="#3048ff" opacity="0.92"/>
<rect x="434.44" y="415.39" width="0.80" height="0.80" fill="#3048ff" opacity="0.91"/>
<rect x="437.27" y="389.66" width="0.80" height="0.80" fill="#3048ff" opacity="0.55"/>
<rect x="438.15" y="398.60" width="0.80" height="0.80" fill="#3048ff" opacity="0.67"/>
<rect x="434.09" y="412.46" width="0.80" height="0.80" fill="#3048ff" opacity="0.79"/>
<rect x="433.56" y="407.01" width="0.80" height="0.80" fill="#3048ff" opacity="0.55"/>
<rect x="433.37" y="418.15" width="0.80" height="0.80" fill="#3048ff" opacity="0.61"/>
<rect x="436.58" y="416.62" width="0.80" height="0.80" fill="#3048ff" opacity="0.93"/>
<rect x="434.62" y="417.51" width="0.80" height="0.80" fill="#3048ff" opacity="0.78"/>
<rect x="434.33" y="410.88" width="0.80" height="0.80" fill="#3048ff" opacity="0.84"/>
<rect x="438.54" y="400.40" width="0.80" height="0.80" fill="#3048ff" opacity="0.71"/>
<rect x="433.50" y="414.83" width="0.80" height="0.80" fill="#3048ff" opacity="0.80"/>
<rect x="439.44" y="394.69" width="0.80" height="0.80" fill="#3048ff" opacity="0.72"/>
<rect x="433.66" y="417.65" width="0.80" height="0.80" fill="#3048ff" opacity="0.82"/>
<rect x="440.76" y="391.61" width="0.80" height="0.80" fill="#3048ff" opacity="0.72"/>
<rect x="438.85" y="390.73" width="0.80" height="0.80" fill="#3048ff" opacity="0.72"/>
<rect x="435.52" y="404.15" width="0.80" height="0.80" fill="#3048ff" opacity="0.87"/>
<rect x="435.25" y="407.10" width="0.80" height="0.80" fill="#3048ff" opacity="0.66"/>
<rect x="435.53" y="402.53" width="0.80" height="0.80" fill="#3048ff" opacity="0.86"/>
<rect x="431.85" y="417.82" width="0.80" height="0.80" fill="#3048ff" opacity="0.95"/>
<rect x="442.12" y="384.12" width="0.80" height="0.80" fill="#3048ff" opacity="0.72"/>
<rect x="441.27" y="386.04" width="0.80" height="0.80" fill="#3048ff" opacity="0.76"/>
<rect x="432.38" y="416.65" width="0.80" height="0.80" fill="#3048ff" opacity="0.92"/>
<rect x="440.00" y="397.11" width="0.80" height="0.80" fill="#3048ff" opacity="0.85"/>
<rect x="437.56" y="393.88" width="0.80" height="0.80" fill="#3048ff" opacity="0.80"/>
<rect x="433.13" y="417.13" width="0.80" height="0.80" fill="#3048ff" opacity="0.61"/>
<rect x="439.46" y="392.00" width="0.80" height="0.80" fill="#3048ff" opacity="0.57"/>
<rect x="435.35" y="417.39" width="0.80" height="0.80" fill="#3048ff" opacity="0.63"/>
<rect x="434.43" y="418.66" width="0.80" height="0.80" fill="#3048ff" opacity="0.93"/>
<rect x="434.43" y="416.70" width="0.80" height="0.80" fill="#3048ff" opacity="0.93"/>
<rect x="440.08" y="383.32" width="0.80" height="0.80" fill="#3048ff" opacity="0.81"/>
<rect x="441.98" y="390.84" width="0.80" height="0.80" fill="#3048ff" opacity="0.78"/>
<rect x="439.34" y="394.73" width="0.80" height="0.80" fill="#3048ff" opacity="0.60"/>
<rect x="439.65" y="393.18" width="0.80" height="0.80" fill="#3048ff" opacity="0.70"/>
<rect x="437.00" y="401.36" width="0.80" height="0.80" fill="#3048ff" opacity="0.92"/>
<rect x="434.62" y="413.30" width="0.80" height="0.80" fill="#3048ff" opacity="0.83"/>
<rect x="440.18" y="392.97" width="0.80" height="0.80" fill="#3048ff" opacity="0.73"/>
<rect x="434.30" y="409.06" width="0.80" height="0.80" fill="#3048ff" opacity="0.74"/>
<rect x="433.86" y="417.57" width="0.80" height="0.80" fill="#3048ff" opacity="0.78"/>
<rect x="440.11" y="382.28" width="0.80" height="0.80" fill="#3048ff" opacity="0.62"/>
<rect x="439.69" y="395.84" width="0.80" height="0.80" fill="#3048ff" opacity="0.89"/>
<rect x="436.89" y="396.60" width="0.80" height="0.80" fill="#3048ff" opacity="0.84"/>
<rect x="440.85" y="386.07" width="0.80" height="0.80" fill="#3048ff" opacity="0.62"/>
<rect x="433.17" y="417.30" width="0.80" height="0.80" fill="#3048ff" opacity="0.78"/>
<rect x="433.07" y="406.24" width="0.80" height="0.80" fill="#3048ff" opacity="0.87"/>
<rect x="433.69" y="414.97" width="0.80" height="0.80" fill="#3048ff" opacity="0.81"/>
<rect x="435.66" y="410.92" width="0.80" height="0.80" fill="#3048ff" opacity="0.65"/>
<rect x="439.61" y="395.82" width="0.80" height="0.80" fill="#3048ff" opacity="0.87"/>
<rect x="435.37" y="407.38" width="0.80" height="0.80" fill="#3048ff" opacity="0.93"/>
<rect x="437.30" y="400.49" width="0.80" height="0.80" fill="#3048ff" opacity="0.56"/>
<rect x="437.23" y="404.81" width="0.80" height="0.80" fill="#3048ff" opacity="0.72"/>
<rect x="432.95" y="415.36" width="0.80" height="0.80" fill="#3048ff" opacity="0.90"/>
<rect x="434.37" y="416.13" width="0.80" height="0.80" fill="#3048ff" opacity="1.00"/>
<rect x="435.14" y="404.81" width="0.80" height="0.80" fill="#3048ff" opacity="0.93"/>
<rect x="439.24" y="389.75" width="0.80" height="0.80" fill="#3048ff" opacity="0.80"/>
<rect x="435.87" y="404.74" width="0.80" height="0.80" fill="#3048ff" opacity="0.73"/>
<rect x="436.53" y="393.89" width="0.80" height="0.80" fill="#3048ff" opacity="0.98"/>
<rect x="436.32" y="405.29" width="0.80" height="0.80" fill="#3048ff" opacity="0.87"/>
<rect x="439.34" y="396.53" width="0.80" height="0.80" fill="#3048ff" opacity="0.98"/>
<rect x="440.52" y="388.20" width="0.80" height="0.80" fill="#3048ff" opacity="0.67"/>
<rect x="434.63" y="414.94" width="0.80" height="0.80" fill="#3048ff" opacity="0.87"/>
<rect x="441.34" y="387.97" width="0.80" height="0.80" fill="#3048ff" opacity="0.94"/>
<rect x="434.20" y="410.96" width="0.80" height="0.80" fill="#3048ff" opacity="0.74"/>
<rect x="439.49" y="394.10" width="0.80" height="0.80" fill="#3048ff" opacity="0.93"/>
<rect x="434.90" y="411.70" width="0.80" height="0.80" fill="#3048ff" opacity="0.71"/>
<rect x="437.29" y="400.67" width="0.80" height="0.80" fill="#3048ff" opacity="0.70"/>
<rect x="435.76" y="406.50" width="0.80" height="0.80" fill="#3048ff" opacity="0.77"/>
<rect x="431.17" y="414.28" width="0.80" height="0.80" fill="#3048ff" opacity="0.73"/>
<rect x="435.33" y="402.18" width="0.80" height="0.80" fill="#3048ff" opacity="0.60"/>
<rect x="434.14" y="412.26" width="0.80" height="0.80" fill="#3048ff" opacity="0.95"/>
<rect x="440.60" y="385.50" width="0.80" height="0.80" fill="#3048ff" opacity="0.59"/>
<rect x="439.98" y="383.88" width="0.80" height="0.80" fill="#3048ff" opacity="0.89"/>
<rect x="436.22" y="411.57" width="0.80" height="0.80" fill="#3048ff" opacity="0.85"/>
<rect x="438.51" y="397.48" width="0.80" height="0.80" fill="#3048ff" opacity="0.89"/>
<rect x="440.85" y="382.87" width="0.80" height="0.80" fill="#3048ff" opacity="0.85"/>
<rect x="438.04" y="402.52" width="0.80" height="0.80" fill="#3048ff" opacity="0.71"/>
<rect x="439.87" y="394.60" width="0.80" height="0.80" fill="#3048ff" opacity="0.86"/>
<rect x="437.99" y="401.26" width="0.80" height="0.80" fill="#3048ff" opacity="0.83"/>
<rect x="435.44" y="415.17" width="0.80" height="0.80" fill="#3048ff" opacity="0.95"/>
<rect x="440.33" y="397.42" width="0.80" height="0.80" fill="#3048ff" opacity="0.61"/>
<rect x="437.05" y="410.34" width="0.80" height="0.80" fill="#3048ff" opacity="0.87"/>
<rect x="435.77" y="399.94" width="0.80" height="0.80" fill="#3048ff" opacity="0.76"/>
<rect x="434.14" y="411.00" width="0.80" height="0.80" fill="#3048ff" opacity="0.63"/>
<rect x="432.59" y="417.88" width="0.80" height="0.80" fill="#3048ff" opacity="0.79"/>
<rect x="436.99" y="393.61" width="0.80" height="0.80" fill="#3048ff" opacity="0.71"/>
<rect x="432.43" y="412.55" width="0.80" height="0.80" fill="#3048ff" opacity="0.57"/>
<rect x="438.34" y="403.80" width="0.80" height="0.80" fill="#3048ff" opacity="0.66"/>
<rect x="438.75" y="392.25" width="0.80" height="0.80" fill="#3048ff" opacity="0.73"/>
<rect x="437.88" y="402.30" width="0.80" height="0.80" fill="#3048ff" opacity="0.90"/>
<rect x="435.49" y="409.59" width="0.80" height="0.80" fill="#3048ff" opacity="0.67"/>
<rect x="432.70" y="417.21" width="0.80" height="0.80" fill="#3048ff" opacity="0.60"/>
<rect x="439.46" y="391.78" width="0.80" height="0.80" fill="#3048ff" opacity="0.64"/>
<rect x="434.89" y="407.25" width="0.80" height="0.80" fill="#3048ff" opacity="0.88"/>
<rect x="440.00" y="390.03" width="0.80" height="0.80" fill="#3048ff" opacity="0.62"/>
<rect x="433.80" y="407.93" width="0.80" height="0.80" fill="#3048ff" opacity="0.64"/>
<rect x="436.01" y="402.87" width="0.80" height="0.80" fill="#3048ff" opacity="0.66"/>
<rect x="439.25" y="391.65" width="0.80" height="0.80" fill="#3048ff" opacity="0.56"/>
<rect x="442.33" y="390.63" width="0.80" height="0.80" fill="#3048ff" opacity="0.72"/>
<rect x="435.06" y="401.84" width="0.80" height="0.80" fill="#3048ff" opacity="0.81"/>
<rect x="439.89" y="398.38" width="0.80" height="0.80" fill="#3048ff" opacity="0.68"/>
<rect x="440.26" y="387.90" width="0.80" height="0.80" fill="#3048ff" opacity="0.77"/>
<rect x="437.57" y="399.77" width="0.80" height="0.80" fill="#3048ff" opacity="0.90"/>
<rect x="438.15" y="397.13" width="0.80" height="0.80" fill="#3048ff" opacity="0.77"/>
<rect x="435.94" y="403.03" width="0.80" height="0.80" fill="#3048ff" opacity="0.79"/>
<rect x="433.12" y="418.46" width="0.80" height="0.80" fill="#3048ff" opacity="0.78"/>
<rect x="436.49" y="397.84" width="0.80" height="0.80" fill="#3048ff" opacity="0.98"/>
<rect x="441.52" y="386.33" width="0.80" height="0.80" fill="#3048ff" opacity="0.61"/>
<rect x="439.44" y="391.15" width="0.80" height="0.80" fill="#3048ff" opacity="0.71"/>
<rect x="433.84" y="413.57" width="0.80" height="0.80" fill="#3048ff" opacity="0.59"/>
<rect x="437.96" y="402.41" width="0.80" height="0.80" fill="#3048ff" opacity="0.94"/>
<rect x="438.12" y="395.66" width="0.80" height="0.80" fill="#3048ff" opacity="0.61"/>
<rect x="438.14" y="387.98" width="0.80" height="0.80" fill="#3048ff" opacity="0.87"/>
<rect x="437.36" y="393.61" width="0.80" height="0.80" fill="#3048ff" opacity="0.70"/>
<rect x="442.26" y="390.47" width="0.80" height="0.80" fill="#3048ff" opacity="0.75"/>
<rect x="438.25" y="392.81" width="0.80" height="0.80" fill="#3048ff" opacity="0.77"/>
<rect x="433.78" y="416.99" width="0.80" height="0.80" fill="#3048ff" opacity="0.64"/>
<rect x="433.74" y="415.68" width="0.80" height="0.80" fill="#3048ff" opacity="0.77"/>
<rect x="437.34" y="395.45" width="0.80" height="0.80" fill="#3048ff" opacity="0.84"/>
<rect x="434.39" y="411.26" width="0.80" height="0.80" fill="#3048ff" opacity="0.76"/>
<rect x="438.66" y="392.80" width="0.80" height="0.80" fill="#3048ff" opacity="0.95"/>
<rect x="439.37" y="394.53" width="0.80" height="0.80" fill="#3048ff" opacity="0.72"/>
<rect x="433.57" y="408.94" width="0.80" height="0.80" fill="#3048ff" opacity="0.65"/>
<rect x="432.48" y="418.89" width="0.80" height="0.80" fill="#3048ff" opacity="0.64"/>
<rect x="440.53" y="391.58" width="0.80" height="0.80" fill="#3048ff" opacity="0.64"/>
<rect x="435.08" y="414.30" width="0.80" height="0.80" fill="#3048ff" opacity="0.63"/>
<rect x="435.74" y="407.73" width="0.80" height="0.80" fill="#3048ff" opacity="0.60"/>
<rect x="433.92" y="415.47" width="0.80" height="0.80" fill="#3048ff" opacity="0.77"/>
<rect x="434.41" y="418.05" width="0.80" height="0.80" fill="#3048ff" opacity="0.73"/>
<rect x="438.91" y="395.27" width="0.80" height="0.80" fill="#3048ff" opacity="0.57"/>
<rect x="435.35" y="407.75" width="0.80" height="0.80" fill="#3048ff" opacity="0.98"/>
<rect x="434.20" y="414.01" width="0.80" height="0.80" fill="#3048ff" opacity="0.59"/>
<rect x="437.20" y="405.01" width="0.80" height="0.80" fill="#3048ff" opacity="0.71"/>
<rect x="434.93" y="416.63" width="0.80" height="0.80" fill="#3048ff" opacity="0.57"/>
<rect x="438.63" y="394.16" width="0.80" height="0.80" fill="#3048ff" opacity="0.76"/>
<rect x="443.71" y="384.30" width="0.80" height="0.80" fill="#3048ff" opacity="0.69"/>
<rect x="434.02" y="413.05" width="0.80" height="0.80" fill="#3048ff" opacity="0.83"/>
<rect x="437.43" y="409.88" width="0.80" height="0.80" fill="#3048ff" opacity="0.59"/>
<rect x="440.18" y="396.22" width="0.80" height="0.80" fill="#3048ff" opacity="0.55"/>
<rect x="432.55" y="418.56" width="0.80" height="0.80" fill="#3048ff" opacity="0.59"/>
<rect x="434.09" y="415.42" width="0.80" height="0.80" fill="#3048ff" opacity="0.84"/>
<rect x="441.14" y="385.92" width="0.80" height="0.80" fill="#3048ff" opacity="0.64"/>
<rect x="439.65" y="382.24" width="0.80" height="0.80" fill="#3048ff" opacity="0.96"/>
<rect x="441.88" y="383.94" width="0.80" height="0.80" fill="#3048ff" opacity="0.57"/>
<rect x="432.25" y="411.26" width="0.80" height="0.80" fill="#3048ff" opacity="0.59"/>
<rect x="432.66" y="411.64" width="0.80" height="0.80" fill="#3048ff" opacity="0.93"/>
<rect x="432.41" y="416.86" width="0.80" height="0.80" fill="#3048ff" opacity="0.86"/>
<rect x="442.14" y="384.52" width="0.80" height="0.80" fill="#3048ff" opacity="0.63"/>
<rect x="438.88" y="393.60" width="0.80" height="0.80" fill="#3048ff" opacity="0.80"/>
<rect x="438.87" y="384.77" width="0.80" height="0.80" fill="#3048ff" opacity="0.71"/>
<rect x="435.99" y="407.32" width="0.80" height="0.80" fill="#3048ff" opacity="0.77"/>
<rect x="436.66" y="412.43" width="0.80" height="0.80" fill="#3048ff" opacity="0.63"/>
<rect x="437.29" y="394.48" width="0.80" height="0.80" fill="#3048ff" opacity="0.72"/>
<rect x="435.14" y="404.51" width="0.80" height="0.80" fill="#3048ff" opacity="0.62"/>
<rect x="440.23" y="394.94" width="0.80" height="0.80" fill="#3048ff" opacity="0.89"/>
<rect x="438.62" y="396.44" width="0.80" height="0.80" fill="#3048ff" opacity="0.59"/>
<rect x="435.20" y="413.45" width="0.80" height="0.80" fill="#3048ff" opacity="0.95"/>
<rect x="439.15" y="387.30" width="0.80" height="0.80" fill="#3048ff" opacity="0.75"/>
<rect x="440.88" y="386.09" width="0.80" height="0.80" fill="#3048ff" opacity="0.72"/>
<rect x="431.91" y="417.81" width="0.80" height="0.80" fill="#3048ff" opacity="0.73"/>
<rect x="443.07" y="383.16" width="0.80" height="0.80" fill="#3048ff" opacity="0.60"/>
<rect x="434.15" y="417.63" width="0.80" height="0.80" fill="#3048ff" opacity="0.84"/>
<rect x="434.90" y="413.34" width="0.80" height="0.80" fill="#3048ff" opacity="0.84"/>
<rect x="437.64" y="400.45" width="0.80" height="0.80" fill="#3048ff" opacity="0.56"/>
<rect x="435.00" y="413.68" width="0.80" height="0.80" fill="#3048ff" opacity="0.80"/>
<rect x="435.55" y="407.13" width="0.80" height="0.80" fill="#3048ff" opacity="0.90"/>
<rect x="438.00" y="399.65" width="0.80" height="0.80" fill="#3048ff" opacity="0.63"/>
<rect x="432.16" y="415.21" width="0.80" height="0.80" fill="#3048ff" opacity="0.59"/>
<rect x="440.35" y="389.57" width="0.80" height="0.80" fill="#3048ff" opacity="0.98"/>
<rect x="434.06" y="414.59" width="0.80" height="0.80" fill="#3048ff" opacity="0.95"/>
<rect x="432.24" y="417.52" width="0.80" height="0.80" fill="#3048ff" opacity="0.92"/>
<rect x="437.93" y="399.17" width="0.80" height="0.80" fill="#3048ff" opacity="0.84"/>
<rect x="440.20" y="392.60" width="0.80" height="0.80" fill="#3048ff" opacity="0.82"/>
<rect x="435.13" y="406.14" width="0.80" height="0.80" fill="#3048ff" opacity="0.60"/>
<rect x="438.27" y="389.09" width="0.80" height="0.80" fill="#3048ff" opacity="0.64"/>
<rect x="435.59" y="402.39" width="0.80" height="0.80" fill="#3048ff" opacity="0.76"/>
<rect x="440.05" y="394.14" width="0.80" height="0.80" fill="#3048ff" opacity="0.77"/>
<rect x="433.63" y="417.82" width="0.80" height="0.80" fill="#3048ff" opacity="0.80"/>
<rect x="437.41" y="393.81" width="0.80" height="0.80" fill="#3048ff" opacity="0.82"/>
<rect x="434.86" y="414.15" width="0.80" height="0.80" fill="#3048ff" opacity="0.71"/>
<rect x="441.54" y="381.12" width="0.80" height="0.80" fill="#3048ff" opacity="0.59"/>
<rect x="435.20" y="414.04" width="0.80" height="0.80" fill="#3048ff" opacity="0.62"/>
<rect x="441.03" y="384.40" width="0.80" height="0.80" fill="#3048ff" opacity="0.99"/>
<rect x="435.08" y="399.31" width="0.80" height="0.80" fill="#3048ff" opacity="0.97"/>
<rect x="434.13" y="402.54" width="0.80" height="0.80" fill="#3048ff" opacity="0.96"/>
<rect x="443.20" y="383.46" width="0.80" height="0.80" fill="#3048ff" opacity="0.77"/>
<rect x="435.79" y="392.04" width="0.80" height="0.80" fill="#3048ff" opacity="0.96"/>
<rect x="437.07" y="411.69" width="0.80" height="0.80" fill="#3048ff" opacity="0.97"/>
<rect x="435.49" y="415.02" width="0.80" height="0.80" fill="#3048ff" opacity="0.68"/>
<rect x="437.90" y="403.20" width="0.80" height="0.80" fill="#3048ff" opacity="0.84"/>
<rect x="432.89" y="418.40" width="0.80" height="0.80" fill="#3048ff" opacity="0.74"/>
<rect x="434.01" y="409.87" width="0.80" height="0.80" fill="#3048ff" opacity="0.88"/>
<rect x="439.06" y="393.28" width="0.80" height="0.80" fill="#3048ff" opacity="0.68"/>
<rect x="436.25" y="407.46" width="0.80" height="0.80" fill="#3048ff" opacity="0.58"/>
<rect x="433.72" y="415.88" width="0.80" height="0.80" fill="#3048ff" opacity="0.99"/>
<rect x="440.03" y="381.94" width="0.80" height="0.80" fill="#3048ff" opacity="0.94"/>
<rect x="435.90" y="408.88" width="0.80" height="0.80" fill="#3048ff" opacity="0.76"/>
<rect x="437.74" y="402.94" width="0.80" height="0.80" fill="#3048ff" opacity="0.79"/>
<rect x="435.83" y="409.34" width="0.80" height="0.80" fill="#3048ff" opacity="0.76"/>
<rect x="440.03" y="386.59" width="0.80" height="0.80" fill="#3048ff" opacity="0.91"/>
<rect x="434.76" y="411.51" width="0.80" height="0.80" fill="#3048ff" opacity="0.55"/>
<rect x="435.77" y="416.44" width="0.80" height="0.80" fill="#3048ff" opacity="0.79"/>
<rect x="437.10" y="402.53" width="0.80" height="0.80" fill="#3048ff" opacity="0.64"/>
<rect x="439.84" y="392.20" width="0.80" height="0.80" fill="#3048ff" opacity="0.76"/>
<rect x="442.84" y="381.96" width="0.80" height="0.80" fill="#3048ff" opacity="0.57"/>
<rect x="430.24" y="415.00" width="0.80" height="0.80" fill="#3048ff" opacity="0.56"/>
<rect x="435.64" y="406.65" width="0.80" height="0.80" fill="#3048ff" opacity="0.80"/>
<rect x="433.55" y="417.34" width="0.80" height="0.80" fill="#3048ff" opacity="0.69"/>
<rect x="434.68" y="413.14" width="0.80" height="0.80" fill="#3048ff" opacity="0.67"/>
<rect x="431.66" y="418.34" width="0.80" height="0.80" fill="#3048ff" opacity="0.74"/>
<rect x="436.56" y="398.64" width="0.80" height="0.80" fill="#3048ff" opacity="0.91"/>
<rect x="431.68" y="413.13" width="0.80" height="0.80" fill="#3048ff" opacity="0.61"/>
<rect x="439.72" y="392.74" width="0.80" height="0.80" fill="#3048ff" opacity="0.92"/>
<rect x="435.56" y="401.87" width="0.80" height="0.80" fill="#3048ff" opacity="0.68"/>
<rect x="435.52" y="415.46" width="0.80" height="0.80" fill="#3048ff" opacity="0.95"/>
<rect x="441.32" y="385.63" width="0.80" height="0.80" fill="#3048ff" opacity="0.76"/>
<rect x="440.43" y="396.97" width="0.80" height="0.80" fill="#3048ff" opacity="0.82"/>
<rect x="434.66" y="407.33" width="0.80" height="0.80" fill="#3048ff" opacity="0.78"/>
<rect x="434.48" y="415.40" width="0.80" height="0.80" fill="#3048ff" opacity="1.00"/>
<rect x="438.81" y="402.07" width="0.80" height="0.80" fill="#3048ff" opacity="0.73"/>
<rect x="432.87" y="409.62" width="0.80" height="0.80" fill="#3048ff" opacity="0.75"/>
<rect x="442.44" y="382.97" width="0.80" height="0.80" fill="#3048ff" opacity="0.62"/>
<rect x="433.47" y="410.91" width="0.80" height="0.80" fill="#3048ff" opacity="0.93"/>
<rect x="439.97" y="389.47" width="0.80" height="0.80" fill="#3048ff" opacity="0.97"/>
<rect x="439.37" y="399.30" width="0.80" height="0.80" fill="#3048ff" opacity="0.80"/>
<rect x="436.73" y="404.49" width="0.80" height="0.80" fill="#3048ff" opacity="0.68"/>
<rect x="444.51" y="391.65" width="0.60" height="0.60" fill="#7080ff" opacity="0.6"/>
<rect x="441.23" y="414.11" width="0.60" height="0.60" fill="#7080ff" opacity="0.6"/>
<rect x="439.15" y="404.16" width="0.60" height="0.60" fill="#7080ff" opacity="0.6"/>
<rect x="445.16" y="384.76" width="0.60" height="0.60" fill="#7080ff" opacity="0.6"/>
<rect x="434.83" y="394.09" width="0.60" height="0.60" fill="#7080ff" opacity="0.6"/>
<rect x="434.65" y="383.83" width="0.60" height="0.60" fill="#7080ff" opacity="0.6"/>
<rect x="443.38" y="403.72" width="0.60" height="0.60" fill="#7080ff" opacity="0.6"/>
<rect x="435.86" y="406.20" width="0.60" height="0.60" fill="#7080ff" opacity="0.6"/>
<rect x="444.94" y="382.75" width="0.60" height="0.60" fill="#7080ff" opacity="0.6"/>
<rect x="437.50" y="406.16" width="0.60" height="0.60" fill="#7080ff" opacity="0.6"/>
<rect x="433.98" y="407.47" width="0.60" height="0.60" fill="#7080ff" opacity="0.6"/>
<rect x="445.43" y="408.64" width="0.60" height="0.60" fill="#7080ff" opacity="0.6"/>
<rect x="435.30" y="414.97" width="0.60" height="0.60" fill="#7080ff" opacity="0.6"/>
<rect x="433.27" y="410.50" width="0.60" height="0.60" fill="#7080ff" opacity="0.6"/>
<rect x="442.23" y="398.43" width="0.60" height="0.60" fill="#7080ff" opacity="0.6"/>
<rect x="440.72" y="386.88" width="0.60" height="0.60" fill="#7080ff" opacity="0.6"/>
<rect x="432.27" y="387.64" width="0.60" height="0.60" fill="#7080ff" opacity="0.6"/>
<rect x="445.18" y="407.46" width="0.60" height="0.60" fill="#7080ff" opacity="0.6"/>
<rect x="435.81" y="415.33" width="0.60" height="0.60" fill="#7080ff" opacity="0.6"/>
<rect x="435.82" y="400.03" width="0.60" height="0.60" fill="#7080ff" opacity="0.6"/>
<rect x="432.84" y="397.69" width="0.60" height="0.60" fill="#7080ff" opacity="0.6"/>
<rect x="445.13" y="409.17" width="0.60" height="0.60" fill="#7080ff" opacity="0.6"/>
<rect x="444.42" y="412.56" width="0.60" height="0.60" fill="#7080ff" opacity="0.6"/>
<rect x="445.60" y="411.32" width="0.60" height="0.60" fill="#7080ff" opacity="0.6"/>
<rect x="440.93" y="392.94" width="0.60" height="0.60" fill="#7080ff" opacity="0.6"/>
<rect x="432.94" y="412.64" width="0.60" height="0.60" fill="#7080ff" opacity="0.6"/>
<rect x="434.58" y="389.80" width="0.60" height="0.60" fill="#7080ff" opacity="0.6"/>
<rect x="443.31" y="410.88" width="0.60" height="0.60" fill="#7080ff" opacity="0.6"/>
<rect x="432.86" y="385.53" width="0.60" height="0.60" fill="#7080ff" opacity="0.6"/>
<rect x="439.42" y="382.35" width="0.60" height="0.60" fill="#7080ff" opacity="0.6"/>
<g filter="url(#blur2)">
<path d="M428.53,419.38 L427.93,416.58 L427.75,413.78 L427.70,410.98 L427.72,408.17 L427.80,405.37 L427.91,402.57 L428.08,399.77 L428.28,396.97 L428.52,394.17 L428.81,391.37 L429.15,388.56 L429.57,385.76 L430.11,382.96 L431.07,380.16 L432.22,380.16 L432.83,382.96 L433.00,385.76 L433.05,388.56 L433.03,391.37 L432.96,394.17 L432.84,396.97 L432.68,399.77 L432.47,402.57 L432.23,405.37 L431.94,408.17 L431.60,410.98 L431.18,413.78 L430.64,416.58 L429.68,419.38 Z" fill="#4060ff" stroke="none" stroke-width="1" opacity="0.85"/>
<path d="M428.80,417.90 L428.42,415.34 L428.34,412.77 L428.34,410.21 L428.40,407.65 L428.49,405.08 L428.61,402.52 L428.76,399.95 L428.94,397.39 L429.15,394.83 L429.39,392.26 L429.67,389.70 L430.00,387.14 L430.42,384.57 L431.13,382.01 L431.93,382.01 L432.31,384.57 L432.39,387.14 L432.39,389.70 L432.33,392.26 L432.24,394.83 L432.12,397.39 L431.96,399.95 L431.78,402.52 L431.57,405.08 L431.33,407.65 L431.06,410.21 L430.73,412.77 L430.31,415.34 L429.60,417.90 Z" fill="#2a90f0" stroke="none" stroke-width="1" opacity="1.0"/>
<path d="M429.08,415.68 L428.87,413.46 L428.85,411.24 L428.89,409.02 L428.96,406.80 L429.05,404.58 L429.17,402.36 L429.30,400.14 L429.46,397.92 L429.63,395.70 L429.82,393.48 L430.04,391.26 L430.29,389.04 L430.60,386.82 L431.10,384.60 L431.62,384.60 L431.84,386.82 L431.86,389.04 L431.82,391.26 L431.75,393.48 L431.65,395.70 L431.54,397.92 L431.40,400.14 L431.25,402.36 L431.08,404.58 L430.88,406.80 L430.67,409.02 L430.42,411.24 L430.11,413.46 L429.61,415.68 Z" fill="#30c8b0" stroke="none" stroke-width="1" opacity="1.0"/>
<path d="M429.43,411.98 L429.33,410.24 L429.35,408.49 L429.40,406.75 L429.47,405.00 L429.55,403.26 L429.65,401.51 L429.76,399.77 L429.87,398.03 L430.00,396.28 L430.15,394.54 L430.30,392.79 L430.48,391.05 L430.69,389.30 L431.01,387.56 L431.32,387.56 L431.42,389.30 L431.40,391.05 L431.35,392.79 L431.28,394.54 L431.20,396.28 L431.10,398.03 L431.00,399.77 L430.88,401.51 L430.75,403.26 L430.61,405.00 L430.45,406.75 L430.27,408.49 L430.06,410.24 L429.74,411.98 Z" fill="#90d840" stroke="none" stroke-width="1" opacity="1.0"/>
<path d="M429.95,405.32 L429.90,404.53 L429.91,403.73 L429.93,402.94 L429.96,402.15 L430.00,401.36 L430.05,400.56 L430.10,399.77 L430.15,398.98 L430.21,398.18 L430.27,397.39 L430.34,396.60 L430.42,395.81 L430.52,395.01 L430.67,394.22 L430.81,394.22 L430.85,395.01 L430.84,395.81 L430.82,396.60 L430.79,397.39 L430.75,398.18 L430.70,398.98 L430.66,399.77 L430.60,400.56 L430.54,401.36 L430.48,402.15 L430.41,402.94 L430.33,403.73 L430.23,404.53 L430.09,405.32 Z" fill="#e08030" stroke="none" stroke-width="1" opacity="1.0"/>
</g>
<rect x="427.97" y="404.22" width="0.70" height="0.70" fill="#3d5cff" opacity="0.8"/>
<rect x="427.31" y="418.82" width="0.70" height="0.70" fill="#3d5cff" opacity="0.8"/>
<rect x="427.55" y="414.52" width="0.70" height="0.70" fill="#3d5cff" opacity="0.8"/>
<rect x="429.08" y="381.45" width="0.70" height="0.70" fill="#3d5cff" opacity="0.8"/>
<rect x="427.75" y="381.58" width="0.70" height="0.70" fill="#3d5cff" opacity="0.8"/>
<rect x="428.99" y="379.72" width="0.70" height="0.70" fill="#3d5cff" opacity="0.8"/>
<rect x="432.08" y="417.26" width="0.70" height="0.70" fill="#3d5cff" opacity="0.8"/>
<rect x="432.84" y="400.52" width="0.70" height="0.70" fill="#3d5cff" opacity="0.8"/>
<rect x="432.88" y="398.13" width="0.70" height="0.70" fill="#3d5cff" opacity="0.8"/>
<rect x="432.57" y="397.84" width="0.70" height="0.70" fill="#3d5cff" opacity="0.8"/>
<rect x="431.56" y="413.79" width="0.70" height="0.70" fill="#3d5cff" opacity="0.8"/>
<rect x="428.48" y="395.53" width="0.70" height="0.70" fill="#3d5cff" opacity="0.8"/>
<rect x="427.65" y="407.57" width="0.70" height="0.70" fill="#3d5cff" opacity="0.8"/>
<rect x="426.66" y="414.55" width="0.70" height="0.70" fill="#3d5cff" opacity="0.8"/>
<rect x="428.31" y="403.12" width="0.70" height="0.70" fill="#3d5cff" opacity="0.8"/>
<rect x="433.15" y="384.24" width="0.70" height="0.70" fill="#3d5cff" opacity="0.8"/>
<rect x="434.39" y="379.25" width="0.70" height="0.70" fill="#3d5cff" opacity="0.8"/>
<rect x="431.38" y="416.11" width="0.70" height="0.70" fill="#3d5cff" opacity="0.8"/>
<rect x="427.87" y="406.54" width="0.70" height="0.70" fill="#3d5cff" opacity="0.8"/>
<rect x="432.54" y="404.59" width="0.70" height="0.70" fill="#3d5cff" opacity="0.8"/>
<rect x="433.16" y="395.67" width="0.70" height="0.70" fill="#3d5cff" opacity="0.8"/>
<rect x="432.56" y="408.14" width="0.70" height="0.70" fill="#3d5cff" opacity="0.8"/>
<rect x="427.71" y="408.84" width="0.70" height="0.70" fill="#3d5cff" opacity="0.8"/>
<rect x="429.54" y="379.09" width="0.70" height="0.70" fill="#3d5cff" opacity="0.8"/>
<rect x="432.33" y="408.32" width="0.70" height="0.70" fill="#3d5cff" opacity="0.8"/>
<rect x="428.48" y="398.11" width="0.70" height="0.70" fill="#3d5cff" opacity="0.8"/>
<rect x="433.56" y="379.45" width="0.70" height="0.70" fill="#3d5cff" opacity="0.8"/>
<rect x="432.01" y="402.79" width="0.70" height="0.70" fill="#3d5cff" opacity="0.8"/>
<rect x="432.40" y="417.47" width="0.70" height="0.70" fill="#3d5cff" opacity="0.8"/>
<rect x="427.15" y="404.87" width="0.70" height="0.70" fill="#3d5cff" opacity="0.8"/>
<rect x="431.61" y="417.63" width="0.70" height="0.70" fill="#3d5cff" opacity="0.8"/>
<rect x="433.51" y="384.33" width="0.70" height="0.70" fill="#3d5cff" opacity="0.8"/>
<rect x="431.63" y="419.41" width="0.70" height="0.70" fill="#3d5cff" opacity="0.8"/>
<rect x="428.27" y="404.63" width="0.70" height="0.70" fill="#3d5cff" opacity="0.8"/>
<rect x="428.80" y="395.94" width="0.70" height="0.70" fill="#3d5cff" opacity="0.8"/>
<rect x="427.55" y="417.26" width="0.70" height="0.70" fill="#3d5cff" opacity="0.8"/>
<rect x="427.57" y="414.18" width="0.70" height="0.70" fill="#3d5cff" opacity="0.8"/>
<rect x="427.25" y="411.83" width="0.70" height="0.70" fill="#3d5cff" opacity="0.8"/>
<rect x="433.25" y="397.81" width="0.70" height="0.70" fill="#3d5cff" opacity="0.8"/>
<rect x="429.18" y="385.94" width="0.70" height="0.70" fill="#3d5cff" opacity="0.8"/>
<text x="441.70" y="414.00" font-size="6.8" font-weight="bold" textLength="24.80" lengthAdjust="spacingAndGlyphs" fill="#111">ABCG2+</text>
<text x="441.70" y="421.70" font-size="6.8" font-weight="bold" textLength="12.50" lengthAdjust="spacingAndGlyphs" fill="#111">24.5</text>
<rect x="484.90" y="368.50" width="53.10" height="59.60" fill="#fff" stroke="#777" stroke-width="0.5"/>
<line x1="483.70" y1="417.30" x2="484.90" y2="417.30" stroke="#777" stroke-width="0.4"/>
<rect x="478.40" y="416.90" width="4.00" height="0.80" fill="#bbb"/>
<line x1="483.70" y1="405.50" x2="484.90" y2="405.50" stroke="#777" stroke-width="0.4"/>
<rect x="478.40" y="405.10" width="4.00" height="0.80" fill="#bbb"/>
<line x1="483.70" y1="393.70" x2="484.90" y2="393.70" stroke="#777" stroke-width="0.4"/>
<rect x="478.40" y="393.30" width="4.00" height="0.80" fill="#bbb"/>
<line x1="483.70" y1="381.90" x2="484.90" y2="381.90" stroke="#777" stroke-width="0.4"/>
<rect x="478.40" y="381.50" width="4.00" height="0.80" fill="#bbb"/>
<line x1="483.70" y1="370.10" x2="484.90" y2="370.10" stroke="#777" stroke-width="0.4"/>
<rect x="478.40" y="369.70" width="4.00" height="0.80" fill="#bbb"/>
<line x1="488.90" y1="428.10" x2="488.90" y2="429.10" stroke="#777" stroke-width="0.4"/>
<rect x="487.70" y="430.30" width="2.40" height="0.70" fill="#bbb"/>
<line x1="497.92" y1="428.10" x2="497.92" y2="429.10" stroke="#777" stroke-width="0.4"/>
<rect x="496.72" y="430.30" width="2.40" height="0.70" fill="#bbb"/>
<line x1="506.94" y1="428.10" x2="506.94" y2="429.10" stroke="#777" stroke-width="0.4"/>
<rect x="505.74" y="430.30" width="2.40" height="0.70" fill="#bbb"/>
<line x1="515.96" y1="428.10" x2="515.96" y2="429.10" stroke="#777" stroke-width="0.4"/>
<rect x="514.76" y="430.30" width="2.40" height="0.70" fill="#bbb"/>
<line x1="524.98" y1="428.10" x2="524.98" y2="429.10" stroke="#777" stroke-width="0.4"/>
<rect x="523.78" y="430.30" width="2.40" height="0.70" fill="#bbb"/>
<line x1="534.00" y1="428.10" x2="534.00" y2="429.10" stroke="#777" stroke-width="0.4"/>
<rect x="532.80" y="430.30" width="2.40" height="0.70" fill="#bbb"/>
<rect x="503.00" y="378.40" width="34.50" height="45.50" fill="none" stroke="#555" stroke-width="0.5"/>
<rect x="502.81" y="413.06" width="0.80" height="0.80" fill="#3048ff" opacity="0.62"/>
<rect x="502.09" y="417.43" width="0.80" height="0.80" fill="#3048ff" opacity="0.73"/>
<rect x="505.45" y="384.99" width="0.80" height="0.80" fill="#3048ff" opacity="0.65"/>
<rect x="500.82" y="402.21" width="0.80" height="0.80" fill="#3048ff" opacity="0.67"/>
<rect x="502.28" y="414.90" width="0.80" height="0.80" fill="#3048ff" opacity="0.97"/>
<rect x="504.86" y="389.29" width="0.80" height="0.80" fill="#3048ff" opacity="0.91"/>
<rect x="504.55" y="390.63" width="0.80" height="0.80" fill="#3048ff" opacity="0.83"/>
<rect x="504.87" y="393.79" width="0.80" height="0.80" fill="#3048ff" opacity="0.93"/>
<rect x="506.08" y="386.84" width="0.80" height="0.80" fill="#3048ff" opacity="0.85"/>
<rect x="503.71" y="403.45" width="0.80" height="0.80" fill="#3048ff" opacity="0.63"/>
<rect x="505.23" y="404.73" width="0.80" height="0.80" fill="#3048ff" opacity="0.94"/>
<rect x="504.59" y="401.77" width="0.80" height="0.80" fill="#3048ff" opacity="0.69"/>
<rect x="502.30" y="385.44" width="0.80" height="0.80" fill="#3048ff" opacity="0.93"/>
<rect x="501.62" y="403.36" width="0.80" height="0.80" fill="#3048ff" opacity="0.74"/>
<rect x="502.50" y="399.63" width="0.80" height="0.80" fill="#3048ff" opacity="0.69"/>
<rect x="504.55" y="390.06" width="0.80" height="0.80" fill="#3048ff" opacity="0.57"/>
<rect x="500.52" y="417.81" width="0.80" height="0.80" fill="#3048ff" opacity="0.79"/>
<rect x="501.90" y="404.82" width="0.80" height="0.80" fill="#3048ff" opacity="0.70"/>
<rect x="505.64" y="381.04" width="0.80" height="0.80" fill="#3048ff" opacity="0.64"/>
<rect x="504.62" y="398.19" width="0.80" height="0.80" fill="#3048ff" opacity="0.67"/>
<rect x="502.17" y="409.11" width="0.80" height="0.80" fill="#3048ff" opacity="0.80"/>
<rect x="503.55" y="385.66" width="0.80" height="0.80" fill="#3048ff" opacity="0.60"/>
<rect x="501.59" y="417.53" width="0.80" height="0.80" fill="#3048ff" opacity="0.83"/>
<rect x="503.97" y="413.02" width="0.80" height="0.80" fill="#3048ff" opacity="0.70"/>
<rect x="501.22" y="414.76" width="0.80" height="0.80" fill="#3048ff" opacity="0.86"/>
<rect x="504.75" y="386.07" width="0.80" height="0.80" fill="#3048ff" opacity="0.98"/>
<rect x="504.08" y="393.66" width="0.80" height="0.80" fill="#3048ff" opacity="0.68"/>
<rect x="504.96" y="382.61" width="0.80" height="0.80" fill="#3048ff" opacity="0.90"/>
<rect x="504.10" y="407.13" width="0.80" height="0.80" fill="#3048ff" opacity="0.92"/>
<rect x="501.33" y="411.24" width="0.80" height="0.80" fill="#3048ff" opacity="0.64"/>
<rect x="503.37" y="405.86" width="0.80" height="0.80" fill="#3048ff" opacity="0.98"/>
<rect x="503.06" y="409.96" width="0.80" height="0.80" fill="#3048ff" opacity="0.55"/>
<rect x="502.36" y="417.83" width="0.80" height="0.80" fill="#3048ff" opacity="0.71"/>
<rect x="503.94" y="411.34" width="0.80" height="0.80" fill="#3048ff" opacity="0.59"/>
<rect x="504.31" y="381.82" width="0.80" height="0.80" fill="#3048ff" opacity="0.58"/>
<rect x="501.69" y="417.65" width="0.80" height="0.80" fill="#3048ff" opacity="0.63"/>
<rect x="503.78" y="396.26" width="0.80" height="0.80" fill="#3048ff" opacity="0.77"/>
<rect x="502.12" y="412.66" width="0.80" height="0.80" fill="#3048ff" opacity="1.00"/>
<rect x="499.23" y="416.20" width="0.80" height="0.80" fill="#3048ff" opacity="0.73"/>
<rect x="504.72" y="381.52" width="0.80" height="0.80" fill="#3048ff" opacity="0.76"/>
<rect x="501.49" y="412.88" width="0.80" height="0.80" fill="#3048ff" opacity="0.74"/>
<rect x="502.00" y="412.67" width="0.80" height="0.80" fill="#3048ff" opacity="0.95"/>
<rect x="503.99" y="389.19" width="0.80" height="0.80" fill="#3048ff" opacity="0.66"/>
<rect x="501.79" y="412.86" width="0.80" height="0.80" fill="#3048ff" opacity="0.64"/>
<rect x="502.25" y="413.20" width="0.80" height="0.80" fill="#3048ff" opacity="0.57"/>
<rect x="504.29" y="384.50" width="0.80" height="0.80" fill="#3048ff" opacity="0.80"/>
<rect x="502.86" y="381.38" width="0.80" height="0.80" fill="#3048ff" opacity="0.84"/>
<rect x="505.71" y="391.08" width="0.80" height="0.80" fill="#3048ff" opacity="0.89"/>
<rect x="503.49" y="403.92" width="0.80" height="0.80" fill="#3048ff" opacity="0.94"/>
<rect x="505.16" y="385.88" width="0.80" height="0.80" fill="#3048ff" opacity="0.97"/>
<rect x="500.83" y="409.78" width="0.80" height="0.80" fill="#3048ff" opacity="0.84"/>
<rect x="502.29" y="389.96" width="0.80" height="0.80" fill="#3048ff" opacity="0.79"/>
<rect x="503.06" y="397.23" width="0.80" height="0.80" fill="#3048ff" opacity="0.97"/>
<rect x="504.02" y="383.10" width="0.80" height="0.80" fill="#3048ff" opacity="0.58"/>
<rect x="506.92" y="382.36" width="0.80" height="0.80" fill="#3048ff" opacity="0.57"/>
<rect x="504.20" y="385.92" width="0.80" height="0.80" fill="#3048ff" opacity="0.61"/>
<rect x="504.80" y="382.48" width="0.80" height="0.80" fill="#3048ff" opacity="0.63"/>
<rect x="502.97" y="398.08" width="0.80" height="0.80" fill="#3048ff" opacity="0.81"/>
<rect x="504.72" y="393.13" width="0.80" height="0.80" fill="#3048ff" opacity="0.55"/>
<rect x="504.38" y="384.78" width="0.80" height="0.80" fill="#3048ff" opacity="0.56"/>
<rect x="506.32" y="387.02" width="0.80" height="0.80" fill="#3048ff" opacity="0.90"/>
<rect x="506.13" y="386.95" width="0.80" height="0.80" fill="#3048ff" opacity="0.80"/>
<rect x="505.14" y="386.91" width="0.80" height="0.80" fill="#3048ff" opacity="0.70"/>
<rect x="506.48" y="386.27" width="0.80" height="0.80" fill="#3048ff" opacity="0.90"/>
<rect x="502.35" y="404.81" width="0.80" height="0.80" fill="#3048ff" opacity="0.57"/>
<rect x="503.13" y="399.82" width="0.80" height="0.80" fill="#3048ff" opacity="0.77"/>
<rect x="503.93" y="387.58" width="0.80" height="0.80" fill="#3048ff" opacity="0.71"/>
<rect x="503.55" y="392.16" width="0.80" height="0.80" fill="#3048ff" opacity="0.79"/>
<rect x="502.48" y="418.32" width="0.80" height="0.80" fill="#3048ff" opacity="0.59"/>
<rect x="500.88" y="401.94" width="0.80" height="0.80" fill="#3048ff" opacity="0.72"/>
<rect x="503.74" y="391.24" width="0.80" height="0.80" fill="#3048ff" opacity="0.77"/>
<rect x="505.90" y="382.60" width="0.80" height="0.80" fill="#3048ff" opacity="0.59"/>
<rect x="499.45" y="416.39" width="0.80" height="0.80" fill="#3048ff" opacity="0.78"/>
<rect x="500.63" y="406.25" width="0.80" height="0.80" fill="#3048ff" opacity="0.94"/>
<rect x="506.49" y="391.74" width="0.80" height="0.80" fill="#3048ff" opacity="0.64"/>
<rect x="503.09" y="410.94" width="0.80" height="0.80" fill="#3048ff" opacity="0.93"/>
<rect x="502.69" y="406.68" width="0.80" height="0.80" fill="#3048ff" opacity="0.94"/>
<rect x="500.83" y="414.80" width="0.80" height="0.80" fill="#3048ff" opacity="0.62"/>
<rect x="501.89" y="403.92" width="0.80" height="0.80" fill="#3048ff" opacity="0.96"/>
<rect x="505.10" y="394.76" width="0.80" height="0.80" fill="#3048ff" opacity="0.55"/>
<rect x="500.59" y="410.62" width="0.80" height="0.80" fill="#3048ff" opacity="0.87"/>
<rect x="502.28" y="404.31" width="0.80" height="0.80" fill="#3048ff" opacity="0.58"/>
<rect x="502.50" y="412.77" width="0.80" height="0.80" fill="#3048ff" opacity="0.90"/>
<rect x="504.12" y="381.62" width="0.80" height="0.80" fill="#3048ff" opacity="0.83"/>
<rect x="502.69" y="396.26" width="0.80" height="0.80" fill="#3048ff" opacity="0.96"/>
<rect x="501.92" y="404.98" width="0.80" height="0.80" fill="#3048ff" opacity="0.96"/>
<rect x="503.55" y="410.83" width="0.80" height="0.80" fill="#3048ff" opacity="0.83"/>
<rect x="500.84" y="405.94" width="0.80" height="0.80" fill="#3048ff" opacity="0.61"/>
<rect x="502.78" y="392.00" width="0.80" height="0.80" fill="#3048ff" opacity="0.61"/>
<rect x="502.80" y="417.11" width="0.80" height="0.80" fill="#3048ff" opacity="0.61"/>
<rect x="505.43" y="390.23" width="0.80" height="0.80" fill="#3048ff" opacity="0.72"/>
<rect x="505.62" y="400.59" width="0.80" height="0.80" fill="#3048ff" opacity="0.71"/>
<rect x="504.40" y="398.70" width="0.80" height="0.80" fill="#3048ff" opacity="0.97"/>
<rect x="502.33" y="414.71" width="0.80" height="0.80" fill="#3048ff" opacity="0.84"/>
<rect x="502.00" y="410.12" width="0.80" height="0.80" fill="#3048ff" opacity="0.56"/>
<rect x="505.20" y="383.44" width="0.80" height="0.80" fill="#3048ff" opacity="0.92"/>
<rect x="505.30" y="390.60" width="0.80" height="0.80" fill="#3048ff" opacity="0.62"/>
<rect x="500.12" y="400.25" width="0.80" height="0.80" fill="#3048ff" opacity="0.77"/>
<rect x="505.12" y="400.68" width="0.80" height="0.80" fill="#3048ff" opacity="0.99"/>
<rect x="500.58" y="416.33" width="0.80" height="0.80" fill="#3048ff" opacity="0.84"/>
<rect x="503.50" y="396.32" width="0.80" height="0.80" fill="#3048ff" opacity="0.92"/>
<rect x="500.20" y="410.92" width="0.80" height="0.80" fill="#3048ff" opacity="0.97"/>
<rect x="500.13" y="407.29" width="0.80" height="0.80" fill="#3048ff" opacity="0.87"/>
<rect x="500.41" y="410.70" width="0.80" height="0.80" fill="#3048ff" opacity="0.65"/>
<rect x="499.03" y="410.12" width="0.80" height="0.80" fill="#3048ff" opacity="0.95"/>
<rect x="499.24" y="407.51" width="0.80" height="0.80" fill="#3048ff" opacity="0.73"/>
<rect x="503.97" y="389.83" width="0.80" height="0.80" fill="#3048ff" opacity="0.56"/>
<rect x="502.92" y="414.59" width="0.80" height="0.80" fill="#3048ff" opacity="0.79"/>
<rect x="502.71" y="395.53" width="0.80" height="0.80" fill="#3048ff" opacity="0.98"/>
<rect x="502.50" y="398.59" width="0.80" height="0.80" fill="#3048ff" opacity="0.62"/>
<rect x="508.39" y="414.93" width="0.60" height="0.60" fill="#7080ff" opacity="0.6"/>
<rect x="507.96" y="381.34" width="0.60" height="0.60" fill="#7080ff" opacity="0.6"/>
<rect x="503.10" y="395.36" width="0.60" height="0.60" fill="#7080ff" opacity="0.6"/>
<rect x="502.66" y="414.07" width="0.60" height="0.60" fill="#7080ff" opacity="0.6"/>
<rect x="508.03" y="409.29" width="0.60" height="0.60" fill="#7080ff" opacity="0.6"/>
<rect x="506.82" y="384.82" width="0.60" height="0.60" fill="#7080ff" opacity="0.6"/>
<rect x="502.51" y="411.97" width="0.60" height="0.60" fill="#7080ff" opacity="0.6"/>
<rect x="508.18" y="406.48" width="0.60" height="0.60" fill="#7080ff" opacity="0.6"/>
<rect x="506.92" y="411.44" width="0.60" height="0.60" fill="#7080ff" opacity="0.6"/>
<rect x="504.98" y="392.55" width="0.60" height="0.60" fill="#7080ff" opacity="0.6"/>
<rect x="502.70" y="382.39" width="0.60" height="0.60" fill="#7080ff" opacity="0.6"/>
<rect x="501.86" y="398.26" width="0.60" height="0.60" fill="#7080ff" opacity="0.6"/>
<rect x="500.85" y="413.87" width="0.60" height="0.60" fill="#7080ff" opacity="0.6"/>
<rect x="501.57" y="405.85" width="0.60" height="0.60" fill="#7080ff" opacity="0.6"/>
<rect x="508.54" y="415.16" width="0.60" height="0.60" fill="#7080ff" opacity="0.6"/>
<rect x="507.72" y="406.85" width="0.60" height="0.60" fill="#7080ff" opacity="0.6"/>
<rect x="506.45" y="391.78" width="0.60" height="0.60" fill="#7080ff" opacity="0.6"/>
<rect x="508.22" y="393.49" width="0.60" height="0.60" fill="#7080ff" opacity="0.6"/>
<rect x="506.36" y="385.34" width="0.60" height="0.60" fill="#7080ff" opacity="0.6"/>
<rect x="506.15" y="396.96" width="0.60" height="0.60" fill="#7080ff" opacity="0.6"/>
<rect x="505.02" y="390.98" width="0.60" height="0.60" fill="#7080ff" opacity="0.6"/>
<rect x="501.83" y="399.06" width="0.60" height="0.60" fill="#7080ff" opacity="0.6"/>
<rect x="504.47" y="386.58" width="0.60" height="0.60" fill="#7080ff" opacity="0.6"/>
<rect x="501.94" y="414.93" width="0.60" height="0.60" fill="#7080ff" opacity="0.6"/>
<rect x="502.65" y="385.47" width="0.60" height="0.60" fill="#7080ff" opacity="0.6"/>
<rect x="506.06" y="403.12" width="0.60" height="0.60" fill="#7080ff" opacity="0.6"/>
<rect x="503.23" y="385.95" width="0.60" height="0.60" fill="#7080ff" opacity="0.6"/>
<rect x="503.98" y="403.28" width="0.60" height="0.60" fill="#7080ff" opacity="0.6"/>
<rect x="507.61" y="416.38" width="0.60" height="0.60" fill="#7080ff" opacity="0.6"/>
<rect x="508.28" y="416.71" width="0.60" height="0.60" fill="#7080ff" opacity="0.6"/>
<rect x="501.85" y="411.83" width="0.60" height="0.60" fill="#7080ff" opacity="0.6"/>
<rect x="507.19" y="386.43" width="0.60" height="0.60" fill="#7080ff" opacity="0.6"/>
<rect x="505.03" y="408.93" width="0.60" height="0.60" fill="#7080ff" opacity="0.6"/>
<rect x="506.35" y="400.00" width="0.60" height="0.60" fill="#7080ff" opacity="0.6"/>
<rect x="507.20" y="410.64" width="0.60" height="0.60" fill="#7080ff" opacity="0.6"/>
<rect x="506.25" y="381.03" width="0.60" height="0.60" fill="#7080ff" opacity="0.6"/>
<rect x="508.10" y="383.78" width="0.60" height="0.60" fill="#7080ff" opacity="0.6"/>
<rect x="507.38" y="403.55" width="0.60" height="0.60" fill="#7080ff" opacity="0.6"/>
<rect x="505.30" y="386.97" width="0.60" height="0.60" fill="#7080ff" opacity="0.6"/>
<rect x="505.55" y="413.49" width="0.60" height="0.60" fill="#7080ff" opacity="0.6"/>
<rect x="503.04" y="384.12" width="0.60" height="0.60" fill="#7080ff" opacity="0.6"/>
<rect x="507.78" y="393.79" width="0.60" height="0.60" fill="#7080ff" opacity="0.6"/>
<rect x="500.90" y="395.50" width="0.60" height="0.60" fill="#7080ff" opacity="0.6"/>
<rect x="502.65" y="394.33" width="0.60" height="0.60" fill="#7080ff" opacity="0.6"/>
<rect x="505.90" y="386.08" width="0.60" height="0.60" fill="#7080ff" opacity="0.6"/>
<rect x="507.77" y="406.18" width="0.60" height="0.60" fill="#7080ff" opacity="0.6"/>
<rect x="503.31" y="394.59" width="0.60" height="0.60" fill="#7080ff" opacity="0.6"/>
<rect x="507.73" y="386.95" width="0.60" height="0.60" fill="#7080ff" opacity="0.6"/>
<rect x="507.67" y="384.80" width="0.60" height="0.60" fill="#7080ff" opacity="0.6"/>
<rect x="506.19" y="393.37" width="0.60" height="0.60" fill="#7080ff" opacity="0.6"/>
<g filter="url(#blur2)">
<path d="M496.93,418.86 L496.33,416.10 L496.15,413.33 L496.10,410.57 L496.12,407.81 L496.20,405.04 L496.31,402.28 L496.48,399.51 L496.68,396.75 L496.92,393.99 L497.21,391.22 L497.55,388.46 L497.97,385.70 L498.51,382.93 L499.47,380.17 L500.62,380.17 L501.23,382.93 L501.40,385.70 L501.45,388.46 L501.43,391.22 L501.36,393.99 L501.24,396.75 L501.08,399.51 L500.87,402.28 L500.63,405.04 L500.34,407.81 L500.00,410.57 L499.58,413.33 L499.04,416.10 L498.08,418.86 Z" fill="#4060ff" stroke="none" stroke-width="1" opacity="0.85"/>
<path d="M497.20,417.40 L496.82,414.87 L496.74,412.34 L496.74,409.81 L496.80,407.28 L496.89,404.76 L497.01,402.23 L497.16,399.70 L497.34,397.17 L497.55,394.64 L497.79,392.11 L498.07,389.58 L498.40,387.05 L498.82,384.52 L499.53,382.00 L500.33,382.00 L500.71,384.52 L500.79,387.05 L500.79,389.58 L500.73,392.11 L500.64,394.64 L500.52,397.17 L500.36,399.70 L500.18,402.23 L499.97,404.76 L499.73,407.28 L499.46,409.81 L499.13,412.34 L498.71,414.87 L498.00,417.40 Z" fill="#2a90f0" stroke="none" stroke-width="1" opacity="1.0"/>
<path d="M497.48,415.21 L497.27,413.02 L497.25,410.83 L497.29,408.64 L497.36,406.45 L497.45,404.26 L497.57,402.07 L497.70,399.88 L497.86,397.69 L498.03,395.50 L498.22,393.31 L498.44,391.12 L498.69,388.93 L499.00,386.74 L499.50,384.55 L500.02,384.55 L500.24,386.74 L500.26,388.93 L500.22,391.12 L500.15,393.31 L500.05,395.50 L499.94,397.69 L499.80,399.88 L499.65,402.07 L499.48,404.26 L499.28,406.45 L499.07,408.64 L498.82,410.83 L498.51,413.02 L498.01,415.21 Z" fill="#30c8b0" stroke="none" stroke-width="1" opacity="1.0"/>
<path d="M497.83,411.56 L497.73,409.84 L497.75,408.12 L497.80,406.40 L497.87,404.68 L497.95,402.96 L498.05,401.24 L498.16,399.51 L498.27,397.79 L498.40,396.07 L498.55,394.35 L498.70,392.63 L498.88,390.91 L499.09,389.19 L499.41,387.47 L499.72,387.47 L499.82,389.19 L499.80,390.91 L499.75,392.63 L499.68,394.35 L499.60,396.07 L499.50,397.79 L499.40,399.51 L499.28,401.24 L499.15,402.96 L499.01,404.68 L498.85,406.40 L498.67,408.12 L498.46,409.84 L498.14,411.56 Z" fill="#90d840" stroke="none" stroke-width="1" opacity="1.0"/>
<path d="M498.35,404.99 L498.30,404.21 L498.31,403.43 L498.33,402.64 L498.36,401.86 L498.40,401.08 L498.45,400.30 L498.50,399.51 L498.55,398.73 L498.61,397.95 L498.67,397.17 L498.74,396.39 L498.82,395.60 L498.92,394.82 L499.07,394.04 L499.21,394.04 L499.25,394.82 L499.24,395.60 L499.22,396.39 L499.19,397.17 L499.15,397.95 L499.10,398.73 L499.06,399.51 L499.00,400.30 L498.94,401.08 L498.88,401.86 L498.81,402.64 L498.73,403.43 L498.63,404.21 L498.49,404.99 Z" fill="#e08030" stroke="none" stroke-width="1" opacity="1.0"/>
</g>
<rect x="501.41" y="394.91" width="0.70" height="0.70" fill="#3d5cff" opacity="0.8"/>
<rect x="495.95" y="416.10" width="0.70" height="0.70" fill="#3d5cff" opacity="0.8"/>
<rect x="496.12" y="399.23" width="0.70" height="0.70" fill="#3d5cff" opacity="0.8"/>
<rect x="496.39" y="405.78" width="0.70" height="0.70" fill="#3d5cff" opacity="0.8"/>
<rect x="496.22" y="391.18" width="0.70" height="0.70" fill="#3d5cff" opacity="0.8"/>
<rect x="497.72" y="385.99" width="0.70" height="0.70" fill="#3d5cff" opacity="0.8"/>
<rect x="495.37" y="416.50" width="0.70" height="0.70" fill="#3d5cff" opacity="0.8"/>
<rect x="495.26" y="418.66" width="0.70" height="0.70" fill="#3d5cff" opacity="0.8"/>
<rect x="495.72" y="418.97" width="0.70" height="0.70" fill="#3d5cff" opacity="0.8"/>
<rect x="501.61" y="389.49" width="0.70" height="0.70" fill="#3d5cff" opacity="0.8"/>
<rect x="501.89" y="386.36" width="0.70" height="0.70" fill="#3d5cff" opacity="0.8"/>
<rect x="496.11" y="403.09" width="0.70" height="0.70" fill="#3d5cff" opacity="0.8"/>
<rect x="496.76" y="402.70" width="0.70" height="0.70" fill="#3d5cff" opacity="0.8"/>
<rect x="501.31" y="407.30" width="0.70" height="0.70" fill="#3d5cff" opacity="0.8"/>
<rect x="501.48" y="387.45" width="0.70" height="0.70" fill="#3d5cff" opacity="0.8"/>
<rect x="500.92" y="400.02" width="0.70" height="0.70" fill="#3d5cff" opacity="0.8"/>
<rect x="502.28" y="381.66" width="0.70" height="0.70" fill="#3d5cff" opacity="0.8"/>
<rect x="502.82" y="380.93" width="0.70" height="0.70" fill="#3d5cff" opacity="0.8"/>
<rect x="496.54" y="406.39" width="0.70" height="0.70" fill="#3d5cff" opacity="0.8"/>
<rect x="500.19" y="418.18" width="0.70" height="0.70" fill="#3d5cff" opacity="0.8"/>
<rect x="496.87" y="394.74" width="0.70" height="0.70" fill="#3d5cff" opacity="0.8"/>
<rect x="497.71" y="381.52" width="0.70" height="0.70" fill="#3d5cff" opacity="0.8"/>
<rect x="496.87" y="394.28" width="0.70" height="0.70" fill="#3d5cff" opacity="0.8"/>
<rect x="500.10" y="410.65" width="0.70" height="0.70" fill="#3d5cff" opacity="0.8"/>
<rect x="502.01" y="388.44" width="0.70" height="0.70" fill="#3d5cff" opacity="0.8"/>
<rect x="496.25" y="411.15" width="0.70" height="0.70" fill="#3d5cff" opacity="0.8"/>
<rect x="495.18" y="409.51" width="0.70" height="0.70" fill="#3d5cff" opacity="0.8"/>
<rect x="495.46" y="407.39" width="0.70" height="0.70" fill="#3d5cff" opacity="0.8"/>
<rect x="496.97" y="382.67" width="0.70" height="0.70" fill="#3d5cff" opacity="0.8"/>
<rect x="496.34" y="382.99" width="0.70" height="0.70" fill="#3d5cff" opacity="0.8"/>
<rect x="497.41" y="388.78" width="0.70" height="0.70" fill="#3d5cff" opacity="0.8"/>
<rect x="501.24" y="395.36" width="0.70" height="0.70" fill="#3d5cff" opacity="0.8"/>
<rect x="501.52" y="389.59" width="0.70" height="0.70" fill="#3d5cff" opacity="0.8"/>
<rect x="497.58" y="388.81" width="0.70" height="0.70" fill="#3d5cff" opacity="0.8"/>
<rect x="497.43" y="380.68" width="0.70" height="0.70" fill="#3d5cff" opacity="0.8"/>
<rect x="501.06" y="417.07" width="0.70" height="0.70" fill="#3d5cff" opacity="0.8"/>
<rect x="501.41" y="390.88" width="0.70" height="0.70" fill="#3d5cff" opacity="0.8"/>
<rect x="499.97" y="413.82" width="0.70" height="0.70" fill="#3d5cff" opacity="0.8"/>
<rect x="501.39" y="395.04" width="0.70" height="0.70" fill="#3d5cff" opacity="0.8"/>
<rect x="497.44" y="389.28" width="0.70" height="0.70" fill="#3d5cff" opacity="0.8"/>
<text x="512.20" y="414.60" font-size="6.8" font-weight="bold" textLength="24.40" lengthAdjust="spacingAndGlyphs" fill="#111">ABCG2+</text>
<text x="512.20" y="422.30" font-size="6.8" font-weight="bold" textLength="12.50" lengthAdjust="spacingAndGlyphs" fill="#111">7.59</text>
<text x="444.70" y="362.80" font-size="4.6" font-weight="bold" text-anchor="middle" textLength="18.60" lengthAdjust="spacingAndGlyphs" fill="#111">FITC-A::ABCG</text>
<text x="513.70" y="362.80" font-size="4.6" font-weight="bold" text-anchor="middle" textLength="18.60" lengthAdjust="spacingAndGlyphs" fill="#111">FITC-A::ABCG</text>
<text x="444.70" y="438.70" font-size="4.6" font-weight="bold" text-anchor="middle" textLength="18.60" lengthAdjust="spacingAndGlyphs" fill="#111">FITC-A::ABCG</text>
<text x="513.70" y="438.70" font-size="4.6" font-weight="bold" text-anchor="middle" textLength="18.60" lengthAdjust="spacingAndGlyphs" fill="#111">FITC-A::ABCG</text>
<line x1="564.50" y1="319.20" x2="564.50" y2="391.50" stroke="#333" stroke-width="0.9"/>
<line x1="564.10" y1="391.20" x2="651.00" y2="391.20" stroke="#333" stroke-width="1.0"/>
<line x1="562.70" y1="319.20" x2="564.50" y2="319.20" stroke="#333" stroke-width="0.7"/>
<text x="563.20" y="321.00" font-size="5.2" font-weight="bold" text-anchor="end" textLength="5.60" lengthAdjust="spacingAndGlyphs" fill="#222">30</text>
<line x1="562.70" y1="343.30" x2="564.50" y2="343.30" stroke="#333" stroke-width="0.7"/>
<text x="563.20" y="345.10" font-size="5.2" font-weight="bold" text-anchor="end" textLength="5.60" lengthAdjust="spacingAndGlyphs" fill="#222">20</text>
<line x1="562.70" y1="367.30" x2="564.50" y2="367.30" stroke="#333" stroke-width="0.7"/>
<text x="563.20" y="369.10" font-size="5.2" font-weight="bold" text-anchor="end" textLength="5.60" lengthAdjust="spacingAndGlyphs" fill="#222">10</text>
<line x1="562.70" y1="391.20" x2="564.50" y2="391.20" stroke="#333" stroke-width="0.7"/>
<text x="563.20" y="393.00" font-size="5.2" font-weight="bold" text-anchor="end" textLength="2.80" lengthAdjust="spacingAndGlyphs" fill="#222">0</text>
<text x="608.00" y="309.40" font-size="6.6" font-weight="bold" text-anchor="middle" textLength="22.40" lengthAdjust="spacingAndGlyphs" fill="#111">ABCG2+</text>
<text x="555.00" y="367.72" font-size="6.0" font-weight="bold" textLength="24.67" lengthAdjust="spacingAndGlyphs" fill="#222" transform="rotate(-90 555.00 367.72)">% Parent</text>
<rect x="570.10" y="370.00" width="11.80" height="21.20" fill="#0000ff"/>
<line x1="576.00" y1="370.00" x2="576.00" y2="369.00" stroke="#0000ff" stroke-width="0.8"/>
<line x1="572.80" y1="369.00" x2="579.20" y2="369.00" stroke="#0000ff" stroke-width="0.8"/>
<rect x="587.60" y="334.90" width="11.70" height="56.30" fill="#ff0000"/>
<line x1="593.45" y1="334.90" x2="593.45" y2="333.20" stroke="#ff0000" stroke-width="0.8"/>
<line x1="590.25" y1="333.20" x2="596.65" y2="333.20" stroke="#ff0000" stroke-width="0.8"/>
<rect x="616.30" y="380.00" width="11.60" height="11.20" fill="#0000ff"/>
<line x1="622.10" y1="380.00" x2="622.10" y2="379.40" stroke="#0000ff" stroke-width="0.8"/>
<line x1="618.90" y1="379.40" x2="625.30" y2="379.40" stroke="#0000ff" stroke-width="0.8"/>
<rect x="633.80" y="374.10" width="11.60" height="17.10" fill="#ff0000"/>
<line x1="639.60" y1="374.10" x2="639.60" y2="373.20" stroke="#ff0000" stroke-width="0.8"/>
<line x1="636.40" y1="373.20" x2="642.80" y2="373.20" stroke="#ff0000" stroke-width="0.8"/>
<line x1="584.40" y1="391.20" x2="584.40" y2="392.80" stroke="#333" stroke-width="0.6"/>
<line x1="630.70" y1="391.20" x2="630.70" y2="392.80" stroke="#333" stroke-width="0.6"/>
<text x="584.40" y="399.00" font-size="5.8" font-weight="bold" text-anchor="middle" textLength="12.80" lengthAdjust="spacingAndGlyphs" fill="#111">GBM6</text>
<text x="630.70" y="399.00" font-size="5.8" font-weight="bold" text-anchor="middle" textLength="15.80" lengthAdjust="spacingAndGlyphs" fill="#111">GBM6R</text>
<rect x="644.20" y="323.90" width="6.80" height="5.70" fill="#0000ff"/>
<rect x="644.20" y="333.70" width="6.80" height="5.50" fill="#ff0000"/>
<text x="653.80" y="328.90" font-size="5.2" textLength="15.00" lengthAdjust="spacingAndGlyphs" fill="#333">DMSO</text>
<text x="653.80" y="338.50" font-size="5.2" textLength="10.50" lengthAdjust="spacingAndGlyphs" fill="#333">TMZ</text>
<line x1="671.50" y1="325.00" x2="671.50" y2="337.60" stroke="#333" stroke-width="0.9"/>
<path d="M674.40,331.40 L674.40,333.40 M673.53,331.90 L675.27,332.90 M673.53,332.90 L675.27,331.90 " fill="none" stroke="#333" stroke-width="0.55"/>
<path d="M676.53,331.40 L676.53,333.40 M675.67,331.90 L677.40,332.90 M675.67,332.90 L677.40,331.90 " fill="none" stroke="#333" stroke-width="0.55"/>
<path d="M678.67,331.40 L678.67,333.40 M677.80,331.90 L679.53,332.90 M677.80,332.90 L679.53,331.90 " fill="none" stroke="#333" stroke-width="0.55"/>
<path d="M680.80,331.40 L680.80,333.40 M679.93,331.90 L681.67,332.90 M679.93,332.90 L681.67,331.90 " fill="none" stroke="#333" stroke-width="0.55"/>
</svg></body></html>
